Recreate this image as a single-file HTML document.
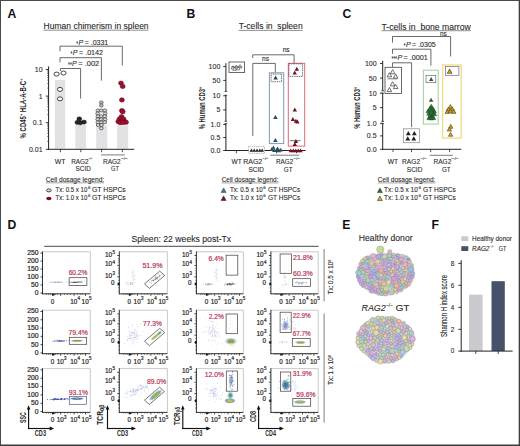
<!DOCTYPE html>
<html><head><meta charset="utf-8"><style>
html,body{margin:0;padding:0;background:#fff;}
body{width:520px;height:446px;overflow:hidden;font-family:"Liberation Sans", sans-serif;}
svg{display:block;}
</style></head><body>
<svg width="520" height="446" viewBox="0 0 520 446" font-family='"Liberation Sans", sans-serif' fill="#2a2a2a">
<rect x="0.5" y="0.5" width="519" height="445" fill="none" stroke="#4a4a4a" stroke-width="1" />
<line x1="0" y1="445.2" x2="520" y2="445.2" stroke="#3a3a3a" stroke-width="1.2" />
<line x1="519.2" y1="0" x2="519.2" y2="446" stroke="#3a3a3a" stroke-width="1" />
<text x="7.4" y="17.6" font-size="12.2" font-weight="bold" fill="#111">A</text>
<text x="186.4" y="17.6" font-size="12.2" font-weight="bold" fill="#111">B</text>
<text x="342.5" y="18" font-size="12.2" font-weight="bold" fill="#111">C</text>
<text x="7.6" y="228.8" font-size="12.2" font-weight="bold" fill="#111">D</text>
<text x="342.3" y="228.8" font-size="12.2" font-weight="bold" fill="#111">E</text>
<text x="431.5" y="228.8" font-size="12.2" font-weight="bold" fill="#111">F</text>
<text x="43.6" y="29.2" font-size="8.6" textLength="105" lengthAdjust="spacingAndGlyphs" stroke="#2a2a2a" stroke-width="0.1">Human chimerism in spleen</text>
<line x1="43.6" y1="30.2" x2="148.6" y2="30.2" stroke="#444" stroke-width="0.6" />
<text x="76.3" y="45.5" font-size="7.4" font-weight="bold" textLength="1.8" lengthAdjust="spacingAndGlyphs">*</text>
<text x="78.5" y="44.6" font-size="7" font-style="italic" stroke="#2a2a2a" stroke-width="0.1">P</text>
<text x="84.7" y="44.6" font-size="7" textLength="23.5" lengthAdjust="spacingAndGlyphs" stroke="#2a2a2a" stroke-width="0.1">= .0331</text>
<text x="70.6" y="56" font-size="7.4" font-weight="bold" textLength="1.8" lengthAdjust="spacingAndGlyphs">*</text>
<text x="72.8" y="55.1" font-size="7" font-style="italic" stroke="#2a2a2a" stroke-width="0.1">P</text>
<text x="79" y="55.1" font-size="7" textLength="24" lengthAdjust="spacingAndGlyphs" stroke="#2a2a2a" stroke-width="0.1">= .0142</text>
<text x="68.1" y="67.1" font-size="7.4" font-weight="bold" textLength="3.6" lengthAdjust="spacingAndGlyphs">**</text>
<text x="72.1" y="66.2" font-size="7" font-style="italic" stroke="#2a2a2a" stroke-width="0.1">P</text>
<text x="78.3" y="66.2" font-size="7" textLength="21" lengthAdjust="spacingAndGlyphs" stroke="#2a2a2a" stroke-width="0.1">= .002</text>
<path d="M60,51.4V46.2H122.3V65.5" stroke="#444" stroke-width="0.8" fill="none" />
<path d="M60,62.4V57.7H101.4V80.6" stroke="#444" stroke-width="0.8" fill="none" />
<path d="M60.4,71V68.5H80.6V98.5" stroke="#444" stroke-width="0.8" fill="none" />
<rect x="54.8" y="80" width="10.4" height="68.6" fill="#e2e2e5" />
<rect x="75.3" y="124.8" width="10.8" height="23.8" fill="#e2e2e5" />
<rect x="96.2" y="125.5" width="11" height="23.1" fill="#e2e2e5" />
<rect x="117.1" y="125.5" width="11" height="23.1" fill="#e2e2e5" />
<line x1="48.6" y1="66.4" x2="48.6" y2="149.6" stroke="#222" stroke-width="1" />
<line x1="48.1" y1="149.3" x2="134.2" y2="149.3" stroke="#222" stroke-width="1" />
<line x1="45.8" y1="69.5" x2="48.6" y2="69.5" stroke="#222" stroke-width="0.9" />
<text x="42.6" y="72" font-size="7" text-anchor="end" stroke="#2a2a2a" stroke-width="0.1">10</text>
<line x1="47" y1="88.09" x2="48.6" y2="88.09" stroke="#222" stroke-width="0.5" />
<line x1="47" y1="83.41" x2="48.6" y2="83.41" stroke="#222" stroke-width="0.5" />
<line x1="47" y1="80.09" x2="48.6" y2="80.09" stroke="#222" stroke-width="0.5" />
<line x1="47" y1="77.51" x2="48.6" y2="77.51" stroke="#222" stroke-width="0.5" />
<line x1="47" y1="75.4" x2="48.6" y2="75.4" stroke="#222" stroke-width="0.5" />
<line x1="47" y1="73.62" x2="48.6" y2="73.62" stroke="#222" stroke-width="0.5" />
<line x1="47" y1="72.08" x2="48.6" y2="72.08" stroke="#222" stroke-width="0.5" />
<line x1="47" y1="70.72" x2="48.6" y2="70.72" stroke="#222" stroke-width="0.5" />
<line x1="45.8" y1="96.1" x2="48.6" y2="96.1" stroke="#222" stroke-width="0.9" />
<text x="42.6" y="98.6" font-size="7" text-anchor="end" stroke="#2a2a2a" stroke-width="0.1">1</text>
<line x1="47" y1="114.69" x2="48.6" y2="114.69" stroke="#222" stroke-width="0.5" />
<line x1="47" y1="110.01" x2="48.6" y2="110.01" stroke="#222" stroke-width="0.5" />
<line x1="47" y1="106.69" x2="48.6" y2="106.69" stroke="#222" stroke-width="0.5" />
<line x1="47" y1="104.11" x2="48.6" y2="104.11" stroke="#222" stroke-width="0.5" />
<line x1="47" y1="102" x2="48.6" y2="102" stroke="#222" stroke-width="0.5" />
<line x1="47" y1="100.22" x2="48.6" y2="100.22" stroke="#222" stroke-width="0.5" />
<line x1="47" y1="98.68" x2="48.6" y2="98.68" stroke="#222" stroke-width="0.5" />
<line x1="47" y1="97.32" x2="48.6" y2="97.32" stroke="#222" stroke-width="0.5" />
<line x1="45.8" y1="122.7" x2="48.6" y2="122.7" stroke="#222" stroke-width="0.9" />
<text x="42.6" y="125.2" font-size="7" text-anchor="end" stroke="#2a2a2a" stroke-width="0.1">0.1</text>
<line x1="47" y1="141.29" x2="48.6" y2="141.29" stroke="#222" stroke-width="0.5" />
<line x1="47" y1="136.61" x2="48.6" y2="136.61" stroke="#222" stroke-width="0.5" />
<line x1="47" y1="133.29" x2="48.6" y2="133.29" stroke="#222" stroke-width="0.5" />
<line x1="47" y1="130.71" x2="48.6" y2="130.71" stroke="#222" stroke-width="0.5" />
<line x1="47" y1="128.6" x2="48.6" y2="128.6" stroke="#222" stroke-width="0.5" />
<line x1="47" y1="126.82" x2="48.6" y2="126.82" stroke="#222" stroke-width="0.5" />
<line x1="47" y1="125.28" x2="48.6" y2="125.28" stroke="#222" stroke-width="0.5" />
<line x1="47" y1="123.92" x2="48.6" y2="123.92" stroke="#222" stroke-width="0.5" />
<line x1="45.8" y1="149.3" x2="48.6" y2="149.3" stroke="#222" stroke-width="0.9" />
<text x="42.6" y="151.8" font-size="7" text-anchor="end" stroke="#2a2a2a" stroke-width="0.1">0.01</text>
<line x1="60.4" y1="149.3" x2="60.4" y2="152.2" stroke="#222" stroke-width="0.8" />
<line x1="80.8" y1="149.3" x2="80.8" y2="152.2" stroke="#222" stroke-width="0.8" />
<line x1="101.6" y1="149.3" x2="101.6" y2="152.2" stroke="#222" stroke-width="0.8" />
<line x1="122.4" y1="149.3" x2="122.4" y2="152.2" stroke="#222" stroke-width="0.8" />
<text font-size="8.3" font-weight="bold" transform="translate(25.8,108.5) rotate(-90) scale(0.7244,1)" x="-41.28" y="0"><tspan font-size="8.3" dy="0">% CD45</tspan><tspan font-size="5.15" dy="-3.15">+</tspan><tspan font-size="8.3" dy="3.15"> HLA-A-B-C</tspan><tspan font-size="5.15" dy="-3.15">+</tspan></text>
<ellipse cx="56.6" cy="74.1" rx="2.6" ry="2" fill="#fff" stroke="#333" stroke-width="0.9"/>
<ellipse cx="63.5" cy="73" rx="2.6" ry="2" fill="#fff" stroke="#333" stroke-width="0.9"/>
<ellipse cx="60" cy="89.4" rx="2.6" ry="2" fill="#fff" stroke="#333" stroke-width="0.9"/>
<ellipse cx="60" cy="98.9" rx="2.6" ry="2" fill="#fff" stroke="#333" stroke-width="0.9"/>
<ellipse cx="79.3" cy="118.9" rx="2.5" ry="2.1" fill="#262626" stroke="#111" stroke-width="0.4"/>
<ellipse cx="77.4" cy="122.4" rx="2.5" ry="2.1" fill="#262626" stroke="#111" stroke-width="0.4"/>
<ellipse cx="84" cy="122.1" rx="2.5" ry="2.1" fill="#262626" stroke="#111" stroke-width="0.4"/>
<ellipse cx="80.4" cy="122.8" rx="2.5" ry="2.1" fill="#262626" stroke="#111" stroke-width="0.4"/>
<ellipse cx="101.3" cy="102.5" rx="1.9" ry="1.5" fill="#dadada" stroke="#3a3a3a" stroke-width="0.7"/>
<ellipse cx="101.3" cy="105.5" rx="1.9" ry="1.5" fill="#dadada" stroke="#3a3a3a" stroke-width="0.7"/>
<ellipse cx="97.9" cy="110.5" rx="1.9" ry="1.5" fill="#dadada" stroke="#3a3a3a" stroke-width="0.7"/>
<ellipse cx="101.3" cy="110.5" rx="1.9" ry="1.5" fill="#dadada" stroke="#3a3a3a" stroke-width="0.7"/>
<ellipse cx="104.9" cy="110.5" rx="1.9" ry="1.5" fill="#dadada" stroke="#3a3a3a" stroke-width="0.7"/>
<ellipse cx="97.7" cy="113.5" rx="1.9" ry="1.5" fill="#dadada" stroke="#3a3a3a" stroke-width="0.7"/>
<ellipse cx="105.1" cy="113.5" rx="1.9" ry="1.5" fill="#dadada" stroke="#3a3a3a" stroke-width="0.7"/>
<ellipse cx="97.9" cy="116.3" rx="1.9" ry="1.5" fill="#dadada" stroke="#3a3a3a" stroke-width="0.7"/>
<ellipse cx="101.2" cy="116.3" rx="1.9" ry="1.5" fill="#dadada" stroke="#3a3a3a" stroke-width="0.7"/>
<ellipse cx="104.9" cy="116.3" rx="1.9" ry="1.5" fill="#dadada" stroke="#3a3a3a" stroke-width="0.7"/>
<ellipse cx="97.7" cy="119.3" rx="1.9" ry="1.5" fill="#dadada" stroke="#3a3a3a" stroke-width="0.7"/>
<ellipse cx="101.2" cy="119.3" rx="1.9" ry="1.5" fill="#dadada" stroke="#3a3a3a" stroke-width="0.7"/>
<ellipse cx="105.1" cy="119.3" rx="1.9" ry="1.5" fill="#dadada" stroke="#3a3a3a" stroke-width="0.7"/>
<ellipse cx="97.9" cy="122.3" rx="1.9" ry="1.5" fill="#dadada" stroke="#3a3a3a" stroke-width="0.7"/>
<ellipse cx="101.3" cy="122.3" rx="1.9" ry="1.5" fill="#dadada" stroke="#3a3a3a" stroke-width="0.7"/>
<ellipse cx="104.8" cy="122.3" rx="1.9" ry="1.5" fill="#dadada" stroke="#3a3a3a" stroke-width="0.7"/>
<ellipse cx="98.2" cy="125" rx="1.9" ry="1.5" fill="#dadada" stroke="#3a3a3a" stroke-width="0.7"/>
<ellipse cx="101.5" cy="125" rx="1.9" ry="1.5" fill="#dadada" stroke="#3a3a3a" stroke-width="0.7"/>
<ellipse cx="101.3" cy="128.3" rx="1.9" ry="1.5" fill="#dadada" stroke="#3a3a3a" stroke-width="0.7"/>
<line x1="99.6" y1="102.5" x2="103" y2="102.5" stroke="#888" stroke-width="0.5" />
<line x1="99.6" y1="105.5" x2="103" y2="105.5" stroke="#888" stroke-width="0.5" />
<ellipse cx="121" cy="83.1" rx="2.5" ry="2.2" fill="#a0102e" stroke="#5a0818" stroke-width="0.5"/>
<ellipse cx="122.7" cy="86.4" rx="2.5" ry="2.2" fill="#a0102e" stroke="#5a0818" stroke-width="0.5"/>
<ellipse cx="121.9" cy="99.9" rx="2.5" ry="2.2" fill="#a0102e" stroke="#5a0818" stroke-width="0.5"/>
<ellipse cx="121.9" cy="110.6" rx="2.5" ry="2.2" fill="#a0102e" stroke="#5a0818" stroke-width="0.5"/>
<ellipse cx="122.7" cy="111.7" rx="2.5" ry="2.2" fill="#a0102e" stroke="#5a0818" stroke-width="0.5"/>
<ellipse cx="121.5" cy="116.8" rx="2.5" ry="2.2" fill="#a0102e" stroke="#5a0818" stroke-width="0.5"/>
<ellipse cx="119.5" cy="119" rx="2.5" ry="2.2" fill="#a0102e" stroke="#5a0818" stroke-width="0.5"/>
<ellipse cx="123.5" cy="119" rx="2.5" ry="2.2" fill="#a0102e" stroke="#5a0818" stroke-width="0.5"/>
<ellipse cx="118.3" cy="121.5" rx="2.5" ry="2.2" fill="#a0102e" stroke="#5a0818" stroke-width="0.5"/>
<ellipse cx="121" cy="121.8" rx="2.5" ry="2.2" fill="#a0102e" stroke="#5a0818" stroke-width="0.5"/>
<ellipse cx="124.3" cy="121.5" rx="2.5" ry="2.2" fill="#a0102e" stroke="#5a0818" stroke-width="0.5"/>
<ellipse cx="126" cy="122.2" rx="2.5" ry="2.2" fill="#a0102e" stroke="#5a0818" stroke-width="0.5"/>
<ellipse cx="120" cy="122.6" rx="2.5" ry="2.2" fill="#a0102e" stroke="#5a0818" stroke-width="0.5"/>
<ellipse cx="122.8" cy="122.6" rx="2.5" ry="2.2" fill="#a0102e" stroke="#5a0818" stroke-width="0.5"/>
<text x="54.8" y="163.9" font-size="7" textLength="10.8" lengthAdjust="spacingAndGlyphs" stroke="#2a2a2a" stroke-width="0.1">WT</text>
<text x="71.2" y="163.9" font-size="7" textLength="17.3" lengthAdjust="spacingAndGlyphs" stroke="#2a2a2a" stroke-width="0.1">RAG2</text>
<text x="88.8" y="160.3" font-size="4.3" textLength="3.8" lengthAdjust="spacingAndGlyphs" stroke="#2a2a2a" stroke-width="0.1">&#8722;/&#8722;</text>
<text x="75.5" y="171.4" font-size="7" textLength="15.3" lengthAdjust="spacingAndGlyphs" stroke="#2a2a2a" stroke-width="0.1">SCID</text>
<text x="103" y="163.9" font-size="7" textLength="17.6" lengthAdjust="spacingAndGlyphs" stroke="#2a2a2a" stroke-width="0.1">RAG2</text>
<text x="120.9" y="160.3" font-size="4.3" textLength="6.9" lengthAdjust="spacingAndGlyphs" stroke="#2a2a2a" stroke-width="0.1">&#8722;/&#8722;</text>
<text x="111" y="171.4" font-size="7" textLength="7.9" lengthAdjust="spacingAndGlyphs" stroke="#2a2a2a" stroke-width="0.1">GT</text>
<line x1="101" y1="154.9" x2="124.8" y2="154.9" stroke="#444" stroke-width="0.7" />
<text x="45.8" y="181.8" font-size="6.6" textLength="58.4" lengthAdjust="spacingAndGlyphs" stroke="#2a2a2a" stroke-width="0.1">Cell dosage legend:</text>
<line x1="45.8" y1="182.8" x2="104.2" y2="182.8" stroke="#444" stroke-width="0.5" />
<ellipse cx="48.9" cy="190.4" rx="2.4" ry="1.5" fill="#dcdcdc" stroke="#333" stroke-width="0.9"/>
<text x="55.5" y="192.3" font-size="6.7" textLength="31.8" lengthAdjust="spacingAndGlyphs" stroke="#2a2a2a" stroke-width="0.1">Tx: 0.5 x 10</text>
<text x="87.9" y="189.3" font-size="4.4" stroke="#2a2a2a" stroke-width="0.1">6</text>
<text x="91.9" y="192.3" font-size="6.7" textLength="33.9" lengthAdjust="spacingAndGlyphs" stroke="#2a2a2a" stroke-width="0.1">GT HSPCs</text>
<ellipse cx="48.9" cy="198.5" rx="2.7" ry="1.8" fill="#7a0c22"/>
<text x="55.5" y="200.3" font-size="6.7" textLength="31.8" lengthAdjust="spacingAndGlyphs" stroke="#2a2a2a" stroke-width="0.1">Tx: 1.0 x 10</text>
<text x="87.9" y="197.3" font-size="4.4" stroke="#2a2a2a" stroke-width="0.1">6</text>
<text x="91.9" y="200.3" font-size="6.7" textLength="33.9" lengthAdjust="spacingAndGlyphs" stroke="#2a2a2a" stroke-width="0.1">GT HSPCs</text>
<text x="238.7" y="29.4" font-size="8.6" textLength="64" lengthAdjust="spacingAndGlyphs" stroke="#2a2a2a" stroke-width="0.1">T-cells in&#160;&#160;spleen</text>
<line x1="238.7" y1="30.4" x2="302.7" y2="30.4" stroke="#444" stroke-width="0.6" />
<text x="282.7" y="51.6" font-size="7" textLength="7" lengthAdjust="spacingAndGlyphs" stroke="#2a2a2a" stroke-width="0.1">ns</text>
<text x="262" y="61.4" font-size="7" textLength="7" lengthAdjust="spacingAndGlyphs" stroke="#2a2a2a" stroke-width="0.1">ns</text>
<path d="M252.7,58V54.8H294.1V63.2" stroke="#444" stroke-width="0.8" fill="none" />
<path d="M252.8,136V63.4H275.3V72.6" stroke="#444" stroke-width="0.8" fill="none" />
<line x1="225.9" y1="63.2" x2="225.9" y2="91.4" stroke="#222" stroke-width="1" />
<line x1="225.9" y1="95.3" x2="225.9" y2="121.3" stroke="#222" stroke-width="1" />
<line x1="225.9" y1="123.6" x2="225.9" y2="150.9" stroke="#222" stroke-width="1" />
<line x1="224.6" y1="91.4" x2="227.2" y2="91.4" stroke="#222" stroke-width="0.8" />
<line x1="224.6" y1="95.3" x2="227.2" y2="95.3" stroke="#222" stroke-width="0.8" />
<line x1="224.6" y1="121.3" x2="227.2" y2="121.3" stroke="#222" stroke-width="0.8" />
<line x1="224.6" y1="123.6" x2="227.2" y2="123.6" stroke="#222" stroke-width="0.8" />
<line x1="223.2" y1="66.6" x2="225.9" y2="66.6" stroke="#222" stroke-width="0.9" />
<text x="220.3" y="69.1" font-size="7" text-anchor="end" stroke="#2a2a2a" stroke-width="0.1">100</text>
<line x1="223.2" y1="80.4" x2="225.9" y2="80.4" stroke="#222" stroke-width="0.9" />
<text x="220.3" y="82.9" font-size="7" text-anchor="end" stroke="#2a2a2a" stroke-width="0.1">50</text>
<line x1="223.2" y1="95.8" x2="225.9" y2="95.8" stroke="#222" stroke-width="0.9" />
<text x="220.3" y="98.3" font-size="7" text-anchor="end" stroke="#2a2a2a" stroke-width="0.1">10</text>
<line x1="223.2" y1="109.9" x2="225.9" y2="109.9" stroke="#222" stroke-width="0.9" />
<text x="220.3" y="112.4" font-size="7" text-anchor="end" stroke="#2a2a2a" stroke-width="0.1">5</text>
<line x1="223.2" y1="124.4" x2="225.9" y2="124.4" stroke="#222" stroke-width="0.9" />
<text x="220.3" y="126.9" font-size="7" text-anchor="end" stroke="#2a2a2a" stroke-width="0.1">1.0</text>
<line x1="223.2" y1="137.5" x2="225.9" y2="137.5" stroke="#222" stroke-width="0.9" />
<text x="220.3" y="140" font-size="7" text-anchor="end" stroke="#2a2a2a" stroke-width="0.1">0.5</text>
<line x1="223.2" y1="150.5" x2="225.9" y2="150.5" stroke="#222" stroke-width="0.9" />
<text x="220.3" y="153" font-size="7" text-anchor="end" stroke="#2a2a2a" stroke-width="0.1">0.0</text>
<line x1="225.4" y1="150.5" x2="305.6" y2="150.5" stroke="#222" stroke-width="1" />
<line x1="236.4" y1="150.5" x2="236.4" y2="153.3" stroke="#222" stroke-width="0.8" />
<line x1="256.5" y1="150.5" x2="256.5" y2="153.3" stroke="#222" stroke-width="0.8" />
<line x1="276.5" y1="150.5" x2="276.5" y2="153.3" stroke="#222" stroke-width="0.8" />
<line x1="296.5" y1="150.5" x2="296.5" y2="153.3" stroke="#222" stroke-width="0.8" />
<text font-size="8.4" font-weight="bold" transform="translate(205.1,108.1) rotate(-90) scale(0.7031,1)" x="-30.23" y="0"><tspan font-size="8.4" dy="0">% Human CD3</tspan><tspan font-size="5.21" dy="-3.19">+</tspan></text>
<rect x="229" y="62" width="15.6" height="10.4" fill="#fff" stroke="#444" stroke-width="0.8" />
<path d="M233,65.78L234.8,69.02L231.2,69.02Z" fill="#fff" stroke="#333" stroke-width="0.55" stroke-linejoin="round"/>
<path d="M236.4,64.98L238.2,68.22L234.6,68.22Z" fill="#fff" stroke="#333" stroke-width="0.55" stroke-linejoin="round"/>
<path d="M240,64.58L241.8,67.82L238.2,67.82Z" fill="#fff" stroke="#333" stroke-width="0.55" stroke-linejoin="round"/>
<path d="M238.2,66.58L240,69.82L236.4,69.82Z" fill="#fff" stroke="#333" stroke-width="0.55" stroke-linejoin="round"/>
<path d="M234.6,67.18L236.4,70.42L232.8,70.42Z" fill="#fff" stroke="#333" stroke-width="0.55" stroke-linejoin="round"/>
<line x1="231.1" y1="66.9" x2="242.3" y2="66.9" stroke="#333" stroke-width="0.6" />
<rect x="269.4" y="72.8" width="14.3" height="70.8" fill="none" stroke="#7f98bd" stroke-width="1" />
<rect x="288.3" y="63.3" width="16.4" height="82.8" fill="none" stroke="#de6a79" stroke-width="1" />
<rect x="271.1" y="74.1" width="10.5" height="7.6" fill="none" stroke="#3a3a40" stroke-width="0.75" stroke-dasharray="1.1,0.7"/>
<rect x="288.9" y="63.8" width="13.7" height="12.6" fill="none" stroke="#3a3038" stroke-width="0.75" stroke-dasharray="1.1,0.7"/>
<rect x="248.6" y="146.4" width="15.9" height="6.9" fill="#fff" stroke="#777" stroke-width="0.6" stroke-dasharray="1,0.8"/>
<path d="M275.6,75.62L277.8,79.58L273.4,79.58Z" fill="#2a3f4a"/>
<path d="M275.4,114.89L277.75,119.11L273.05,119.11Z" fill="#28525e"/>
<path d="M275.4,137.88L277.75,142.12L273.05,142.12Z" fill="#28525e"/>
<path d="M271.8,147.11L273.9,150.89L269.7,150.89Z" fill="#28525e"/>
<path d="M274.2,148.31L276.3,152.09L272.1,152.09Z" fill="#28525e"/>
<path d="M276.6,148.11L278.7,151.89L274.5,151.89Z" fill="#28525e"/>
<path d="M279,148.51L281.1,152.29L276.9,152.29Z" fill="#28525e"/>
<path d="M273.4,145.41L275.5,149.19L271.3,149.19Z" fill="#28525e"/>
<path d="M280.8,147.71L282.9,151.49L278.7,151.49Z" fill="#28525e"/>
<path d="M277.6,146.41L279.7,150.19L275.5,150.19Z" fill="#28525e"/>
<path d="M296.8,66.72L299,70.68L294.6,70.68Z" fill="#72102c"/>
<path d="M294.7,70.42L296.9,74.38L292.5,74.38Z" fill="#72102c"/>
<path d="M294.8,107.62L297,111.58L292.6,111.58Z" fill="#72102c"/>
<path d="M292.9,117.02L295.1,120.98L290.7,120.98Z" fill="#72102c"/>
<path d="M295.9,118.72L298.1,122.68L293.7,122.68Z" fill="#72102c"/>
<path d="M297.4,119.42L299.6,123.38L295.2,123.38Z" fill="#72102c"/>
<path d="M295.9,139.02L298.1,142.98L293.7,142.98Z" fill="#72102c"/>
<path d="M294.8,141.92L297,145.88L292.6,145.88Z" fill="#72102c"/>
<line x1="289.7" y1="140.7" x2="300.4" y2="140.7" stroke="#333" stroke-width="0.7" />
<path d="M290.8,148.41L292.9,152.19L288.7,152.19Z" fill="#72102c"/>
<path d="M293.3,148.41L295.4,152.19L291.2,152.19Z" fill="#72102c"/>
<path d="M295.8,148.41L297.9,152.19L293.7,152.19Z" fill="#72102c"/>
<path d="M298.3,148.41L300.4,152.19L296.2,152.19Z" fill="#72102c"/>
<path d="M300.6,148.41L302.7,152.19L298.5,152.19Z" fill="#72102c"/>
<path d="M251.4,148.58L253.2,151.82L249.6,151.82Z" fill="#222"/>
<path d="M254.2,148.58L256,151.82L252.4,151.82Z" fill="#222"/>
<path d="M257,148.58L258.8,151.82L255.2,151.82Z" fill="#222"/>
<path d="M259.8,148.58L261.6,151.82L258,151.82Z" fill="#222"/>
<path d="M262.2,148.58L264,151.82L260.4,151.82Z" fill="#222"/>
<text x="231.6" y="163.8" font-size="7" textLength="10.2" lengthAdjust="spacingAndGlyphs" stroke="#2a2a2a" stroke-width="0.1">WT</text>
<text x="243.2" y="163.8" font-size="7" textLength="19" lengthAdjust="spacingAndGlyphs" stroke="#2a2a2a" stroke-width="0.1">RAG2</text>
<text x="262.5" y="160.2" font-size="4.3" textLength="5.9" lengthAdjust="spacingAndGlyphs" stroke="#2a2a2a" stroke-width="0.1">&#8722;/&#8722;</text>
<text x="248.4" y="172" font-size="7" textLength="15.5" lengthAdjust="spacingAndGlyphs" stroke="#2a2a2a" stroke-width="0.1">SCID</text>
<text x="276" y="163.8" font-size="7" textLength="17.3" lengthAdjust="spacingAndGlyphs" stroke="#2a2a2a" stroke-width="0.1">RAG2</text>
<text x="293.6" y="160.2" font-size="4.3" textLength="6.7" lengthAdjust="spacingAndGlyphs" stroke="#2a2a2a" stroke-width="0.1">&#8722;/&#8722;</text>
<text x="283.8" y="172" font-size="7" textLength="8.7" lengthAdjust="spacingAndGlyphs" stroke="#2a2a2a" stroke-width="0.1">GT</text>
<line x1="270.3" y1="155.2" x2="299.4" y2="155.2" stroke="#444" stroke-width="0.7" />
<text x="221.7" y="181.9" font-size="6.6" textLength="56.8" lengthAdjust="spacingAndGlyphs" stroke="#2a2a2a" stroke-width="0.1">Cell dosage legend:</text>
<line x1="221.7" y1="182.9" x2="278.5" y2="182.9" stroke="#444" stroke-width="0.5" />
<path d="M223.6,187.95L226.1,192.45L221.1,192.45Z" fill="#3a7890" stroke="#1e3c48" stroke-width="0.5" stroke-linejoin="round"/>
<text x="229.9" y="192.4" font-size="6.7" textLength="32.8" lengthAdjust="spacingAndGlyphs" stroke="#2a2a2a" stroke-width="0.1">Tx: 0.5 x 10</text>
<text x="263.3" y="189.4" font-size="4.4" stroke="#2a2a2a" stroke-width="0.1">6</text>
<text x="268" y="192.4" font-size="6.7" textLength="32.2" lengthAdjust="spacingAndGlyphs" stroke="#2a2a2a" stroke-width="0.1">GT HSPCs</text>
<path d="M223.6,195.95L226.1,200.45L221.1,200.45Z" fill="#6a1a30" stroke="#3a0a18" stroke-width="0.5" stroke-linejoin="round"/>
<text x="229.9" y="200.4" font-size="6.7" textLength="32.8" lengthAdjust="spacingAndGlyphs" stroke="#2a2a2a" stroke-width="0.1">Tx: 1.0 x 10</text>
<text x="263.3" y="197.4" font-size="4.4" stroke="#2a2a2a" stroke-width="0.1">6</text>
<text x="268" y="200.4" font-size="6.7" textLength="32.2" lengthAdjust="spacingAndGlyphs" stroke="#2a2a2a" stroke-width="0.1">GT HSPCs</text>
<text x="381.5" y="29.7" font-size="8.6" textLength="89.3" lengthAdjust="spacingAndGlyphs" stroke="#2a2a2a" stroke-width="0.1">T-cells in&#160;&#160;bone marrow</text>
<line x1="381.5" y1="30.7" x2="470.8" y2="30.7" stroke="#444" stroke-width="0.6" />
<text x="440" y="35.6" font-size="7" textLength="6.8" lengthAdjust="spacingAndGlyphs" stroke="#2a2a2a" stroke-width="0.1">ns</text>
<text x="403.7" y="47.9" font-size="7.4" font-weight="bold" textLength="1.8" lengthAdjust="spacingAndGlyphs">*</text>
<text x="405.9" y="47" font-size="7" font-style="italic" stroke="#2a2a2a" stroke-width="0.1">P</text>
<text x="412.1" y="47" font-size="7" textLength="23.7" lengthAdjust="spacingAndGlyphs" stroke="#2a2a2a" stroke-width="0.1">= .0305</text>
<text x="391.6" y="61.3" font-size="7.4" font-weight="bold" textLength="5.4" lengthAdjust="spacingAndGlyphs">***</text>
<text x="397.4" y="60.4" font-size="7" font-style="italic" stroke="#2a2a2a" stroke-width="0.1">P</text>
<text x="403.6" y="60.4" font-size="7" textLength="24.3" lengthAdjust="spacingAndGlyphs" stroke="#2a2a2a" stroke-width="0.1">= .0001</text>
<path d="M392.5,42.7V36.5H450.6V56.5" stroke="#444" stroke-width="0.8" fill="none" />
<path d="M392.5,53.8V49.2H430.9V65.7" stroke="#444" stroke-width="0.8" fill="none" />
<path d="M392.6,67.3V62.8H411.6V127.2" stroke="#444" stroke-width="0.8" fill="none" />
<line x1="382.7" y1="60.8" x2="382.7" y2="90.8" stroke="#222" stroke-width="1" />
<line x1="382.7" y1="93.2" x2="382.7" y2="121.4" stroke="#222" stroke-width="1" />
<line x1="382.7" y1="123.6" x2="382.7" y2="149.8" stroke="#222" stroke-width="1" />
<line x1="381.4" y1="90.8" x2="384" y2="90.8" stroke="#222" stroke-width="0.8" />
<line x1="381.4" y1="93.2" x2="384" y2="93.2" stroke="#222" stroke-width="0.8" />
<line x1="381.4" y1="121.4" x2="384" y2="121.4" stroke="#222" stroke-width="0.8" />
<line x1="381.4" y1="123.6" x2="384" y2="123.6" stroke="#222" stroke-width="0.8" />
<line x1="380" y1="63.5" x2="382.7" y2="63.5" stroke="#222" stroke-width="0.9" />
<text x="376.6" y="66" font-size="7" text-anchor="end" stroke="#2a2a2a" stroke-width="0.1">100</text>
<line x1="380" y1="78.1" x2="382.7" y2="78.1" stroke="#222" stroke-width="0.9" />
<text x="376.6" y="80.6" font-size="7" text-anchor="end" stroke="#2a2a2a" stroke-width="0.1">50</text>
<line x1="380" y1="93.2" x2="382.7" y2="93.2" stroke="#222" stroke-width="0.9" />
<text x="376.6" y="95.7" font-size="7" text-anchor="end" stroke="#2a2a2a" stroke-width="0.1">10</text>
<line x1="380" y1="107.6" x2="382.7" y2="107.6" stroke="#222" stroke-width="0.9" />
<text x="376.6" y="110.1" font-size="7" text-anchor="end" stroke="#2a2a2a" stroke-width="0.1">5</text>
<line x1="380" y1="123.3" x2="382.7" y2="123.3" stroke="#222" stroke-width="0.9" />
<text x="376.6" y="125.8" font-size="7" text-anchor="end" stroke="#2a2a2a" stroke-width="0.1">1.0</text>
<line x1="380" y1="135.9" x2="382.7" y2="135.9" stroke="#222" stroke-width="0.9" />
<text x="376.6" y="138.4" font-size="7" text-anchor="end" stroke="#2a2a2a" stroke-width="0.1">0.5</text>
<line x1="380" y1="149.3" x2="382.7" y2="149.3" stroke="#222" stroke-width="0.9" />
<text x="376.6" y="151.8" font-size="7" text-anchor="end" stroke="#2a2a2a" stroke-width="0.1">0.0</text>
<line x1="382.2" y1="149.3" x2="461.3" y2="149.3" stroke="#222" stroke-width="1" />
<line x1="393" y1="149.3" x2="393" y2="152.1" stroke="#222" stroke-width="0.8" />
<line x1="411.5" y1="149.3" x2="411.5" y2="152.1" stroke="#222" stroke-width="0.8" />
<line x1="430.7" y1="149.3" x2="430.7" y2="152.1" stroke="#222" stroke-width="0.8" />
<line x1="449.6" y1="149.3" x2="449.6" y2="152.1" stroke="#222" stroke-width="0.8" />
<text font-size="8.4" font-weight="bold" transform="translate(360.3,107.9) rotate(-90) scale(0.6931,1)" x="-30.23" y="0"><tspan font-size="8.4" dy="0">% Human CD3</tspan><tspan font-size="5.21" dy="-3.19">+</tspan></text>
<rect x="385" y="67.3" width="16.4" height="26.2" fill="#fff" stroke="#444" stroke-width="0.8" />
<rect x="403.5" y="128.8" width="16.1" height="13.9" fill="#fff" stroke="#888" stroke-width="0.7" />
<rect x="423.4" y="70.2" width="14.8" height="53.9" fill="none" stroke="#a9d2a9" stroke-width="1.1" />
<rect x="442.6" y="65" width="18.6" height="73.1" fill="none" stroke="#f3da86" stroke-width="1.3" />
<rect x="426" y="75.3" width="9.8" height="7.4" fill="none" stroke="#555" stroke-width="0.6" />
<rect x="445.5" y="66.5" width="13.4" height="8.8" fill="none" stroke="#6d6585" stroke-width="0.7" />
<line x1="387.6" y1="78.8" x2="397.5" y2="78.8" stroke="#555" stroke-width="0.8" />
<path d="M389.4,72.73L391.7,76.87L387.1,76.87Z" fill="#fff" stroke="#333" stroke-width="0.7" stroke-linejoin="round"/>
<path d="M392.6,69.63L394.9,73.77L390.3,73.77Z" fill="#fff" stroke="#333" stroke-width="0.7" stroke-linejoin="round"/>
<path d="M395.7,74.03L398,78.17L393.4,78.17Z" fill="#fff" stroke="#333" stroke-width="0.7" stroke-linejoin="round"/>
<path d="M392.6,81.73L394.9,85.87L390.3,85.87Z" fill="#fff" stroke="#333" stroke-width="0.7" stroke-linejoin="round"/>
<path d="M395.7,84.43L398,88.57L393.4,88.57Z" fill="#fff" stroke="#333" stroke-width="0.7" stroke-linejoin="round"/>
<path d="M389.4,87.53L391.7,91.67L387.1,91.67Z" fill="#fff" stroke="#333" stroke-width="0.7" stroke-linejoin="round"/>
<path d="M408.3,131.04L410.7,135.36L405.9,135.36Z" fill="#1e1e1e"/>
<path d="M414.3,131.04L416.7,135.36L411.9,135.36Z" fill="#1e1e1e"/>
<path d="M407.8,136.24L410.2,140.56L405.4,140.56Z" fill="#1e1e1e"/>
<path d="M413.8,136.24L416.2,140.56L411.4,140.56Z" fill="#1e1e1e"/>
<path d="M431.2,76.92L433.4,80.88L429,80.88Z" fill="#2a5a2e"/>
<path d="M431.1,97.77L433.35,101.83L428.85,101.83Z" fill="#3a5a3c"/>
<path d="M431.2,104.13L433.5,108.27L428.9,108.27Z" fill="#2c7030" stroke="#173d1a" stroke-width="0.4" stroke-linejoin="round"/>
<path d="M429.8,106.43L432.1,110.57L427.5,110.57Z" fill="#2c7030" stroke="#173d1a" stroke-width="0.4" stroke-linejoin="round"/>
<path d="M432.8,106.43L435.1,110.57L430.5,110.57Z" fill="#2c7030" stroke="#173d1a" stroke-width="0.4" stroke-linejoin="round"/>
<path d="M428.2,108.73L430.5,112.87L425.9,112.87Z" fill="#2c7030" stroke="#173d1a" stroke-width="0.4" stroke-linejoin="round"/>
<path d="M431.2,108.53L433.5,112.67L428.9,112.67Z" fill="#2c7030" stroke="#173d1a" stroke-width="0.4" stroke-linejoin="round"/>
<path d="M434.2,108.73L436.5,112.87L431.9,112.87Z" fill="#2c7030" stroke="#173d1a" stroke-width="0.4" stroke-linejoin="round"/>
<path d="M429,111.13L431.3,115.27L426.7,115.27Z" fill="#2c7030" stroke="#173d1a" stroke-width="0.4" stroke-linejoin="round"/>
<path d="M432.6,110.93L434.9,115.07L430.3,115.07Z" fill="#2c7030" stroke="#173d1a" stroke-width="0.4" stroke-linejoin="round"/>
<path d="M434.4,111.53L436.7,115.67L432.1,115.67Z" fill="#2c7030" stroke="#173d1a" stroke-width="0.4" stroke-linejoin="round"/>
<path d="M430,113.53L432.3,117.67L427.7,117.67Z" fill="#2c7030" stroke="#173d1a" stroke-width="0.4" stroke-linejoin="round"/>
<path d="M432.4,113.53L434.7,117.67L430.1,117.67Z" fill="#2c7030" stroke="#173d1a" stroke-width="0.4" stroke-linejoin="round"/>
<path d="M429.2,115.53L431.5,119.67L426.9,119.67Z" fill="#2c7030" stroke="#173d1a" stroke-width="0.4" stroke-linejoin="round"/>
<path d="M431.4,115.73L433.7,119.87L429.1,119.87Z" fill="#2c7030" stroke="#173d1a" stroke-width="0.4" stroke-linejoin="round"/>
<path d="M433.4,115.53L435.7,119.67L431.1,119.67Z" fill="#2c7030" stroke="#173d1a" stroke-width="0.4" stroke-linejoin="round"/>
<path d="M449.6,69.04L452,73.36L447.2,73.36Z" fill="#c9a224" stroke="#3a3020" stroke-width="0.6" stroke-linejoin="round"/>
<path d="M450.4,104.42L452.6,108.38L448.2,108.38Z" fill="#c9a224" stroke="#4a3a10" stroke-width="0.55" stroke-linejoin="round"/>
<path d="M448.4,107.02L450.6,110.98L446.2,110.98Z" fill="#c9a224" stroke="#4a3a10" stroke-width="0.55" stroke-linejoin="round"/>
<path d="M452.4,106.82L454.6,110.78L450.2,110.78Z" fill="#c9a224" stroke="#4a3a10" stroke-width="0.55" stroke-linejoin="round"/>
<path d="M447.2,109.42L449.4,113.38L445,113.38Z" fill="#c9a224" stroke="#4a3a10" stroke-width="0.55" stroke-linejoin="round"/>
<path d="M450.6,109.02L452.8,112.98L448.4,112.98Z" fill="#c9a224" stroke="#4a3a10" stroke-width="0.55" stroke-linejoin="round"/>
<path d="M453.8,109.42L456,113.38L451.6,113.38Z" fill="#c9a224" stroke="#4a3a10" stroke-width="0.55" stroke-linejoin="round"/>
<path d="M450.8,124.32L453,128.28L448.6,128.28Z" fill="#c9a224" stroke="#4a3a10" stroke-width="0.55" stroke-linejoin="round"/>
<path d="M449.4,127.12L451.6,131.08L447.2,131.08Z" fill="#c9a224" stroke="#4a3a10" stroke-width="0.55" stroke-linejoin="round"/>
<path d="M450.6,132.32L452.8,136.28L448.4,136.28Z" fill="#c9a224" stroke="#4a3a10" stroke-width="0.55" stroke-linejoin="round"/>
<text x="387.8" y="163.8" font-size="7" textLength="10.4" lengthAdjust="spacingAndGlyphs" stroke="#2a2a2a" stroke-width="0.1">WT</text>
<text x="402.1" y="163.8" font-size="7" textLength="18" lengthAdjust="spacingAndGlyphs" stroke="#2a2a2a" stroke-width="0.1">RAG2</text>
<text x="420.4" y="160.2" font-size="4.3" textLength="6.3" lengthAdjust="spacingAndGlyphs" stroke="#2a2a2a" stroke-width="0.1">&#8722;/&#8722;</text>
<text x="406.8" y="172" font-size="7" textLength="15.6" lengthAdjust="spacingAndGlyphs" stroke="#2a2a2a" stroke-width="0.1">SCID</text>
<text x="433.6" y="163.8" font-size="7" textLength="17.7" lengthAdjust="spacingAndGlyphs" stroke="#2a2a2a" stroke-width="0.1">RAG2</text>
<text x="451.6" y="160.2" font-size="4.3" textLength="7.1" lengthAdjust="spacingAndGlyphs" stroke="#2a2a2a" stroke-width="0.1">&#8722;/&#8722;</text>
<text x="442" y="172" font-size="7" textLength="8.6" lengthAdjust="spacingAndGlyphs" stroke="#2a2a2a" stroke-width="0.1">GT</text>
<line x1="429.8" y1="155.3" x2="452.7" y2="155.3" stroke="#444" stroke-width="0.7" />
<text x="377.8" y="181.9" font-size="6.6" textLength="57.6" lengthAdjust="spacingAndGlyphs" stroke="#2a2a2a" stroke-width="0.1">Cell dosage legend:</text>
<line x1="377.8" y1="182.9" x2="435.4" y2="182.9" stroke="#444" stroke-width="0.5" />
<path d="M379.9,188.05L382.4,192.55L377.4,192.55Z" fill="#2e6a30" stroke="#1a3a1c" stroke-width="0.5" stroke-linejoin="round"/>
<text x="384" y="192.4" font-size="6.7" textLength="33.8" lengthAdjust="spacingAndGlyphs" stroke="#2a2a2a" stroke-width="0.1">Tx: 0.5 x 10</text>
<text x="418.4" y="189.4" font-size="4.4" stroke="#2a2a2a" stroke-width="0.1">6</text>
<text x="423.1" y="192.4" font-size="6.7" textLength="32.7" lengthAdjust="spacingAndGlyphs" stroke="#2a2a2a" stroke-width="0.1">GT HSPCs</text>
<path d="M379.9,196.05L382.4,200.55L377.4,200.55Z" fill="#c8b040" stroke="#3a3418" stroke-width="0.6" stroke-linejoin="round"/>
<text x="384" y="200.4" font-size="6.7" textLength="33.8" lengthAdjust="spacingAndGlyphs" stroke="#2a2a2a" stroke-width="0.1">Tx: 1.0 x 10</text>
<text x="418.4" y="197.4" font-size="4.4" stroke="#2a2a2a" stroke-width="0.1">6</text>
<text x="423.1" y="200.4" font-size="6.7" textLength="32.7" lengthAdjust="spacingAndGlyphs" stroke="#2a2a2a" stroke-width="0.1">GT HSPCs</text>
<line x1="44.2" y1="246.3" x2="318.6" y2="246.3" stroke="#333" stroke-width="0.9" />
<text x="131.5" y="242" font-size="8.6" textLength="99.7" lengthAdjust="spacingAndGlyphs" stroke="#2a2a2a" stroke-width="0.1">Spleen: 22 weeks post-Tx</text>
<line x1="324.1" y1="249" x2="324.1" y2="301.3" stroke="#8a8a8a" stroke-width="1.1" />
<line x1="324.1" y1="313.4" x2="324.1" y2="422.6" stroke="#8a8a8a" stroke-width="1.1" />
<text font-size="6.7" stroke="#2a2a2a" stroke-width="0.13" transform="translate(333.2,276.9) rotate(-90) scale(0.9327,1)" x="-18.66" y="0"><tspan font-size="6.7" dy="0">Tx: 0.5 x 10</tspan><tspan font-size="4.15" dy="-2.55">6</tspan></text>
<text font-size="6.7" stroke="#2a2a2a" stroke-width="0.13" transform="translate(333.4,369.95) rotate(-90) scale(0.9362,1)" x="-15.86" y="0"><tspan font-size="6.7" dy="0">Tx: 1 x 10</tspan><tspan font-size="4.15" dy="-2.55">6</tspan></text>
<defs><filter id="bl" x="-50%" y="-50%" width="200%" height="200%"><feGaussianBlur stdDeviation="0.45"/></filter></defs>
<line x1="42.5" y1="251.8" x2="90.3" y2="251.8" stroke="#c4c4c4" stroke-width="0.9" />
<line x1="90.3" y1="251.8" x2="90.3" y2="293.8" stroke="#c4c4c4" stroke-width="0.9" />
<line x1="42.5" y1="251.4" x2="42.5" y2="294.2" stroke="#1a1a1a" stroke-width="0.9" />
<line x1="42.1" y1="293.8" x2="90.3" y2="293.8" stroke="#1a1a1a" stroke-width="0.9" />
<line x1="40.5" y1="253.1" x2="42.5" y2="253.1" stroke="#1a1a1a" stroke-width="0.8" />
<text x="38.6" y="255" font-size="6.3" text-anchor="end" textLength="11.4" lengthAdjust="spacingAndGlyphs" stroke="#2a2a2a" stroke-width="0.2">250</text>
<line x1="40.5" y1="261.08" x2="42.5" y2="261.08" stroke="#1a1a1a" stroke-width="0.8" />
<text x="38.6" y="262.98" font-size="6.3" text-anchor="end" textLength="11.4" lengthAdjust="spacingAndGlyphs" stroke="#2a2a2a" stroke-width="0.2">200</text>
<line x1="40.5" y1="269.06" x2="42.5" y2="269.06" stroke="#1a1a1a" stroke-width="0.8" />
<text x="38.6" y="270.96" font-size="6.3" text-anchor="end" textLength="11.4" lengthAdjust="spacingAndGlyphs" stroke="#2a2a2a" stroke-width="0.2">150</text>
<line x1="40.5" y1="277.04" x2="42.5" y2="277.04" stroke="#1a1a1a" stroke-width="0.8" />
<text x="38.6" y="278.94" font-size="6.3" text-anchor="end" textLength="11.4" lengthAdjust="spacingAndGlyphs" stroke="#2a2a2a" stroke-width="0.2">100</text>
<line x1="40.5" y1="285.02" x2="42.5" y2="285.02" stroke="#1a1a1a" stroke-width="0.8" />
<text x="38.6" y="286.92" font-size="6.3" text-anchor="end" textLength="7.6" lengthAdjust="spacingAndGlyphs" stroke="#2a2a2a" stroke-width="0.2">50</text>
<line x1="40.5" y1="293" x2="42.5" y2="293" stroke="#1a1a1a" stroke-width="0.8" />
<text x="38.6" y="294.9" font-size="6.3" text-anchor="end" textLength="3.8" lengthAdjust="spacingAndGlyphs" stroke="#2a2a2a" stroke-width="0.2">0</text>
<line x1="52.5" y1="293.8" x2="52.5" y2="295.8" stroke="#1a1a1a" stroke-width="0.8" />
<line x1="60.7" y1="293.8" x2="60.7" y2="295.8" stroke="#1a1a1a" stroke-width="0.8" />
<line x1="74.1" y1="293.8" x2="74.1" y2="295.8" stroke="#1a1a1a" stroke-width="0.8" />
<line x1="85.5" y1="293.8" x2="85.5" y2="295.8" stroke="#1a1a1a" stroke-width="0.8" />
<line x1="46.5" y1="293.8" x2="46.5" y2="295" stroke="#1a1a1a" stroke-width="0.5" />
<line x1="48.5" y1="293.8" x2="48.5" y2="295" stroke="#1a1a1a" stroke-width="0.5" />
<line x1="50.5" y1="293.8" x2="50.5" y2="295" stroke="#1a1a1a" stroke-width="0.5" />
<line x1="55.5" y1="293.8" x2="55.5" y2="295" stroke="#1a1a1a" stroke-width="0.5" />
<line x1="57.5" y1="293.8" x2="57.5" y2="295" stroke="#1a1a1a" stroke-width="0.5" />
<line x1="64.5" y1="293.8" x2="64.5" y2="295" stroke="#1a1a1a" stroke-width="0.5" />
<line x1="67.5" y1="293.8" x2="67.5" y2="295" stroke="#1a1a1a" stroke-width="0.5" />
<line x1="70.5" y1="293.8" x2="70.5" y2="295" stroke="#1a1a1a" stroke-width="0.5" />
<line x1="77.5" y1="293.8" x2="77.5" y2="295" stroke="#1a1a1a" stroke-width="0.5" />
<line x1="80.5" y1="293.8" x2="80.5" y2="295" stroke="#1a1a1a" stroke-width="0.5" />
<line x1="82.5" y1="293.8" x2="82.5" y2="295" stroke="#1a1a1a" stroke-width="0.5" />
<ellipse cx="53.3" cy="294.7" rx="1.5" ry="0.9" fill="#1a1a1a"/>
<text x="52.5" y="303.6" font-size="6.3" text-anchor="middle" stroke="#2a2a2a" stroke-width="0.2">0</text>
<text x="70.2" y="303.6" font-size="6.3" textLength="7.1" lengthAdjust="spacingAndGlyphs" stroke="#2a2a2a" stroke-width="0.2">10</text>
<text x="77.5" y="300.4" font-size="4.5" stroke="#2a2a2a" stroke-width="0.2">4</text>
<text x="81.6" y="303.6" font-size="6.3" textLength="7.1" lengthAdjust="spacingAndGlyphs" stroke="#2a2a2a" stroke-width="0.2">10</text>
<text x="88.9" y="300.4" font-size="4.5" stroke="#2a2a2a" stroke-width="0.2">5</text>
<circle cx="56.08" cy="282.33" r="0.4" fill="#a8a0d0"/>
<circle cx="56.19" cy="282.12" r="0.4" fill="#a8a0d0"/>
<circle cx="53.65" cy="282.15" r="0.4" fill="#a8a0d0"/>
<circle cx="61" cy="282.31" r="0.4" fill="#a8a0d0"/>
<circle cx="60.73" cy="282.26" r="0.4" fill="#a8a0d0"/>
<circle cx="58.42" cy="282.25" r="0.4" fill="#a8a0d0"/>
<circle cx="51" cy="282.41" r="0.4" fill="#a8a0d0"/>
<circle cx="58.82" cy="282.32" r="0.4" fill="#a8a0d0"/>
<circle cx="50.91" cy="281.76" r="0.4" fill="#a8a0d0"/>
<circle cx="53.8" cy="282.08" r="0.4" fill="#a8a0d0"/>
<circle cx="58.1" cy="282.19" r="0.4" fill="#a8a0d0"/>
<circle cx="58.88" cy="282.04" r="0.4" fill="#a8a0d0"/>
<circle cx="58.11" cy="282.3" r="0.4" fill="#a8a0d0"/>
<circle cx="54.62" cy="282.63" r="0.4" fill="#a8a0d0"/>
<circle cx="59" cy="282.5" r="0.4" fill="#a8a0d0"/>
<circle cx="54.77" cy="282.02" r="0.4" fill="#a8a0d0"/>
<circle cx="55.76" cy="282.17" r="0.4" fill="#a8a0d0"/>
<circle cx="59.28" cy="282.26" r="0.4" fill="#a8a0d0"/>
<circle cx="55.39" cy="281.96" r="0.4" fill="#a8a0d0"/>
<circle cx="55.13" cy="282.51" r="0.4" fill="#a8a0d0"/>
<circle cx="54.09" cy="282.26" r="0.4" fill="#a8a0d0"/>
<circle cx="58.54" cy="281.83" r="0.4" fill="#a8a0d0"/>
<circle cx="57.17" cy="282.53" r="0.4" fill="#a8a0d0"/>
<circle cx="49.75" cy="282.12" r="0.4" fill="#a8a0d0"/>
<circle cx="56.62" cy="282" r="0.4" fill="#a8a0d0"/>
<circle cx="58.79" cy="282.18" r="0.4" fill="#a8a0d0"/>
<circle cx="51.73" cy="282.41" r="0.4" fill="#a8a0d0"/>
<circle cx="59.41" cy="282.44" r="0.4" fill="#a8a0d0"/>
<circle cx="62.19" cy="282.29" r="0.4" fill="#a8a0d0"/>
<circle cx="57.43" cy="281.88" r="0.4" fill="#a8a0d0"/>
<circle cx="59.22" cy="282.05" r="0.4" fill="#a8a0d0"/>
<circle cx="55.37" cy="281.88" r="0.4" fill="#a8a0d0"/>
<circle cx="53.52" cy="282.07" r="0.4" fill="#a8a0d0"/>
<circle cx="61.64" cy="281.69" r="0.4" fill="#a8a0d0"/>
<circle cx="51.75" cy="282.26" r="0.4" fill="#a8a0d0"/>
<circle cx="62.2" cy="282.34" r="0.4" fill="#a8a0d0"/>
<circle cx="50.16" cy="281.57" r="0.4" fill="#a8a0d0"/>
<circle cx="58.29" cy="282.02" r="0.4" fill="#a8a0d0"/>
<circle cx="52.97" cy="282.44" r="0.4" fill="#a8a0d0"/>
<circle cx="60.97" cy="282.24" r="0.4" fill="#a8a0d0"/>
<circle cx="57.88" cy="282.31" r="0.4" fill="#a8a0d0"/>
<circle cx="62.74" cy="282.35" r="0.4" fill="#a8a0d0"/>
<circle cx="58.87" cy="282.34" r="0.4" fill="#a8a0d0"/>
<circle cx="51.35" cy="282.52" r="0.4" fill="#a8a0d0"/>
<circle cx="60.44" cy="282.33" r="0.4" fill="#a8a0d0"/>
<circle cx="69.08" cy="281.97" r="0.35" fill="#2d2d3a"/>
<circle cx="77.53" cy="281.74" r="0.35" fill="#2d2d3a"/>
<circle cx="74.45" cy="282.3" r="0.35" fill="#2d2d3a"/>
<circle cx="71.07" cy="282.42" r="0.35" fill="#2d2d3a"/>
<circle cx="76.66" cy="282.07" r="0.35" fill="#2d2d3a"/>
<circle cx="75.97" cy="282.23" r="0.35" fill="#2d2d3a"/>
<circle cx="75.36" cy="282.33" r="0.35" fill="#2d2d3a"/>
<circle cx="73.02" cy="282.02" r="0.35" fill="#2d2d3a"/>
<circle cx="78.13" cy="282.11" r="0.35" fill="#2d2d3a"/>
<circle cx="72.36" cy="282.29" r="0.35" fill="#2d2d3a"/>
<circle cx="79.4" cy="282.01" r="0.35" fill="#2d2d3a"/>
<circle cx="70.86" cy="282.07" r="0.35" fill="#2d2d3a"/>
<circle cx="74.55" cy="282.04" r="0.35" fill="#2d2d3a"/>
<circle cx="79.21" cy="281.89" r="0.35" fill="#2d2d3a"/>
<circle cx="78.78" cy="281.85" r="0.35" fill="#2d2d3a"/>
<circle cx="72.64" cy="282.23" r="0.35" fill="#2d2d3a"/>
<circle cx="78.39" cy="282.27" r="0.35" fill="#2d2d3a"/>
<circle cx="76.04" cy="282.13" r="0.35" fill="#2d2d3a"/>
<circle cx="75.46" cy="282.22" r="0.35" fill="#2d2d3a"/>
<circle cx="74.47" cy="282.16" r="0.35" fill="#2d2d3a"/>
<circle cx="76.72" cy="282.1" r="0.35" fill="#2d2d3a"/>
<circle cx="77.29" cy="282.21" r="0.35" fill="#2d2d3a"/>
<circle cx="81.03" cy="282.16" r="0.35" fill="#2d2d3a"/>
<circle cx="73.72" cy="282.03" r="0.35" fill="#2d2d3a"/>
<circle cx="74.96" cy="282.28" r="0.35" fill="#2d2d3a"/>
<circle cx="73.99" cy="282.18" r="0.35" fill="#2d2d3a"/>
<circle cx="80.51" cy="281.59" r="0.35" fill="#2d2d3a"/>
<circle cx="71.63" cy="282.15" r="0.35" fill="#2d2d3a"/>
<circle cx="76.2" cy="282.15" r="0.35" fill="#2d2d3a"/>
<circle cx="73.71" cy="282.23" r="0.35" fill="#2d2d3a"/>
<circle cx="75.85" cy="282" r="0.35" fill="#2d2d3a"/>
<circle cx="82.29" cy="282.17" r="0.35" fill="#2d2d3a"/>
<circle cx="73.34" cy="282.08" r="0.35" fill="#2d2d3a"/>
<circle cx="74.32" cy="282.09" r="0.35" fill="#2d2d3a"/>
<circle cx="66.82" cy="282" r="0.35" fill="#2d2d3a"/>
<circle cx="78.03" cy="281.87" r="0.35" fill="#2d2d3a"/>
<circle cx="74.8" cy="282.29" r="0.35" fill="#2d2d3a"/>
<circle cx="77.57" cy="282.4" r="0.35" fill="#2d2d3a"/>
<circle cx="69.9" cy="282.03" r="0.35" fill="#2d2d3a"/>
<circle cx="73.98" cy="282.22" r="0.35" fill="#2d2d3a"/>
<circle cx="81.64" cy="281.56" r="0.35" fill="#8a8a9a"/>
<circle cx="81.63" cy="281.81" r="0.35" fill="#8a8a9a"/>
<circle cx="81.02" cy="281.8" r="0.35" fill="#8a8a9a"/>
<circle cx="80.26" cy="282.34" r="0.35" fill="#8a8a9a"/>
<circle cx="79.78" cy="282.14" r="0.35" fill="#8a8a9a"/>
<circle cx="81.2" cy="282.13" r="0.35" fill="#8a8a9a"/>
<circle cx="79.87" cy="282.41" r="0.35" fill="#8a8a9a"/>
<circle cx="81.57" cy="282.04" r="0.35" fill="#8a8a9a"/>
<circle cx="84.12" cy="281.87" r="0.35" fill="#8a8a9a"/>
<circle cx="81.37" cy="282.05" r="0.35" fill="#8a8a9a"/>
<rect x="69.1" y="277.7" width="17.8" height="7.7" fill="none" stroke="#3c3c3c" stroke-width="0.7" />
<text x="68.7" y="274.9" font-size="6.9" fill="#b8385a" textLength="18.7" lengthAdjust="spacingAndGlyphs" stroke="#b8385a" stroke-width="0.2">60.2%</text>
<line x1="119.3" y1="251.8" x2="167.4" y2="251.8" stroke="#c4c4c4" stroke-width="0.9" />
<line x1="167.4" y1="251.8" x2="167.4" y2="293.8" stroke="#c4c4c4" stroke-width="0.9" />
<line x1="119.3" y1="251.4" x2="119.3" y2="294.2" stroke="#1a1a1a" stroke-width="0.9" />
<line x1="118.9" y1="293.8" x2="167.4" y2="293.8" stroke="#1a1a1a" stroke-width="0.9" />
<line x1="117.3" y1="255.5" x2="119.3" y2="255.5" stroke="#1a1a1a" stroke-width="0.8" />
<text x="104.9" y="256.5" font-size="6.3" textLength="7.2" lengthAdjust="spacingAndGlyphs" stroke="#2a2a2a" stroke-width="0.2">10</text>
<text x="112.4" y="253.6" font-size="4.5" stroke="#2a2a2a" stroke-width="0.2">5</text>
<line x1="117.3" y1="265.4" x2="119.3" y2="265.4" stroke="#1a1a1a" stroke-width="0.8" />
<text x="104.9" y="266.4" font-size="6.3" textLength="7.2" lengthAdjust="spacingAndGlyphs" stroke="#2a2a2a" stroke-width="0.2">10</text>
<text x="112.4" y="263.5" font-size="4.5" stroke="#2a2a2a" stroke-width="0.2">4</text>
<line x1="117.3" y1="276.8" x2="119.3" y2="276.8" stroke="#1a1a1a" stroke-width="0.8" />
<text x="104.9" y="277.8" font-size="6.3" textLength="7.2" lengthAdjust="spacingAndGlyphs" stroke="#2a2a2a" stroke-width="0.2">10</text>
<text x="112.4" y="274.9" font-size="4.5" stroke="#2a2a2a" stroke-width="0.2">3</text>
<line x1="117.3" y1="284" x2="119.3" y2="284" stroke="#1a1a1a" stroke-width="0.8" />
<text x="114.5" y="284.6" font-size="6.3" text-anchor="end" stroke="#2a2a2a" stroke-width="0.2">0</text>
<line x1="118.1" y1="258.3" x2="119.3" y2="258.3" stroke="#1a1a1a" stroke-width="0.5" />
<line x1="118.1" y1="260.3" x2="119.3" y2="260.3" stroke="#1a1a1a" stroke-width="0.5" />
<line x1="118.1" y1="262.3" x2="119.3" y2="262.3" stroke="#1a1a1a" stroke-width="0.5" />
<line x1="118.1" y1="268.3" x2="119.3" y2="268.3" stroke="#1a1a1a" stroke-width="0.5" />
<line x1="118.1" y1="270.8" x2="119.3" y2="270.8" stroke="#1a1a1a" stroke-width="0.5" />
<line x1="118.1" y1="273.3" x2="119.3" y2="273.3" stroke="#1a1a1a" stroke-width="0.5" />
<line x1="118.1" y1="280.3" x2="119.3" y2="280.3" stroke="#1a1a1a" stroke-width="0.5" />
<line x1="118.1" y1="287.8" x2="119.3" y2="287.8" stroke="#1a1a1a" stroke-width="0.5" />
<line x1="118.1" y1="291.3" x2="119.3" y2="291.3" stroke="#1a1a1a" stroke-width="0.5" />
<line x1="118.7" y1="282.6" x2="118.7" y2="285.4" stroke="#1a1a1a" stroke-width="1.8" />
<line x1="129.3" y1="293.8" x2="129.3" y2="295.8" stroke="#1a1a1a" stroke-width="0.8" />
<line x1="137.5" y1="293.8" x2="137.5" y2="295.8" stroke="#1a1a1a" stroke-width="0.8" />
<line x1="150.9" y1="293.8" x2="150.9" y2="295.8" stroke="#1a1a1a" stroke-width="0.8" />
<line x1="162.3" y1="293.8" x2="162.3" y2="295.8" stroke="#1a1a1a" stroke-width="0.8" />
<line x1="123.3" y1="293.8" x2="123.3" y2="295" stroke="#1a1a1a" stroke-width="0.5" />
<line x1="125.3" y1="293.8" x2="125.3" y2="295" stroke="#1a1a1a" stroke-width="0.5" />
<line x1="127.3" y1="293.8" x2="127.3" y2="295" stroke="#1a1a1a" stroke-width="0.5" />
<line x1="132.3" y1="293.8" x2="132.3" y2="295" stroke="#1a1a1a" stroke-width="0.5" />
<line x1="134.3" y1="293.8" x2="134.3" y2="295" stroke="#1a1a1a" stroke-width="0.5" />
<line x1="141.3" y1="293.8" x2="141.3" y2="295" stroke="#1a1a1a" stroke-width="0.5" />
<line x1="144.3" y1="293.8" x2="144.3" y2="295" stroke="#1a1a1a" stroke-width="0.5" />
<line x1="147.3" y1="293.8" x2="147.3" y2="295" stroke="#1a1a1a" stroke-width="0.5" />
<line x1="154.3" y1="293.8" x2="154.3" y2="295" stroke="#1a1a1a" stroke-width="0.5" />
<line x1="157.3" y1="293.8" x2="157.3" y2="295" stroke="#1a1a1a" stroke-width="0.5" />
<line x1="159.3" y1="293.8" x2="159.3" y2="295" stroke="#1a1a1a" stroke-width="0.5" />
<ellipse cx="130.1" cy="294.7" rx="1.5" ry="0.9" fill="#1a1a1a"/>
<text x="129.3" y="303.6" font-size="6.3" text-anchor="middle" stroke="#2a2a2a" stroke-width="0.2">0</text>
<text x="133.6" y="303.6" font-size="6.3" textLength="7.1" lengthAdjust="spacingAndGlyphs" stroke="#2a2a2a" stroke-width="0.2">10</text>
<text x="140.9" y="300.4" font-size="4.5" stroke="#2a2a2a" stroke-width="0.2">3</text>
<text x="147" y="303.6" font-size="6.3" textLength="7.1" lengthAdjust="spacingAndGlyphs" stroke="#2a2a2a" stroke-width="0.2">10</text>
<text x="154.3" y="300.4" font-size="4.5" stroke="#2a2a2a" stroke-width="0.2">4</text>
<text x="158.4" y="303.6" font-size="6.3" textLength="7.1" lengthAdjust="spacingAndGlyphs" stroke="#2a2a2a" stroke-width="0.2">10</text>
<text x="165.7" y="300.4" font-size="4.5" stroke="#2a2a2a" stroke-width="0.2">5</text>
<circle cx="130.54" cy="283.86" r="0.4" fill="#b0b0bc"/>
<circle cx="130.7" cy="283.81" r="0.4" fill="#b0b0bc"/>
<circle cx="127.55" cy="282.09" r="0.4" fill="#b0b0bc"/>
<circle cx="131.41" cy="282.53" r="0.4" fill="#b0b0bc"/>
<circle cx="128.45" cy="282.12" r="0.4" fill="#b0b0bc"/>
<circle cx="132.58" cy="283.9" r="0.4" fill="#b0b0bc"/>
<circle cx="132.95" cy="282.55" r="0.4" fill="#b0b0bc"/>
<circle cx="130.3" cy="282.39" r="0.4" fill="#b0b0bc"/>
<circle cx="131.68" cy="284.57" r="0.4" fill="#b0b0bc"/>
<circle cx="128.7" cy="284.55" r="0.4" fill="#b0b0bc"/>
<circle cx="132.08" cy="283.16" r="0.4" fill="#b0b0bc"/>
<circle cx="126.75" cy="284.43" r="0.4" fill="#b0b0bc"/>
<circle cx="130.13" cy="282.82" r="0.4" fill="#b0b0bc"/>
<circle cx="131.02" cy="283.63" r="0.4" fill="#b0b0bc"/>
<circle cx="133" cy="282.48" r="0.4" fill="#b0b0bc"/>
<circle cx="132.35" cy="284.49" r="0.4" fill="#b0b0bc"/>
<circle cx="132.91" cy="283.16" r="0.4" fill="#b0b0bc"/>
<circle cx="128.96" cy="284.11" r="0.4" fill="#b0b0bc"/>
<circle cx="130.51" cy="283.4" r="0.4" fill="#b0b0bc"/>
<circle cx="132.86" cy="283.09" r="0.4" fill="#b0b0bc"/>
<circle cx="126.17" cy="282.99" r="0.4" fill="#b0b0bc"/>
<circle cx="126.96" cy="283.96" r="0.4" fill="#b0b0bc"/>
<circle cx="130.87" cy="282.81" r="0.4" fill="#b0b0bc"/>
<circle cx="130.28" cy="283.97" r="0.4" fill="#b0b0bc"/>
<circle cx="130.44" cy="284.36" r="0.4" fill="#b0b0bc"/>
<circle cx="133.75" cy="279.96" r="0.4" fill="#c0c0c8"/>
<circle cx="134.99" cy="282.24" r="0.4" fill="#c0c0c8"/>
<circle cx="133.26" cy="279.32" r="0.4" fill="#c0c0c8"/>
<circle cx="132.3" cy="271.47" r="0.4" fill="#c0c0c8"/>
<circle cx="132.23" cy="280.08" r="0.4" fill="#c0c0c8"/>
<circle cx="132.81" cy="275.75" r="0.4" fill="#c0c0c8"/>
<circle cx="133.65" cy="275.69" r="0.4" fill="#c0c0c8"/>
<circle cx="133.33" cy="276.73" r="0.4" fill="#c0c0c8"/>
<circle cx="135.23" cy="275.98" r="0.4" fill="#c0c0c8"/>
<circle cx="134.22" cy="279.8" r="0.4" fill="#c0c0c8"/>
<circle cx="133.64" cy="270.76" r="0.4" fill="#c0c0c8"/>
<circle cx="133.36" cy="280.09" r="0.4" fill="#c0c0c8"/>
<circle cx="132.48" cy="273.41" r="0.4" fill="#c0c0c8"/>
<circle cx="134.61" cy="278.97" r="0.4" fill="#c0c0c8"/>
<circle cx="133.81" cy="279.02" r="0.4" fill="#c0c0c8"/>
<circle cx="133.93" cy="271.08" r="0.4" fill="#c0c0c8"/>
<circle cx="132.55" cy="273.24" r="0.4" fill="#c0c0c8"/>
<circle cx="134.54" cy="273.54" r="0.4" fill="#c0c0c8"/>
<circle cx="133.08" cy="272.72" r="0.4" fill="#c0c0c8"/>
<circle cx="132.57" cy="275.33" r="0.4" fill="#c0c0c8"/>
<circle cx="132.86" cy="277.26" r="0.4" fill="#c0c0c8"/>
<circle cx="131.91" cy="277.11" r="0.4" fill="#c0c0c8"/>
<circle cx="133.29" cy="268.03" r="0.4" fill="#c0c0c8"/>
<circle cx="134.38" cy="274.7" r="0.4" fill="#c0c0c8"/>
<circle cx="132.02" cy="272.3" r="0.4" fill="#c0c0c8"/>
<circle cx="155.73" cy="277.96" r="0.4" fill="#606070"/>
<circle cx="157.47" cy="277.75" r="0.4" fill="#606070"/>
<circle cx="157" cy="277.71" r="0.4" fill="#606070"/>
<circle cx="158.7" cy="276.63" r="0.4" fill="#606070"/>
<circle cx="155.26" cy="276.65" r="0.4" fill="#606070"/>
<circle cx="158.03" cy="277.87" r="0.4" fill="#606070"/>
<circle cx="154.38" cy="279.09" r="0.4" fill="#606070"/>
<circle cx="158.85" cy="273.97" r="0.4" fill="#606070"/>
<circle cx="157.62" cy="279.38" r="0.4" fill="#606070"/>
<circle cx="153.53" cy="281.01" r="0.4" fill="#606070"/>
<circle cx="159.57" cy="275.08" r="0.4" fill="#606070"/>
<circle cx="157.05" cy="278.27" r="0.4" fill="#606070"/>
<circle cx="153.18" cy="280.5" r="0.4" fill="#606070"/>
<circle cx="156.4" cy="278.74" r="0.4" fill="#606070"/>
<circle cx="155.12" cy="278.75" r="0.4" fill="#606070"/>
<circle cx="152.78" cy="280.54" r="0.4" fill="#606070"/>
<circle cx="157.4" cy="277.14" r="0.4" fill="#606070"/>
<circle cx="152.91" cy="279.93" r="0.4" fill="#606070"/>
<circle cx="162.01" cy="274.34" r="0.4" fill="#606070"/>
<circle cx="155.43" cy="275.98" r="0.4" fill="#606070"/>
<circle cx="156.97" cy="277.89" r="0.4" fill="#606070"/>
<circle cx="159.38" cy="275.81" r="0.4" fill="#606070"/>
<circle cx="155.41" cy="279.25" r="0.4" fill="#606070"/>
<circle cx="151.37" cy="283.19" r="0.4" fill="#606070"/>
<circle cx="155.68" cy="277.74" r="0.4" fill="#606070"/>
<circle cx="159.27" cy="277.35" r="0.4" fill="#606070"/>
<circle cx="151.74" cy="281.1" r="0.4" fill="#606070"/>
<circle cx="156.06" cy="278.35" r="0.4" fill="#606070"/>
<circle cx="153.88" cy="278.97" r="0.4" fill="#606070"/>
<circle cx="160.7" cy="275.34" r="0.4" fill="#606070"/>
<circle cx="151.87" cy="280.29" r="0.4" fill="#606070"/>
<circle cx="159.72" cy="276.11" r="0.4" fill="#606070"/>
<circle cx="159.9" cy="275.78" r="0.4" fill="#606070"/>
<circle cx="153.43" cy="280.64" r="0.4" fill="#606070"/>
<circle cx="149.96" cy="282.52" r="0.4" fill="#606070"/>
<circle cx="155.43" cy="279.23" r="0.4" fill="#606070"/>
<circle cx="153.57" cy="280.13" r="0.4" fill="#606070"/>
<circle cx="156.55" cy="278.14" r="0.4" fill="#606070"/>
<circle cx="156.87" cy="277.69" r="0.4" fill="#606070"/>
<circle cx="154.96" cy="279.91" r="0.4" fill="#606070"/>
<path d="M144.5,283.9 L159.7,271.1 L164.7,275.5 L149.4,288.4 Z" stroke="#3c3c3c" stroke-width="0.7" fill="none" />
<text x="142.4" y="267.8" font-size="6.9" fill="#b8385a" textLength="20.2" lengthAdjust="spacingAndGlyphs" stroke="#b8385a" stroke-width="0.2">51.9%</text>
<line x1="196.4" y1="251.8" x2="243.4" y2="251.8" stroke="#c4c4c4" stroke-width="0.9" />
<line x1="243.4" y1="251.8" x2="243.4" y2="293.8" stroke="#c4c4c4" stroke-width="0.9" />
<line x1="196.4" y1="251.4" x2="196.4" y2="294.2" stroke="#1a1a1a" stroke-width="0.9" />
<line x1="196" y1="293.8" x2="243.4" y2="293.8" stroke="#1a1a1a" stroke-width="0.9" />
<line x1="194.4" y1="255.5" x2="196.4" y2="255.5" stroke="#1a1a1a" stroke-width="0.8" />
<text x="182" y="256.5" font-size="6.3" textLength="7.2" lengthAdjust="spacingAndGlyphs" stroke="#2a2a2a" stroke-width="0.2">10</text>
<text x="189.5" y="253.6" font-size="4.5" stroke="#2a2a2a" stroke-width="0.2">5</text>
<line x1="194.4" y1="265.4" x2="196.4" y2="265.4" stroke="#1a1a1a" stroke-width="0.8" />
<text x="182" y="266.4" font-size="6.3" textLength="7.2" lengthAdjust="spacingAndGlyphs" stroke="#2a2a2a" stroke-width="0.2">10</text>
<text x="189.5" y="263.5" font-size="4.5" stroke="#2a2a2a" stroke-width="0.2">4</text>
<line x1="194.4" y1="276.8" x2="196.4" y2="276.8" stroke="#1a1a1a" stroke-width="0.8" />
<text x="182" y="277.8" font-size="6.3" textLength="7.2" lengthAdjust="spacingAndGlyphs" stroke="#2a2a2a" stroke-width="0.2">10</text>
<text x="189.5" y="274.9" font-size="4.5" stroke="#2a2a2a" stroke-width="0.2">3</text>
<line x1="194.4" y1="284" x2="196.4" y2="284" stroke="#1a1a1a" stroke-width="0.8" />
<text x="191.6" y="284.6" font-size="6.3" text-anchor="end" stroke="#2a2a2a" stroke-width="0.2">0</text>
<line x1="195.2" y1="258.3" x2="196.4" y2="258.3" stroke="#1a1a1a" stroke-width="0.5" />
<line x1="195.2" y1="260.3" x2="196.4" y2="260.3" stroke="#1a1a1a" stroke-width="0.5" />
<line x1="195.2" y1="262.3" x2="196.4" y2="262.3" stroke="#1a1a1a" stroke-width="0.5" />
<line x1="195.2" y1="268.3" x2="196.4" y2="268.3" stroke="#1a1a1a" stroke-width="0.5" />
<line x1="195.2" y1="270.8" x2="196.4" y2="270.8" stroke="#1a1a1a" stroke-width="0.5" />
<line x1="195.2" y1="273.3" x2="196.4" y2="273.3" stroke="#1a1a1a" stroke-width="0.5" />
<line x1="195.2" y1="280.3" x2="196.4" y2="280.3" stroke="#1a1a1a" stroke-width="0.5" />
<line x1="195.2" y1="287.8" x2="196.4" y2="287.8" stroke="#1a1a1a" stroke-width="0.5" />
<line x1="195.2" y1="291.3" x2="196.4" y2="291.3" stroke="#1a1a1a" stroke-width="0.5" />
<line x1="195.8" y1="282.6" x2="195.8" y2="285.4" stroke="#1a1a1a" stroke-width="1.8" />
<line x1="206.4" y1="293.8" x2="206.4" y2="295.8" stroke="#1a1a1a" stroke-width="0.8" />
<line x1="214.6" y1="293.8" x2="214.6" y2="295.8" stroke="#1a1a1a" stroke-width="0.8" />
<line x1="228" y1="293.8" x2="228" y2="295.8" stroke="#1a1a1a" stroke-width="0.8" />
<line x1="239.4" y1="293.8" x2="239.4" y2="295.8" stroke="#1a1a1a" stroke-width="0.8" />
<line x1="200.4" y1="293.8" x2="200.4" y2="295" stroke="#1a1a1a" stroke-width="0.5" />
<line x1="202.4" y1="293.8" x2="202.4" y2="295" stroke="#1a1a1a" stroke-width="0.5" />
<line x1="204.4" y1="293.8" x2="204.4" y2="295" stroke="#1a1a1a" stroke-width="0.5" />
<line x1="209.4" y1="293.8" x2="209.4" y2="295" stroke="#1a1a1a" stroke-width="0.5" />
<line x1="211.4" y1="293.8" x2="211.4" y2="295" stroke="#1a1a1a" stroke-width="0.5" />
<line x1="218.4" y1="293.8" x2="218.4" y2="295" stroke="#1a1a1a" stroke-width="0.5" />
<line x1="221.4" y1="293.8" x2="221.4" y2="295" stroke="#1a1a1a" stroke-width="0.5" />
<line x1="224.4" y1="293.8" x2="224.4" y2="295" stroke="#1a1a1a" stroke-width="0.5" />
<line x1="231.4" y1="293.8" x2="231.4" y2="295" stroke="#1a1a1a" stroke-width="0.5" />
<line x1="234.4" y1="293.8" x2="234.4" y2="295" stroke="#1a1a1a" stroke-width="0.5" />
<line x1="236.4" y1="293.8" x2="236.4" y2="295" stroke="#1a1a1a" stroke-width="0.5" />
<ellipse cx="207.2" cy="294.7" rx="1.5" ry="0.9" fill="#1a1a1a"/>
<text x="206.4" y="303.6" font-size="6.3" text-anchor="middle" stroke="#2a2a2a" stroke-width="0.2">0</text>
<text x="210.7" y="303.6" font-size="6.3" textLength="7.1" lengthAdjust="spacingAndGlyphs" stroke="#2a2a2a" stroke-width="0.2">10</text>
<text x="218" y="300.4" font-size="4.5" stroke="#2a2a2a" stroke-width="0.2">3</text>
<text x="224.1" y="303.6" font-size="6.3" textLength="7.1" lengthAdjust="spacingAndGlyphs" stroke="#2a2a2a" stroke-width="0.2">10</text>
<text x="231.4" y="300.4" font-size="4.5" stroke="#2a2a2a" stroke-width="0.2">4</text>
<text x="235.5" y="303.6" font-size="6.3" textLength="7.1" lengthAdjust="spacingAndGlyphs" stroke="#2a2a2a" stroke-width="0.2">10</text>
<text x="242.8" y="300.4" font-size="4.5" stroke="#2a2a2a" stroke-width="0.2">5</text>
<circle cx="208.52" cy="283.69" r="0.4" fill="#a0a0b4"/>
<circle cx="206.84" cy="284.1" r="0.4" fill="#a0a0b4"/>
<circle cx="208.13" cy="284.18" r="0.4" fill="#a0a0b4"/>
<circle cx="208.4" cy="284.19" r="0.4" fill="#a0a0b4"/>
<circle cx="208.06" cy="283.47" r="0.4" fill="#a0a0b4"/>
<circle cx="209.45" cy="284.63" r="0.4" fill="#a0a0b4"/>
<circle cx="209.49" cy="284.01" r="0.4" fill="#a0a0b4"/>
<circle cx="209.52" cy="283.62" r="0.4" fill="#a0a0b4"/>
<circle cx="203.66" cy="284.13" r="0.4" fill="#a0a0b4"/>
<circle cx="206.07" cy="284.47" r="0.4" fill="#a0a0b4"/>
<circle cx="205.69" cy="282.79" r="0.4" fill="#a0a0b4"/>
<circle cx="205.8" cy="284.89" r="0.4" fill="#a0a0b4"/>
<circle cx="207.45" cy="283.42" r="0.4" fill="#a0a0b4"/>
<circle cx="206.49" cy="284.36" r="0.4" fill="#a0a0b4"/>
<circle cx="209.64" cy="284.19" r="0.4" fill="#a0a0b4"/>
<circle cx="212.11" cy="284.45" r="0.4" fill="#a0a0b4"/>
<circle cx="208.35" cy="284.4" r="0.4" fill="#a0a0b4"/>
<circle cx="212.54" cy="284.59" r="0.4" fill="#a0a0b4"/>
<circle cx="210.96" cy="283.56" r="0.4" fill="#a0a0b4"/>
<circle cx="208.03" cy="284.46" r="0.4" fill="#a0a0b4"/>
<circle cx="207.66" cy="284.63" r="0.4" fill="#a0a0b4"/>
<circle cx="209.89" cy="284.55" r="0.4" fill="#a0a0b4"/>
<circle cx="207.87" cy="285.37" r="0.4" fill="#a0a0b4"/>
<circle cx="211.5" cy="283.99" r="0.4" fill="#a0a0b4"/>
<circle cx="208.63" cy="285.4" r="0.4" fill="#a0a0b4"/>
<circle cx="207.54" cy="284.54" r="0.4" fill="#a0a0b4"/>
<circle cx="210.85" cy="284.1" r="0.4" fill="#a0a0b4"/>
<circle cx="205.48" cy="284.19" r="0.4" fill="#a0a0b4"/>
<circle cx="209.3" cy="284.66" r="0.4" fill="#a0a0b4"/>
<circle cx="210.36" cy="284.11" r="0.4" fill="#a0a0b4"/>
<circle cx="210.53" cy="284.37" r="0.4" fill="#a0a0b4"/>
<circle cx="208.92" cy="284.13" r="0.4" fill="#a0a0b4"/>
<circle cx="207.79" cy="284.44" r="0.4" fill="#a0a0b4"/>
<circle cx="205.76" cy="283.79" r="0.4" fill="#a0a0b4"/>
<circle cx="208.41" cy="283.37" r="0.4" fill="#a0a0b4"/>
<circle cx="216.01" cy="268.76" r="0.4" fill="#c0c0cc"/>
<circle cx="215.79" cy="279.07" r="0.4" fill="#c0c0cc"/>
<circle cx="216.91" cy="276.58" r="0.4" fill="#c0c0cc"/>
<circle cx="216.19" cy="271.13" r="0.4" fill="#c0c0cc"/>
<circle cx="218.05" cy="278.86" r="0.4" fill="#c0c0cc"/>
<circle cx="217.38" cy="273.27" r="0.4" fill="#c0c0cc"/>
<circle cx="216.23" cy="269.52" r="0.4" fill="#c0c0cc"/>
<circle cx="217.1" cy="280.54" r="0.4" fill="#c0c0cc"/>
<circle cx="214.69" cy="276.59" r="0.4" fill="#c0c0cc"/>
<circle cx="216.97" cy="269.75" r="0.4" fill="#c0c0cc"/>
<circle cx="214.76" cy="272.54" r="0.4" fill="#c0c0cc"/>
<circle cx="215.83" cy="271.19" r="0.4" fill="#c0c0cc"/>
<circle cx="216.43" cy="277.8" r="0.4" fill="#c0c0cc"/>
<circle cx="216.97" cy="279.61" r="0.4" fill="#c0c0cc"/>
<circle cx="217.75" cy="281.46" r="0.4" fill="#c0c0cc"/>
<circle cx="215.22" cy="274.78" r="0.4" fill="#c0c0cc"/>
<circle cx="215.45" cy="272.49" r="0.4" fill="#c0c0cc"/>
<circle cx="216.33" cy="276.82" r="0.4" fill="#c0c0cc"/>
<circle cx="216.84" cy="270.45" r="0.4" fill="#c0c0cc"/>
<circle cx="215.29" cy="276.71" r="0.4" fill="#c0c0cc"/>
<circle cx="216.22" cy="275.55" r="0.4" fill="#c0c0cc"/>
<circle cx="216.34" cy="273.76" r="0.4" fill="#c0c0cc"/>
<circle cx="217.03" cy="278.22" r="0.4" fill="#c0c0cc"/>
<circle cx="216.32" cy="274.11" r="0.4" fill="#c0c0cc"/>
<circle cx="216.24" cy="265.91" r="0.4" fill="#c0c0cc"/>
<circle cx="226.65" cy="284.12" r="0.4" fill="#5a5a70"/>
<circle cx="225.19" cy="284.2" r="0.4" fill="#5a5a70"/>
<circle cx="229.81" cy="283.41" r="0.4" fill="#5a5a70"/>
<circle cx="228.7" cy="283.94" r="0.4" fill="#5a5a70"/>
<circle cx="230.69" cy="284.41" r="0.4" fill="#5a5a70"/>
<circle cx="229.3" cy="283.67" r="0.4" fill="#5a5a70"/>
<circle cx="229" cy="284.07" r="0.4" fill="#5a5a70"/>
<circle cx="231.46" cy="284.25" r="0.4" fill="#5a5a70"/>
<circle cx="227.38" cy="283.42" r="0.4" fill="#5a5a70"/>
<circle cx="228.36" cy="283.73" r="0.4" fill="#5a5a70"/>
<circle cx="226.29" cy="284.04" r="0.4" fill="#5a5a70"/>
<circle cx="228.03" cy="284.15" r="0.4" fill="#5a5a70"/>
<circle cx="230.87" cy="283.89" r="0.4" fill="#5a5a70"/>
<circle cx="235.91" cy="283.94" r="0.4" fill="#5a5a70"/>
<circle cx="232.48" cy="284.16" r="0.4" fill="#5a5a70"/>
<circle cx="232.53" cy="282.91" r="0.4" fill="#5a5a70"/>
<circle cx="227.3" cy="284.22" r="0.4" fill="#5a5a70"/>
<circle cx="231.09" cy="285.27" r="0.4" fill="#5a5a70"/>
<circle cx="230.3" cy="284.74" r="0.4" fill="#5a5a70"/>
<circle cx="231.55" cy="284.57" r="0.4" fill="#5a5a70"/>
<circle cx="230.83" cy="284.02" r="0.4" fill="#5a5a70"/>
<circle cx="230.83" cy="283.56" r="0.4" fill="#5a5a70"/>
<circle cx="232.71" cy="283.59" r="0.4" fill="#5a5a70"/>
<circle cx="230.1" cy="285.16" r="0.4" fill="#5a5a70"/>
<circle cx="228.77" cy="284.11" r="0.4" fill="#5a5a70"/>
<circle cx="232.66" cy="284.11" r="0.4" fill="#5a5a70"/>
<circle cx="227.14" cy="284.23" r="0.4" fill="#5a5a70"/>
<circle cx="231.03" cy="284.46" r="0.4" fill="#5a5a70"/>
<circle cx="227.24" cy="284.98" r="0.4" fill="#5a5a70"/>
<circle cx="234.07" cy="284.11" r="0.4" fill="#5a5a70"/>
<circle cx="230.15" cy="283.89" r="0.4" fill="#5a5a70"/>
<circle cx="233.36" cy="283.75" r="0.4" fill="#5a5a70"/>
<circle cx="231.29" cy="283.86" r="0.4" fill="#5a5a70"/>
<circle cx="227.46" cy="284.46" r="0.4" fill="#5a5a70"/>
<circle cx="233.13" cy="284.09" r="0.4" fill="#5a5a70"/>
<circle cx="227.5" cy="284.51" r="0.4" fill="#5a5a70"/>
<circle cx="229.26" cy="284.26" r="0.4" fill="#5a5a70"/>
<circle cx="233.66" cy="284.67" r="0.4" fill="#5a5a70"/>
<circle cx="227.94" cy="285.24" r="0.4" fill="#5a5a70"/>
<circle cx="229.41" cy="284.49" r="0.4" fill="#5a5a70"/>
<circle cx="227.59" cy="284.08" r="0.4" fill="#5a5a70"/>
<circle cx="224.5" cy="284.99" r="0.4" fill="#5a5a70"/>
<circle cx="233.22" cy="283.49" r="0.4" fill="#5a5a70"/>
<circle cx="225.19" cy="283.29" r="0.4" fill="#5a5a70"/>
<circle cx="232.69" cy="283.87" r="0.4" fill="#5a5a70"/>
<circle cx="229.23" cy="283.94" r="0.4" fill="#5a5a70"/>
<circle cx="229.06" cy="283.56" r="0.4" fill="#5a5a70"/>
<circle cx="229.47" cy="283.38" r="0.4" fill="#5a5a70"/>
<circle cx="229.2" cy="284.25" r="0.4" fill="#5a5a70"/>
<circle cx="230.71" cy="283.98" r="0.4" fill="#5a5a70"/>
<rect x="226.1" y="255.2" width="11.7" height="19.9" fill="none" stroke="#3c3c3c" stroke-width="0.7" />
<text x="208.6" y="260.6" font-size="6.9" fill="#b8385a" textLength="15.2" lengthAdjust="spacingAndGlyphs" stroke="#b8385a" stroke-width="0.2">6.4%</text>
<line x1="270.9" y1="251.8" x2="318.2" y2="251.8" stroke="#c4c4c4" stroke-width="0.9" />
<line x1="318.2" y1="251.8" x2="318.2" y2="293.8" stroke="#c4c4c4" stroke-width="0.9" />
<line x1="270.9" y1="251.4" x2="270.9" y2="294.2" stroke="#1a1a1a" stroke-width="0.9" />
<line x1="270.5" y1="293.8" x2="318.2" y2="293.8" stroke="#1a1a1a" stroke-width="0.9" />
<line x1="268.9" y1="255.5" x2="270.9" y2="255.5" stroke="#1a1a1a" stroke-width="0.8" />
<text x="256.5" y="256.5" font-size="6.3" textLength="7.2" lengthAdjust="spacingAndGlyphs" stroke="#2a2a2a" stroke-width="0.2">10</text>
<text x="264" y="253.6" font-size="4.5" stroke="#2a2a2a" stroke-width="0.2">5</text>
<line x1="268.9" y1="265.4" x2="270.9" y2="265.4" stroke="#1a1a1a" stroke-width="0.8" />
<text x="256.5" y="266.4" font-size="6.3" textLength="7.2" lengthAdjust="spacingAndGlyphs" stroke="#2a2a2a" stroke-width="0.2">10</text>
<text x="264" y="263.5" font-size="4.5" stroke="#2a2a2a" stroke-width="0.2">4</text>
<line x1="268.9" y1="276.8" x2="270.9" y2="276.8" stroke="#1a1a1a" stroke-width="0.8" />
<text x="256.5" y="277.8" font-size="6.3" textLength="7.2" lengthAdjust="spacingAndGlyphs" stroke="#2a2a2a" stroke-width="0.2">10</text>
<text x="264" y="274.9" font-size="4.5" stroke="#2a2a2a" stroke-width="0.2">3</text>
<line x1="268.9" y1="284" x2="270.9" y2="284" stroke="#1a1a1a" stroke-width="0.8" />
<text x="266.1" y="284.6" font-size="6.3" text-anchor="end" stroke="#2a2a2a" stroke-width="0.2">0</text>
<line x1="269.7" y1="258.3" x2="270.9" y2="258.3" stroke="#1a1a1a" stroke-width="0.5" />
<line x1="269.7" y1="260.3" x2="270.9" y2="260.3" stroke="#1a1a1a" stroke-width="0.5" />
<line x1="269.7" y1="262.3" x2="270.9" y2="262.3" stroke="#1a1a1a" stroke-width="0.5" />
<line x1="269.7" y1="268.3" x2="270.9" y2="268.3" stroke="#1a1a1a" stroke-width="0.5" />
<line x1="269.7" y1="270.8" x2="270.9" y2="270.8" stroke="#1a1a1a" stroke-width="0.5" />
<line x1="269.7" y1="273.3" x2="270.9" y2="273.3" stroke="#1a1a1a" stroke-width="0.5" />
<line x1="269.7" y1="280.3" x2="270.9" y2="280.3" stroke="#1a1a1a" stroke-width="0.5" />
<line x1="269.7" y1="287.8" x2="270.9" y2="287.8" stroke="#1a1a1a" stroke-width="0.5" />
<line x1="269.7" y1="291.3" x2="270.9" y2="291.3" stroke="#1a1a1a" stroke-width="0.5" />
<line x1="270.3" y1="282.6" x2="270.3" y2="285.4" stroke="#1a1a1a" stroke-width="1.8" />
<line x1="280.9" y1="293.8" x2="280.9" y2="295.8" stroke="#1a1a1a" stroke-width="0.8" />
<line x1="289.1" y1="293.8" x2="289.1" y2="295.8" stroke="#1a1a1a" stroke-width="0.8" />
<line x1="302.5" y1="293.8" x2="302.5" y2="295.8" stroke="#1a1a1a" stroke-width="0.8" />
<line x1="313.9" y1="293.8" x2="313.9" y2="295.8" stroke="#1a1a1a" stroke-width="0.8" />
<line x1="274.9" y1="293.8" x2="274.9" y2="295" stroke="#1a1a1a" stroke-width="0.5" />
<line x1="276.9" y1="293.8" x2="276.9" y2="295" stroke="#1a1a1a" stroke-width="0.5" />
<line x1="278.9" y1="293.8" x2="278.9" y2="295" stroke="#1a1a1a" stroke-width="0.5" />
<line x1="283.9" y1="293.8" x2="283.9" y2="295" stroke="#1a1a1a" stroke-width="0.5" />
<line x1="285.9" y1="293.8" x2="285.9" y2="295" stroke="#1a1a1a" stroke-width="0.5" />
<line x1="292.9" y1="293.8" x2="292.9" y2="295" stroke="#1a1a1a" stroke-width="0.5" />
<line x1="295.9" y1="293.8" x2="295.9" y2="295" stroke="#1a1a1a" stroke-width="0.5" />
<line x1="298.9" y1="293.8" x2="298.9" y2="295" stroke="#1a1a1a" stroke-width="0.5" />
<line x1="305.9" y1="293.8" x2="305.9" y2="295" stroke="#1a1a1a" stroke-width="0.5" />
<line x1="308.9" y1="293.8" x2="308.9" y2="295" stroke="#1a1a1a" stroke-width="0.5" />
<line x1="310.9" y1="293.8" x2="310.9" y2="295" stroke="#1a1a1a" stroke-width="0.5" />
<ellipse cx="281.7" cy="294.7" rx="1.5" ry="0.9" fill="#1a1a1a"/>
<text x="280.9" y="303.6" font-size="6.3" text-anchor="middle" stroke="#2a2a2a" stroke-width="0.2">0</text>
<text x="285.2" y="303.6" font-size="6.3" textLength="7.1" lengthAdjust="spacingAndGlyphs" stroke="#2a2a2a" stroke-width="0.2">10</text>
<text x="292.5" y="300.4" font-size="4.5" stroke="#2a2a2a" stroke-width="0.2">3</text>
<text x="298.6" y="303.6" font-size="6.3" textLength="7.1" lengthAdjust="spacingAndGlyphs" stroke="#2a2a2a" stroke-width="0.2">10</text>
<text x="305.9" y="300.4" font-size="4.5" stroke="#2a2a2a" stroke-width="0.2">4</text>
<text x="310" y="303.6" font-size="6.3" textLength="7.1" lengthAdjust="spacingAndGlyphs" stroke="#2a2a2a" stroke-width="0.2">10</text>
<text x="317.3" y="300.4" font-size="4.5" stroke="#2a2a2a" stroke-width="0.2">5</text>
<circle cx="283.82" cy="276.28" r="0.4" fill="#c4c4d0"/>
<circle cx="284.32" cy="280.5" r="0.4" fill="#c4c4d0"/>
<circle cx="285.82" cy="275.45" r="0.4" fill="#c4c4d0"/>
<circle cx="284.33" cy="273.69" r="0.4" fill="#c4c4d0"/>
<circle cx="283.78" cy="274.74" r="0.4" fill="#c4c4d0"/>
<circle cx="285.25" cy="277.35" r="0.4" fill="#c4c4d0"/>
<circle cx="285.58" cy="282.1" r="0.4" fill="#c4c4d0"/>
<circle cx="284.05" cy="275.84" r="0.4" fill="#c4c4d0"/>
<circle cx="288.25" cy="270.2" r="0.4" fill="#c4c4d0"/>
<circle cx="284.27" cy="276.31" r="0.4" fill="#c4c4d0"/>
<circle cx="285.09" cy="277.02" r="0.4" fill="#c4c4d0"/>
<circle cx="284.61" cy="276.9" r="0.4" fill="#c4c4d0"/>
<circle cx="284.96" cy="278.11" r="0.4" fill="#c4c4d0"/>
<circle cx="282.63" cy="273.14" r="0.4" fill="#c4c4d0"/>
<circle cx="284.9" cy="272.7" r="0.4" fill="#c4c4d0"/>
<circle cx="283.65" cy="277.68" r="0.4" fill="#c4c4d0"/>
<circle cx="284.12" cy="277.7" r="0.4" fill="#c4c4d0"/>
<circle cx="285.79" cy="276.72" r="0.4" fill="#c4c4d0"/>
<circle cx="285.92" cy="284.72" r="0.4" fill="#c0c0d0"/>
<circle cx="282.08" cy="284.78" r="0.4" fill="#c0c0d0"/>
<circle cx="285.81" cy="284.38" r="0.4" fill="#c0c0d0"/>
<circle cx="284.7" cy="285.4" r="0.4" fill="#c0c0d0"/>
<circle cx="283.14" cy="285.31" r="0.4" fill="#c0c0d0"/>
<circle cx="288.63" cy="284.36" r="0.4" fill="#c0c0d0"/>
<circle cx="285.19" cy="284.68" r="0.4" fill="#c0c0d0"/>
<circle cx="287.98" cy="285.05" r="0.4" fill="#c0c0d0"/>
<circle cx="286.7" cy="284.25" r="0.4" fill="#c0c0d0"/>
<circle cx="284.87" cy="284.79" r="0.4" fill="#c0c0d0"/>
<circle cx="281.35" cy="285.95" r="0.4" fill="#c0c0d0"/>
<circle cx="286.7" cy="283.4" r="0.4" fill="#c0c0d0"/>
<circle cx="303.51" cy="282.72" r="0.4" fill="#8888b8"/>
<circle cx="302.47" cy="283.02" r="0.4" fill="#8888b8"/>
<circle cx="295.65" cy="282.67" r="0.4" fill="#8888b8"/>
<circle cx="306.12" cy="282.46" r="0.4" fill="#8888b8"/>
<circle cx="297.32" cy="281.98" r="0.4" fill="#8888b8"/>
<circle cx="296.63" cy="283" r="0.4" fill="#8888b8"/>
<circle cx="306.82" cy="283.06" r="0.4" fill="#8888b8"/>
<circle cx="301.76" cy="284.14" r="0.4" fill="#8888b8"/>
<circle cx="299.08" cy="282.4" r="0.4" fill="#8888b8"/>
<circle cx="302.75" cy="283.13" r="0.4" fill="#8888b8"/>
<circle cx="297.35" cy="282.1" r="0.4" fill="#8888b8"/>
<circle cx="301.92" cy="282.95" r="0.4" fill="#8888b8"/>
<circle cx="296.33" cy="282.68" r="0.4" fill="#8888b8"/>
<circle cx="299" cy="283.08" r="0.4" fill="#8888b8"/>
<circle cx="300.49" cy="282.75" r="0.4" fill="#8888b8"/>
<circle cx="299.66" cy="283.43" r="0.4" fill="#8888b8"/>
<circle cx="305.77" cy="282.58" r="0.4" fill="#8888b8"/>
<circle cx="303.86" cy="282.35" r="0.4" fill="#8888b8"/>
<circle cx="301.15" cy="283.25" r="0.4" fill="#8888b8"/>
<circle cx="306.2" cy="282.57" r="0.4" fill="#8888b8"/>
<circle cx="300.64" cy="282.92" r="0.4" fill="#8888b8"/>
<circle cx="295.66" cy="282.81" r="0.4" fill="#8888b8"/>
<circle cx="298.53" cy="283.02" r="0.4" fill="#8888b8"/>
<circle cx="296.95" cy="281.61" r="0.4" fill="#8888b8"/>
<circle cx="301.03" cy="282.96" r="0.4" fill="#8888b8"/>
<circle cx="298.98" cy="283.33" r="0.4" fill="#8888b8"/>
<circle cx="299.94" cy="282.44" r="0.4" fill="#8888b8"/>
<circle cx="302.57" cy="281.86" r="0.4" fill="#8888b8"/>
<circle cx="298.53" cy="282.79" r="0.4" fill="#8888b8"/>
<circle cx="303.87" cy="282.7" r="0.4" fill="#8888b8"/>
<circle cx="301.98" cy="282.41" r="0.4" fill="#8888b8"/>
<circle cx="301.96" cy="283.8" r="0.4" fill="#8888b8"/>
<circle cx="298.5" cy="284.22" r="0.4" fill="#8888b8"/>
<circle cx="298.65" cy="282.81" r="0.4" fill="#8888b8"/>
<circle cx="301.51" cy="283.41" r="0.4" fill="#8888b8"/>
<rect x="280.1" y="254" width="11.5" height="19.3" fill="none" stroke="#3c3c3c" stroke-width="0.7" />
<rect x="292.7" y="278.7" width="17.9" height="7.6" fill="none" stroke="#3c3c3c" stroke-width="0.7" />
<text x="293" y="259.7" font-size="6.9" fill="#b8385a" textLength="19.8" lengthAdjust="spacingAndGlyphs" stroke="#b8385a" stroke-width="0.2">21.8%</text>
<text x="293" y="275.9" font-size="6.9" fill="#b8385a" textLength="19.8" lengthAdjust="spacingAndGlyphs" stroke="#b8385a" stroke-width="0.2">60.3%</text>
<line x1="42.5" y1="310.2" x2="90.3" y2="310.2" stroke="#c4c4c4" stroke-width="0.9" />
<line x1="90.3" y1="310.2" x2="90.3" y2="353.7" stroke="#c4c4c4" stroke-width="0.9" />
<line x1="42.5" y1="309.8" x2="42.5" y2="354.1" stroke="#1a1a1a" stroke-width="0.9" />
<line x1="42.1" y1="353.7" x2="90.3" y2="353.7" stroke="#1a1a1a" stroke-width="0.9" />
<line x1="40.5" y1="311.5" x2="42.5" y2="311.5" stroke="#1a1a1a" stroke-width="0.8" />
<text x="38.6" y="313.4" font-size="6.3" text-anchor="end" textLength="11.4" lengthAdjust="spacingAndGlyphs" stroke="#2a2a2a" stroke-width="0.2">250</text>
<line x1="40.5" y1="319.78" x2="42.5" y2="319.78" stroke="#1a1a1a" stroke-width="0.8" />
<text x="38.6" y="321.68" font-size="6.3" text-anchor="end" textLength="11.4" lengthAdjust="spacingAndGlyphs" stroke="#2a2a2a" stroke-width="0.2">200</text>
<line x1="40.5" y1="328.06" x2="42.5" y2="328.06" stroke="#1a1a1a" stroke-width="0.8" />
<text x="38.6" y="329.96" font-size="6.3" text-anchor="end" textLength="11.4" lengthAdjust="spacingAndGlyphs" stroke="#2a2a2a" stroke-width="0.2">150</text>
<line x1="40.5" y1="336.34" x2="42.5" y2="336.34" stroke="#1a1a1a" stroke-width="0.8" />
<text x="38.6" y="338.24" font-size="6.3" text-anchor="end" textLength="11.4" lengthAdjust="spacingAndGlyphs" stroke="#2a2a2a" stroke-width="0.2">100</text>
<line x1="40.5" y1="344.62" x2="42.5" y2="344.62" stroke="#1a1a1a" stroke-width="0.8" />
<text x="38.6" y="346.52" font-size="6.3" text-anchor="end" textLength="7.6" lengthAdjust="spacingAndGlyphs" stroke="#2a2a2a" stroke-width="0.2">50</text>
<line x1="40.5" y1="352.9" x2="42.5" y2="352.9" stroke="#1a1a1a" stroke-width="0.8" />
<text x="38.6" y="354.8" font-size="6.3" text-anchor="end" textLength="3.8" lengthAdjust="spacingAndGlyphs" stroke="#2a2a2a" stroke-width="0.2">0</text>
<line x1="52.5" y1="353.7" x2="52.5" y2="355.7" stroke="#1a1a1a" stroke-width="0.8" />
<line x1="60.7" y1="353.7" x2="60.7" y2="355.7" stroke="#1a1a1a" stroke-width="0.8" />
<line x1="74.1" y1="353.7" x2="74.1" y2="355.7" stroke="#1a1a1a" stroke-width="0.8" />
<line x1="85.5" y1="353.7" x2="85.5" y2="355.7" stroke="#1a1a1a" stroke-width="0.8" />
<line x1="46.5" y1="353.7" x2="46.5" y2="354.9" stroke="#1a1a1a" stroke-width="0.5" />
<line x1="48.5" y1="353.7" x2="48.5" y2="354.9" stroke="#1a1a1a" stroke-width="0.5" />
<line x1="50.5" y1="353.7" x2="50.5" y2="354.9" stroke="#1a1a1a" stroke-width="0.5" />
<line x1="55.5" y1="353.7" x2="55.5" y2="354.9" stroke="#1a1a1a" stroke-width="0.5" />
<line x1="57.5" y1="353.7" x2="57.5" y2="354.9" stroke="#1a1a1a" stroke-width="0.5" />
<line x1="64.5" y1="353.7" x2="64.5" y2="354.9" stroke="#1a1a1a" stroke-width="0.5" />
<line x1="67.5" y1="353.7" x2="67.5" y2="354.9" stroke="#1a1a1a" stroke-width="0.5" />
<line x1="70.5" y1="353.7" x2="70.5" y2="354.9" stroke="#1a1a1a" stroke-width="0.5" />
<line x1="77.5" y1="353.7" x2="77.5" y2="354.9" stroke="#1a1a1a" stroke-width="0.5" />
<line x1="80.5" y1="353.7" x2="80.5" y2="354.9" stroke="#1a1a1a" stroke-width="0.5" />
<line x1="82.5" y1="353.7" x2="82.5" y2="354.9" stroke="#1a1a1a" stroke-width="0.5" />
<ellipse cx="53.3" cy="354.6" rx="1.5" ry="0.9" fill="#1a1a1a"/>
<text x="52.5" y="363.5" font-size="6.3" text-anchor="middle" stroke="#2a2a2a" stroke-width="0.2">0</text>
<text x="56.8" y="363.5" font-size="6.3" textLength="7.1" lengthAdjust="spacingAndGlyphs" stroke="#2a2a2a" stroke-width="0.2">10</text>
<text x="64.1" y="360.3" font-size="4.5" stroke="#2a2a2a" stroke-width="0.2">3</text>
<text x="70.2" y="363.5" font-size="6.3" textLength="7.1" lengthAdjust="spacingAndGlyphs" stroke="#2a2a2a" stroke-width="0.2">10</text>
<text x="77.5" y="360.3" font-size="4.5" stroke="#2a2a2a" stroke-width="0.2">4</text>
<text x="81.6" y="363.5" font-size="6.3" textLength="7.1" lengthAdjust="spacingAndGlyphs" stroke="#2a2a2a" stroke-width="0.2">10</text>
<text x="88.9" y="360.3" font-size="4.5" stroke="#2a2a2a" stroke-width="0.2">5</text>
<circle cx="54.3" cy="340.27" r="0.4" fill="#5060a8"/>
<circle cx="62.05" cy="341.14" r="0.4" fill="#5060a8"/>
<circle cx="62.12" cy="341.69" r="0.4" fill="#5060a8"/>
<circle cx="60.36" cy="340.98" r="0.4" fill="#5060a8"/>
<circle cx="63.4" cy="341.01" r="0.4" fill="#5060a8"/>
<circle cx="66.49" cy="340.53" r="0.4" fill="#5060a8"/>
<circle cx="57.92" cy="339.87" r="0.4" fill="#5060a8"/>
<circle cx="62.91" cy="340.79" r="0.4" fill="#5060a8"/>
<circle cx="63.38" cy="341.55" r="0.4" fill="#5060a8"/>
<circle cx="59.48" cy="340.82" r="0.4" fill="#5060a8"/>
<circle cx="57.4" cy="340.65" r="0.4" fill="#5060a8"/>
<circle cx="56.85" cy="341.09" r="0.4" fill="#5060a8"/>
<circle cx="59.65" cy="340.92" r="0.4" fill="#5060a8"/>
<circle cx="58.77" cy="341.17" r="0.4" fill="#5060a8"/>
<circle cx="61.57" cy="340.86" r="0.4" fill="#5060a8"/>
<circle cx="62.29" cy="340.85" r="0.4" fill="#5060a8"/>
<circle cx="54.66" cy="341.34" r="0.4" fill="#5060a8"/>
<circle cx="61.45" cy="340.61" r="0.4" fill="#5060a8"/>
<circle cx="64.03" cy="341" r="0.4" fill="#5060a8"/>
<circle cx="52.93" cy="341.38" r="0.4" fill="#5060a8"/>
<circle cx="60.9" cy="341.17" r="0.4" fill="#5060a8"/>
<circle cx="60.33" cy="340.86" r="0.4" fill="#5060a8"/>
<circle cx="53" cy="341.19" r="0.4" fill="#5060a8"/>
<circle cx="59.63" cy="340.81" r="0.4" fill="#5060a8"/>
<circle cx="60.97" cy="340.92" r="0.4" fill="#5060a8"/>
<circle cx="62.34" cy="340.79" r="0.4" fill="#5060a8"/>
<circle cx="59.35" cy="340.26" r="0.4" fill="#5060a8"/>
<circle cx="57.72" cy="341.1" r="0.4" fill="#5060a8"/>
<circle cx="65.11" cy="340.79" r="0.4" fill="#5060a8"/>
<circle cx="58.99" cy="341.38" r="0.4" fill="#5060a8"/>
<circle cx="58.13" cy="341.12" r="0.4" fill="#5060a8"/>
<circle cx="66.55" cy="340.91" r="0.4" fill="#5060a8"/>
<circle cx="64.65" cy="340.69" r="0.4" fill="#5060a8"/>
<circle cx="60.37" cy="340.88" r="0.4" fill="#5060a8"/>
<circle cx="59.98" cy="341.24" r="0.4" fill="#5060a8"/>
<circle cx="69.54" cy="340.7" r="0.4" fill="#5060a8"/>
<circle cx="57.08" cy="341.05" r="0.4" fill="#5060a8"/>
<circle cx="55.07" cy="341.05" r="0.4" fill="#5060a8"/>
<circle cx="61.9" cy="340.82" r="0.4" fill="#5060a8"/>
<circle cx="61.73" cy="340.44" r="0.4" fill="#5060a8"/>
<circle cx="62.69" cy="340.44" r="0.4" fill="#5060a8"/>
<circle cx="56.57" cy="340.73" r="0.4" fill="#5060a8"/>
<circle cx="57.82" cy="341.16" r="0.4" fill="#5060a8"/>
<circle cx="59.84" cy="340.78" r="0.4" fill="#5060a8"/>
<circle cx="61.78" cy="341.37" r="0.4" fill="#5060a8"/>
<circle cx="59.53" cy="341.01" r="0.4" fill="#5060a8"/>
<circle cx="64.71" cy="340.98" r="0.4" fill="#5060a8"/>
<circle cx="54.11" cy="341.65" r="0.4" fill="#5060a8"/>
<circle cx="68.78" cy="340.3" r="0.4" fill="#5060a8"/>
<circle cx="59.34" cy="341.03" r="0.4" fill="#5060a8"/>
<circle cx="63.56" cy="341.1" r="0.4" fill="#5060a8"/>
<circle cx="58.36" cy="340.58" r="0.4" fill="#5060a8"/>
<circle cx="59.93" cy="341.21" r="0.4" fill="#5060a8"/>
<circle cx="54.92" cy="340.59" r="0.4" fill="#5060a8"/>
<circle cx="59.4" cy="340.32" r="0.4" fill="#5060a8"/>
<circle cx="58.41" cy="340.77" r="0.4" fill="#5060a8"/>
<circle cx="61.39" cy="340.69" r="0.4" fill="#5060a8"/>
<circle cx="55.8" cy="340.78" r="0.4" fill="#5060a8"/>
<circle cx="59.29" cy="340.7" r="0.4" fill="#5060a8"/>
<circle cx="59.55" cy="341.13" r="0.4" fill="#5060a8"/>
<g transform="translate(77,340.7) rotate(0)" filter="url(#bl)"><ellipse cx="0" cy="0" rx="6.2" ry="1" fill="#8090c0" fill-opacity="0.5"/><ellipse cx="0" cy="0" rx="4.96" ry="0.8" fill="#7a9a38" fill-opacity="0.95"/><ellipse cx="0" cy="0" rx="2.48" ry="0.4" fill="#98a830" fill-opacity="1"/></g>
<rect x="69.3" y="337.3" width="17.4" height="7" fill="none" stroke="#3c3c3c" stroke-width="0.7" />
<text x="68.4" y="334.8" font-size="6.9" fill="#b8385a" textLength="19.4" lengthAdjust="spacingAndGlyphs" stroke="#b8385a" stroke-width="0.2">79.4%</text>
<line x1="119.3" y1="310.2" x2="167.4" y2="310.2" stroke="#c4c4c4" stroke-width="0.9" />
<line x1="167.4" y1="310.2" x2="167.4" y2="353.7" stroke="#c4c4c4" stroke-width="0.9" />
<line x1="119.3" y1="309.8" x2="119.3" y2="354.1" stroke="#1a1a1a" stroke-width="0.9" />
<line x1="118.9" y1="353.7" x2="167.4" y2="353.7" stroke="#1a1a1a" stroke-width="0.9" />
<line x1="117.3" y1="313.9" x2="119.3" y2="313.9" stroke="#1a1a1a" stroke-width="0.8" />
<text x="104.9" y="314.9" font-size="6.3" textLength="7.2" lengthAdjust="spacingAndGlyphs" stroke="#2a2a2a" stroke-width="0.2">10</text>
<text x="112.4" y="312" font-size="4.5" stroke="#2a2a2a" stroke-width="0.2">5</text>
<line x1="117.3" y1="323.8" x2="119.3" y2="323.8" stroke="#1a1a1a" stroke-width="0.8" />
<text x="104.9" y="324.8" font-size="6.3" textLength="7.2" lengthAdjust="spacingAndGlyphs" stroke="#2a2a2a" stroke-width="0.2">10</text>
<text x="112.4" y="321.9" font-size="4.5" stroke="#2a2a2a" stroke-width="0.2">4</text>
<line x1="117.3" y1="335.2" x2="119.3" y2="335.2" stroke="#1a1a1a" stroke-width="0.8" />
<text x="104.9" y="336.2" font-size="6.3" textLength="7.2" lengthAdjust="spacingAndGlyphs" stroke="#2a2a2a" stroke-width="0.2">10</text>
<text x="112.4" y="333.3" font-size="4.5" stroke="#2a2a2a" stroke-width="0.2">3</text>
<line x1="117.3" y1="342.4" x2="119.3" y2="342.4" stroke="#1a1a1a" stroke-width="0.8" />
<text x="114.5" y="343" font-size="6.3" text-anchor="end" stroke="#2a2a2a" stroke-width="0.2">0</text>
<line x1="118.1" y1="316.7" x2="119.3" y2="316.7" stroke="#1a1a1a" stroke-width="0.5" />
<line x1="118.1" y1="318.7" x2="119.3" y2="318.7" stroke="#1a1a1a" stroke-width="0.5" />
<line x1="118.1" y1="320.7" x2="119.3" y2="320.7" stroke="#1a1a1a" stroke-width="0.5" />
<line x1="118.1" y1="326.7" x2="119.3" y2="326.7" stroke="#1a1a1a" stroke-width="0.5" />
<line x1="118.1" y1="329.2" x2="119.3" y2="329.2" stroke="#1a1a1a" stroke-width="0.5" />
<line x1="118.1" y1="331.7" x2="119.3" y2="331.7" stroke="#1a1a1a" stroke-width="0.5" />
<line x1="118.1" y1="338.7" x2="119.3" y2="338.7" stroke="#1a1a1a" stroke-width="0.5" />
<line x1="118.1" y1="346.2" x2="119.3" y2="346.2" stroke="#1a1a1a" stroke-width="0.5" />
<line x1="118.1" y1="349.7" x2="119.3" y2="349.7" stroke="#1a1a1a" stroke-width="0.5" />
<line x1="118.7" y1="341" x2="118.7" y2="343.8" stroke="#1a1a1a" stroke-width="1.8" />
<line x1="129.3" y1="353.7" x2="129.3" y2="355.7" stroke="#1a1a1a" stroke-width="0.8" />
<line x1="137.5" y1="353.7" x2="137.5" y2="355.7" stroke="#1a1a1a" stroke-width="0.8" />
<line x1="150.9" y1="353.7" x2="150.9" y2="355.7" stroke="#1a1a1a" stroke-width="0.8" />
<line x1="162.3" y1="353.7" x2="162.3" y2="355.7" stroke="#1a1a1a" stroke-width="0.8" />
<line x1="123.3" y1="353.7" x2="123.3" y2="354.9" stroke="#1a1a1a" stroke-width="0.5" />
<line x1="125.3" y1="353.7" x2="125.3" y2="354.9" stroke="#1a1a1a" stroke-width="0.5" />
<line x1="127.3" y1="353.7" x2="127.3" y2="354.9" stroke="#1a1a1a" stroke-width="0.5" />
<line x1="132.3" y1="353.7" x2="132.3" y2="354.9" stroke="#1a1a1a" stroke-width="0.5" />
<line x1="134.3" y1="353.7" x2="134.3" y2="354.9" stroke="#1a1a1a" stroke-width="0.5" />
<line x1="141.3" y1="353.7" x2="141.3" y2="354.9" stroke="#1a1a1a" stroke-width="0.5" />
<line x1="144.3" y1="353.7" x2="144.3" y2="354.9" stroke="#1a1a1a" stroke-width="0.5" />
<line x1="147.3" y1="353.7" x2="147.3" y2="354.9" stroke="#1a1a1a" stroke-width="0.5" />
<line x1="154.3" y1="353.7" x2="154.3" y2="354.9" stroke="#1a1a1a" stroke-width="0.5" />
<line x1="157.3" y1="353.7" x2="157.3" y2="354.9" stroke="#1a1a1a" stroke-width="0.5" />
<line x1="159.3" y1="353.7" x2="159.3" y2="354.9" stroke="#1a1a1a" stroke-width="0.5" />
<ellipse cx="130.1" cy="354.6" rx="1.5" ry="0.9" fill="#1a1a1a"/>
<text x="129.3" y="363.5" font-size="6.3" text-anchor="middle" stroke="#2a2a2a" stroke-width="0.2">0</text>
<text x="133.6" y="363.5" font-size="6.3" textLength="7.1" lengthAdjust="spacingAndGlyphs" stroke="#2a2a2a" stroke-width="0.2">10</text>
<text x="140.9" y="360.3" font-size="4.5" stroke="#2a2a2a" stroke-width="0.2">3</text>
<text x="147" y="363.5" font-size="6.3" textLength="7.1" lengthAdjust="spacingAndGlyphs" stroke="#2a2a2a" stroke-width="0.2">10</text>
<text x="154.3" y="360.3" font-size="4.5" stroke="#2a2a2a" stroke-width="0.2">4</text>
<text x="158.4" y="363.5" font-size="6.3" textLength="7.1" lengthAdjust="spacingAndGlyphs" stroke="#2a2a2a" stroke-width="0.2">10</text>
<text x="165.7" y="360.3" font-size="4.5" stroke="#2a2a2a" stroke-width="0.2">5</text>
<circle cx="137.45" cy="342.87" r="0.45" fill="#a0a8dc" fill-opacity="0.85"/>
<circle cx="130.56" cy="333.31" r="0.45" fill="#a0a8dc" fill-opacity="0.85"/>
<circle cx="124.61" cy="343.75" r="0.45" fill="#a0a8dc" fill-opacity="0.85"/>
<circle cx="130.76" cy="335.05" r="0.45" fill="#a0a8dc" fill-opacity="0.85"/>
<circle cx="135.13" cy="329.09" r="0.45" fill="#a0a8dc" fill-opacity="0.85"/>
<circle cx="134.92" cy="335.08" r="0.45" fill="#a0a8dc" fill-opacity="0.85"/>
<circle cx="126.91" cy="336.51" r="0.45" fill="#a0a8dc" fill-opacity="0.85"/>
<circle cx="137.48" cy="326.79" r="0.45" fill="#a0a8dc" fill-opacity="0.85"/>
<circle cx="136.13" cy="336.14" r="0.45" fill="#a0a8dc" fill-opacity="0.85"/>
<circle cx="134.96" cy="337.19" r="0.45" fill="#a0a8dc" fill-opacity="0.85"/>
<circle cx="137.86" cy="334.19" r="0.45" fill="#a0a8dc" fill-opacity="0.85"/>
<circle cx="136.36" cy="333.36" r="0.45" fill="#a0a8dc" fill-opacity="0.85"/>
<circle cx="135.85" cy="331.54" r="0.45" fill="#a0a8dc" fill-opacity="0.85"/>
<circle cx="132.92" cy="342.99" r="0.45" fill="#a0a8dc" fill-opacity="0.85"/>
<circle cx="134.86" cy="334.49" r="0.45" fill="#a0a8dc" fill-opacity="0.85"/>
<circle cx="129.29" cy="331.64" r="0.45" fill="#a0a8dc" fill-opacity="0.85"/>
<circle cx="133.98" cy="339.43" r="0.45" fill="#a0a8dc" fill-opacity="0.85"/>
<circle cx="134.79" cy="337.56" r="0.45" fill="#a0a8dc" fill-opacity="0.85"/>
<circle cx="133.15" cy="341.28" r="0.45" fill="#a0a8dc" fill-opacity="0.85"/>
<circle cx="131.93" cy="332.73" r="0.45" fill="#a0a8dc" fill-opacity="0.85"/>
<circle cx="136.41" cy="335.49" r="0.45" fill="#a0a8dc" fill-opacity="0.85"/>
<circle cx="132.33" cy="332.61" r="0.45" fill="#a0a8dc" fill-opacity="0.85"/>
<circle cx="132.4" cy="338.01" r="0.45" fill="#a0a8dc" fill-opacity="0.85"/>
<circle cx="134.54" cy="329.76" r="0.45" fill="#a0a8dc" fill-opacity="0.85"/>
<circle cx="134.79" cy="336.01" r="0.45" fill="#a0a8dc" fill-opacity="0.85"/>
<circle cx="129.8" cy="338.68" r="0.45" fill="#a0a8dc" fill-opacity="0.85"/>
<circle cx="132.32" cy="333.69" r="0.45" fill="#a0a8dc" fill-opacity="0.85"/>
<circle cx="136.09" cy="341.14" r="0.45" fill="#a0a8dc" fill-opacity="0.85"/>
<circle cx="130.89" cy="337.17" r="0.45" fill="#a0a8dc" fill-opacity="0.85"/>
<circle cx="130.23" cy="345.61" r="0.45" fill="#a0a8dc" fill-opacity="0.85"/>
<circle cx="131.57" cy="340.58" r="0.45" fill="#a0a8dc" fill-opacity="0.85"/>
<circle cx="131.03" cy="338.85" r="0.45" fill="#a0a8dc" fill-opacity="0.85"/>
<circle cx="141.07" cy="323.77" r="0.45" fill="#a0a8dc" fill-opacity="0.85"/>
<circle cx="131.78" cy="337.45" r="0.45" fill="#a0a8dc" fill-opacity="0.85"/>
<circle cx="132.97" cy="332.19" r="0.45" fill="#a0a8dc" fill-opacity="0.85"/>
<circle cx="140.83" cy="335.56" r="0.45" fill="#a0a8dc" fill-opacity="0.85"/>
<circle cx="127.54" cy="339.04" r="0.45" fill="#a0a8dc" fill-opacity="0.85"/>
<circle cx="127.27" cy="340.38" r="0.45" fill="#a0a8dc" fill-opacity="0.85"/>
<circle cx="131.28" cy="335.85" r="0.45" fill="#a0a8dc" fill-opacity="0.85"/>
<circle cx="137.71" cy="335.73" r="0.45" fill="#a0a8dc" fill-opacity="0.85"/>
<circle cx="128.43" cy="327.57" r="0.45" fill="#a0a8dc" fill-opacity="0.85"/>
<circle cx="137.44" cy="338.53" r="0.45" fill="#a0a8dc" fill-opacity="0.85"/>
<circle cx="130.44" cy="339.07" r="0.45" fill="#a0a8dc" fill-opacity="0.85"/>
<circle cx="135.04" cy="338.11" r="0.45" fill="#a0a8dc" fill-opacity="0.85"/>
<circle cx="125.39" cy="333.84" r="0.45" fill="#a0a8dc" fill-opacity="0.85"/>
<circle cx="136.45" cy="338.5" r="0.45" fill="#a0a8dc" fill-opacity="0.85"/>
<circle cx="136.38" cy="324.14" r="0.45" fill="#a0a8dc" fill-opacity="0.85"/>
<circle cx="133.89" cy="337.41" r="0.45" fill="#a0a8dc" fill-opacity="0.85"/>
<circle cx="142.23" cy="330.91" r="0.45" fill="#a0a8dc" fill-opacity="0.85"/>
<circle cx="132.15" cy="335.36" r="0.45" fill="#a0a8dc" fill-opacity="0.85"/>
<circle cx="136.4" cy="333.21" r="0.45" fill="#a0a8dc" fill-opacity="0.85"/>
<circle cx="137.32" cy="331.65" r="0.45" fill="#a0a8dc" fill-opacity="0.85"/>
<circle cx="134.23" cy="332.83" r="0.45" fill="#a0a8dc" fill-opacity="0.85"/>
<circle cx="133.85" cy="332.09" r="0.45" fill="#a0a8dc" fill-opacity="0.85"/>
<circle cx="127.71" cy="340.12" r="0.45" fill="#a0a8dc" fill-opacity="0.85"/>
<circle cx="134.36" cy="332.69" r="0.45" fill="#a0a8dc" fill-opacity="0.85"/>
<circle cx="134" cy="339.66" r="0.45" fill="#a0a8dc" fill-opacity="0.85"/>
<circle cx="129.88" cy="334.7" r="0.45" fill="#a0a8dc" fill-opacity="0.85"/>
<circle cx="135.19" cy="337.57" r="0.45" fill="#a0a8dc" fill-opacity="0.85"/>
<circle cx="132.13" cy="325.72" r="0.45" fill="#a0a8dc" fill-opacity="0.85"/>
<circle cx="137.65" cy="336.68" r="0.45" fill="#a0a8dc" fill-opacity="0.85"/>
<circle cx="133.35" cy="333.95" r="0.45" fill="#a0a8dc" fill-opacity="0.85"/>
<circle cx="134.22" cy="333.28" r="0.45" fill="#a0a8dc" fill-opacity="0.85"/>
<circle cx="129.71" cy="331.87" r="0.45" fill="#a0a8dc" fill-opacity="0.85"/>
<circle cx="131.21" cy="332.44" r="0.45" fill="#a0a8dc" fill-opacity="0.85"/>
<circle cx="129.24" cy="338.06" r="0.45" fill="#a0a8dc" fill-opacity="0.85"/>
<circle cx="128.72" cy="338.17" r="0.45" fill="#a0a8dc" fill-opacity="0.85"/>
<circle cx="129.75" cy="336.79" r="0.45" fill="#a0a8dc" fill-opacity="0.85"/>
<circle cx="138.11" cy="336.11" r="0.45" fill="#a0a8dc" fill-opacity="0.85"/>
<circle cx="130.74" cy="335.42" r="0.45" fill="#a0a8dc" fill-opacity="0.85"/>
<g transform="translate(155.8,336.2) rotate(-40)" filter="url(#bl)"><ellipse cx="0" cy="0" rx="6.5" ry="1.5" fill="#90a8c8" fill-opacity="0.55"/><ellipse cx="0" cy="0" rx="4.88" ry="1.12" fill="#9cb838" fill-opacity="1"/><ellipse cx="0" cy="0" rx="2.6" ry="0.6" fill="#c0c434" fill-opacity="1"/></g>
<g transform="translate(159.8,332.7) rotate(-40)" filter="url(#bl)"><ellipse cx="0" cy="0" rx="1.8" ry="0.9" fill="#3a7a8a" fill-opacity="0.8"/></g>
<path d="M144.5,341.2 L159.7,328.4 L164.7,332.5 L149.4,345.7 Z" stroke="#3c3c3c" stroke-width="0.7" fill="none" />
<text x="143.1" y="325.8" font-size="6.9" fill="#b8385a" textLength="18.8" lengthAdjust="spacingAndGlyphs" stroke="#b8385a" stroke-width="0.2">77.3%</text>
<line x1="196.4" y1="310.2" x2="243.4" y2="310.2" stroke="#c4c4c4" stroke-width="0.9" />
<line x1="243.4" y1="310.2" x2="243.4" y2="353.7" stroke="#c4c4c4" stroke-width="0.9" />
<line x1="196.4" y1="309.8" x2="196.4" y2="354.1" stroke="#1a1a1a" stroke-width="0.9" />
<line x1="196" y1="353.7" x2="243.4" y2="353.7" stroke="#1a1a1a" stroke-width="0.9" />
<line x1="194.4" y1="313.9" x2="196.4" y2="313.9" stroke="#1a1a1a" stroke-width="0.8" />
<text x="182" y="314.9" font-size="6.3" textLength="7.2" lengthAdjust="spacingAndGlyphs" stroke="#2a2a2a" stroke-width="0.2">10</text>
<text x="189.5" y="312" font-size="4.5" stroke="#2a2a2a" stroke-width="0.2">5</text>
<line x1="194.4" y1="323.8" x2="196.4" y2="323.8" stroke="#1a1a1a" stroke-width="0.8" />
<text x="182" y="324.8" font-size="6.3" textLength="7.2" lengthAdjust="spacingAndGlyphs" stroke="#2a2a2a" stroke-width="0.2">10</text>
<text x="189.5" y="321.9" font-size="4.5" stroke="#2a2a2a" stroke-width="0.2">4</text>
<line x1="194.4" y1="335.2" x2="196.4" y2="335.2" stroke="#1a1a1a" stroke-width="0.8" />
<text x="182" y="336.2" font-size="6.3" textLength="7.2" lengthAdjust="spacingAndGlyphs" stroke="#2a2a2a" stroke-width="0.2">10</text>
<text x="189.5" y="333.3" font-size="4.5" stroke="#2a2a2a" stroke-width="0.2">3</text>
<line x1="194.4" y1="342.4" x2="196.4" y2="342.4" stroke="#1a1a1a" stroke-width="0.8" />
<text x="191.6" y="343" font-size="6.3" text-anchor="end" stroke="#2a2a2a" stroke-width="0.2">0</text>
<line x1="195.2" y1="316.7" x2="196.4" y2="316.7" stroke="#1a1a1a" stroke-width="0.5" />
<line x1="195.2" y1="318.7" x2="196.4" y2="318.7" stroke="#1a1a1a" stroke-width="0.5" />
<line x1="195.2" y1="320.7" x2="196.4" y2="320.7" stroke="#1a1a1a" stroke-width="0.5" />
<line x1="195.2" y1="326.7" x2="196.4" y2="326.7" stroke="#1a1a1a" stroke-width="0.5" />
<line x1="195.2" y1="329.2" x2="196.4" y2="329.2" stroke="#1a1a1a" stroke-width="0.5" />
<line x1="195.2" y1="331.7" x2="196.4" y2="331.7" stroke="#1a1a1a" stroke-width="0.5" />
<line x1="195.2" y1="338.7" x2="196.4" y2="338.7" stroke="#1a1a1a" stroke-width="0.5" />
<line x1="195.2" y1="346.2" x2="196.4" y2="346.2" stroke="#1a1a1a" stroke-width="0.5" />
<line x1="195.2" y1="349.7" x2="196.4" y2="349.7" stroke="#1a1a1a" stroke-width="0.5" />
<line x1="195.8" y1="341" x2="195.8" y2="343.8" stroke="#1a1a1a" stroke-width="1.8" />
<line x1="206.4" y1="353.7" x2="206.4" y2="355.7" stroke="#1a1a1a" stroke-width="0.8" />
<line x1="214.6" y1="353.7" x2="214.6" y2="355.7" stroke="#1a1a1a" stroke-width="0.8" />
<line x1="228" y1="353.7" x2="228" y2="355.7" stroke="#1a1a1a" stroke-width="0.8" />
<line x1="239.4" y1="353.7" x2="239.4" y2="355.7" stroke="#1a1a1a" stroke-width="0.8" />
<line x1="200.4" y1="353.7" x2="200.4" y2="354.9" stroke="#1a1a1a" stroke-width="0.5" />
<line x1="202.4" y1="353.7" x2="202.4" y2="354.9" stroke="#1a1a1a" stroke-width="0.5" />
<line x1="204.4" y1="353.7" x2="204.4" y2="354.9" stroke="#1a1a1a" stroke-width="0.5" />
<line x1="209.4" y1="353.7" x2="209.4" y2="354.9" stroke="#1a1a1a" stroke-width="0.5" />
<line x1="211.4" y1="353.7" x2="211.4" y2="354.9" stroke="#1a1a1a" stroke-width="0.5" />
<line x1="218.4" y1="353.7" x2="218.4" y2="354.9" stroke="#1a1a1a" stroke-width="0.5" />
<line x1="221.4" y1="353.7" x2="221.4" y2="354.9" stroke="#1a1a1a" stroke-width="0.5" />
<line x1="224.4" y1="353.7" x2="224.4" y2="354.9" stroke="#1a1a1a" stroke-width="0.5" />
<line x1="231.4" y1="353.7" x2="231.4" y2="354.9" stroke="#1a1a1a" stroke-width="0.5" />
<line x1="234.4" y1="353.7" x2="234.4" y2="354.9" stroke="#1a1a1a" stroke-width="0.5" />
<line x1="236.4" y1="353.7" x2="236.4" y2="354.9" stroke="#1a1a1a" stroke-width="0.5" />
<ellipse cx="207.2" cy="354.6" rx="1.5" ry="0.9" fill="#1a1a1a"/>
<text x="206.4" y="363.5" font-size="6.3" text-anchor="middle" stroke="#2a2a2a" stroke-width="0.2">0</text>
<text x="210.7" y="363.5" font-size="6.3" textLength="7.1" lengthAdjust="spacingAndGlyphs" stroke="#2a2a2a" stroke-width="0.2">10</text>
<text x="218" y="360.3" font-size="4.5" stroke="#2a2a2a" stroke-width="0.2">3</text>
<text x="224.1" y="363.5" font-size="6.3" textLength="7.1" lengthAdjust="spacingAndGlyphs" stroke="#2a2a2a" stroke-width="0.2">10</text>
<text x="231.4" y="360.3" font-size="4.5" stroke="#2a2a2a" stroke-width="0.2">4</text>
<text x="235.5" y="363.5" font-size="6.3" textLength="7.1" lengthAdjust="spacingAndGlyphs" stroke="#2a2a2a" stroke-width="0.2">10</text>
<text x="242.8" y="360.3" font-size="4.5" stroke="#2a2a2a" stroke-width="0.2">5</text>
<circle cx="212.96" cy="321.8" r="0.45" fill="#b0b6e0" fill-opacity="0.85"/>
<circle cx="210.09" cy="333.18" r="0.45" fill="#b0b6e0" fill-opacity="0.85"/>
<circle cx="210.62" cy="332.68" r="0.45" fill="#b0b6e0" fill-opacity="0.85"/>
<circle cx="215.19" cy="336.8" r="0.45" fill="#b0b6e0" fill-opacity="0.85"/>
<circle cx="215.84" cy="335.73" r="0.45" fill="#b0b6e0" fill-opacity="0.85"/>
<circle cx="211.31" cy="332.09" r="0.45" fill="#b0b6e0" fill-opacity="0.85"/>
<circle cx="211.37" cy="330.32" r="0.45" fill="#b0b6e0" fill-opacity="0.85"/>
<circle cx="211.72" cy="321.85" r="0.45" fill="#b0b6e0" fill-opacity="0.85"/>
<circle cx="211.13" cy="332.06" r="0.45" fill="#b0b6e0" fill-opacity="0.85"/>
<circle cx="208.7" cy="332.06" r="0.45" fill="#b0b6e0" fill-opacity="0.85"/>
<circle cx="214.36" cy="331.21" r="0.45" fill="#b0b6e0" fill-opacity="0.85"/>
<circle cx="220.29" cy="316.56" r="0.45" fill="#b0b6e0" fill-opacity="0.85"/>
<circle cx="211.62" cy="321.25" r="0.45" fill="#b0b6e0" fill-opacity="0.85"/>
<circle cx="216.12" cy="348.12" r="0.45" fill="#b0b6e0" fill-opacity="0.85"/>
<circle cx="202.89" cy="332.97" r="0.45" fill="#b0b6e0" fill-opacity="0.85"/>
<circle cx="214.37" cy="330.39" r="0.45" fill="#b0b6e0" fill-opacity="0.85"/>
<circle cx="214.5" cy="318.74" r="0.45" fill="#b0b6e0" fill-opacity="0.85"/>
<circle cx="215.64" cy="334.43" r="0.45" fill="#b0b6e0" fill-opacity="0.85"/>
<circle cx="212.49" cy="328.67" r="0.45" fill="#b0b6e0" fill-opacity="0.85"/>
<circle cx="214.83" cy="329.29" r="0.45" fill="#b0b6e0" fill-opacity="0.85"/>
<circle cx="213.25" cy="329.14" r="0.45" fill="#b0b6e0" fill-opacity="0.85"/>
<circle cx="203.86" cy="332.01" r="0.45" fill="#b0b6e0" fill-opacity="0.85"/>
<circle cx="213.17" cy="336.73" r="0.45" fill="#b0b6e0" fill-opacity="0.85"/>
<circle cx="209.07" cy="332" r="0.45" fill="#b0b6e0" fill-opacity="0.85"/>
<circle cx="214.75" cy="333.07" r="0.45" fill="#b0b6e0" fill-opacity="0.85"/>
<circle cx="217.12" cy="344.15" r="0.45" fill="#b0b6e0" fill-opacity="0.85"/>
<circle cx="208.95" cy="320.67" r="0.45" fill="#b0b6e0" fill-opacity="0.85"/>
<circle cx="215.66" cy="341.38" r="0.45" fill="#b0b6e0" fill-opacity="0.85"/>
<circle cx="215.9" cy="337.08" r="0.45" fill="#b0b6e0" fill-opacity="0.85"/>
<circle cx="210.05" cy="327.92" r="0.45" fill="#b0b6e0" fill-opacity="0.85"/>
<circle cx="215.78" cy="326.73" r="0.45" fill="#b0b6e0" fill-opacity="0.85"/>
<circle cx="205.51" cy="326.21" r="0.45" fill="#b0b6e0" fill-opacity="0.85"/>
<circle cx="221.87" cy="343.74" r="0.45" fill="#b0b6e0" fill-opacity="0.85"/>
<circle cx="209.79" cy="327.83" r="0.45" fill="#b0b6e0" fill-opacity="0.85"/>
<circle cx="213.28" cy="327.7" r="0.45" fill="#b0b6e0" fill-opacity="0.85"/>
<circle cx="217.38" cy="331.73" r="0.45" fill="#b0b6e0" fill-opacity="0.85"/>
<circle cx="208.27" cy="340.05" r="0.45" fill="#b0b6e0" fill-opacity="0.85"/>
<circle cx="210.18" cy="333.53" r="0.45" fill="#b0b6e0" fill-opacity="0.85"/>
<circle cx="212.35" cy="330.31" r="0.45" fill="#b0b6e0" fill-opacity="0.85"/>
<circle cx="213.63" cy="328.05" r="0.45" fill="#b0b6e0" fill-opacity="0.85"/>
<circle cx="205.39" cy="318.95" r="0.45" fill="#b0b6e0" fill-opacity="0.85"/>
<circle cx="207.59" cy="327.65" r="0.45" fill="#b0b6e0" fill-opacity="0.85"/>
<circle cx="212.31" cy="332.53" r="0.45" fill="#b0b6e0" fill-opacity="0.85"/>
<circle cx="214.51" cy="332.92" r="0.45" fill="#b0b6e0" fill-opacity="0.85"/>
<circle cx="209.38" cy="327.95" r="0.45" fill="#b0b6e0" fill-opacity="0.85"/>
<circle cx="204.35" cy="331.19" r="0.45" fill="#b0b6e0" fill-opacity="0.85"/>
<circle cx="214.24" cy="335.38" r="0.45" fill="#b0b6e0" fill-opacity="0.85"/>
<circle cx="211.94" cy="331.15" r="0.45" fill="#b0b6e0" fill-opacity="0.85"/>
<circle cx="215.96" cy="332.29" r="0.45" fill="#b0b6e0" fill-opacity="0.85"/>
<circle cx="215.2" cy="335.7" r="0.45" fill="#b0b6e0" fill-opacity="0.85"/>
<circle cx="213.21" cy="340.04" r="0.45" fill="#b0b6e0" fill-opacity="0.85"/>
<circle cx="210.22" cy="330.05" r="0.45" fill="#b0b6e0" fill-opacity="0.85"/>
<circle cx="209.33" cy="327.42" r="0.45" fill="#b0b6e0" fill-opacity="0.85"/>
<circle cx="218.31" cy="342.76" r="0.45" fill="#b0b6e0" fill-opacity="0.85"/>
<circle cx="212.49" cy="335.61" r="0.45" fill="#b0b6e0" fill-opacity="0.85"/>
<circle cx="216.87" cy="337.04" r="0.45" fill="#b0b6e0" fill-opacity="0.85"/>
<circle cx="216.98" cy="324.62" r="0.45" fill="#b0b6e0" fill-opacity="0.85"/>
<circle cx="209.97" cy="334.92" r="0.45" fill="#b0b6e0" fill-opacity="0.85"/>
<circle cx="217.85" cy="332.82" r="0.45" fill="#b0b6e0" fill-opacity="0.85"/>
<circle cx="209.14" cy="330.07" r="0.45" fill="#b0b6e0" fill-opacity="0.85"/>
<circle cx="209.89" cy="327.05" r="0.45" fill="#b0b6e0" fill-opacity="0.85"/>
<circle cx="218.1" cy="328.45" r="0.45" fill="#b0b6e0" fill-opacity="0.85"/>
<circle cx="212.48" cy="345.17" r="0.45" fill="#b0b6e0" fill-opacity="0.85"/>
<circle cx="216.9" cy="334.22" r="0.45" fill="#b0b6e0" fill-opacity="0.85"/>
<circle cx="210.07" cy="334.66" r="0.45" fill="#b0b6e0" fill-opacity="0.85"/>
<circle cx="218.56" cy="335.94" r="0.45" fill="#b0b6e0" fill-opacity="0.85"/>
<circle cx="217.19" cy="332.79" r="0.45" fill="#b0b6e0" fill-opacity="0.85"/>
<circle cx="214.36" cy="330.99" r="0.45" fill="#b0b6e0" fill-opacity="0.85"/>
<circle cx="214.02" cy="340" r="0.45" fill="#b0b6e0" fill-opacity="0.85"/>
<circle cx="206.96" cy="331.82" r="0.45" fill="#b0b6e0" fill-opacity="0.85"/>
<circle cx="213.31" cy="328.77" r="0.45" fill="#b0b6e0" fill-opacity="0.85"/>
<circle cx="211.23" cy="336.92" r="0.45" fill="#b0b6e0" fill-opacity="0.85"/>
<circle cx="220.01" cy="335.98" r="0.45" fill="#b0b6e0" fill-opacity="0.85"/>
<circle cx="213.64" cy="322.89" r="0.45" fill="#b0b6e0" fill-opacity="0.85"/>
<circle cx="219.72" cy="332.66" r="0.45" fill="#b0b6e0" fill-opacity="0.85"/>
<circle cx="212.27" cy="325.49" r="0.45" fill="#b0b6e0" fill-opacity="0.85"/>
<circle cx="212.18" cy="325.62" r="0.45" fill="#b0b6e0" fill-opacity="0.85"/>
<circle cx="212.67" cy="335" r="0.45" fill="#b0b6e0" fill-opacity="0.85"/>
<circle cx="212.52" cy="333.88" r="0.45" fill="#b0b6e0" fill-opacity="0.85"/>
<circle cx="209.16" cy="340.78" r="0.45" fill="#b0b6e0" fill-opacity="0.85"/>
<circle cx="209.92" cy="321.29" r="0.45" fill="#b0b6e0" fill-opacity="0.85"/>
<circle cx="211.69" cy="327.62" r="0.45" fill="#b0b6e0" fill-opacity="0.85"/>
<circle cx="208.56" cy="330.07" r="0.45" fill="#b0b6e0" fill-opacity="0.85"/>
<circle cx="213.51" cy="325.11" r="0.45" fill="#b0b6e0" fill-opacity="0.85"/>
<circle cx="211.88" cy="340.76" r="0.45" fill="#b0b6e0" fill-opacity="0.85"/>
<circle cx="214.99" cy="331.29" r="0.45" fill="#b0b6e0" fill-opacity="0.85"/>
<circle cx="212.89" cy="331.48" r="0.45" fill="#b0b6e0" fill-opacity="0.85"/>
<circle cx="212.22" cy="336.59" r="0.45" fill="#b0b6e0" fill-opacity="0.85"/>
<circle cx="212.05" cy="317.77" r="0.45" fill="#b0b6e0" fill-opacity="0.85"/>
<circle cx="212.32" cy="326.86" r="0.45" fill="#b0b6e0" fill-opacity="0.85"/>
<circle cx="232.18" cy="323.15" r="0.4" fill="#b8c0dc"/>
<circle cx="231.58" cy="337.09" r="0.4" fill="#b8c0dc"/>
<circle cx="230.14" cy="320.58" r="0.4" fill="#b8c0dc"/>
<circle cx="229.71" cy="314.23" r="0.4" fill="#b8c0dc"/>
<circle cx="229.15" cy="328.02" r="0.4" fill="#b8c0dc"/>
<circle cx="230.63" cy="316.86" r="0.4" fill="#b8c0dc"/>
<circle cx="229.62" cy="329.29" r="0.4" fill="#b8c0dc"/>
<circle cx="230.47" cy="324.37" r="0.4" fill="#b8c0dc"/>
<circle cx="231.8" cy="332.98" r="0.4" fill="#b8c0dc"/>
<circle cx="233.73" cy="331.36" r="0.4" fill="#b8c0dc"/>
<g transform="translate(230.9,341.2) rotate(0)" filter="url(#bl)"><ellipse cx="0" cy="0" rx="5.6" ry="3.2" fill="#aab0e8" fill-opacity="0.7"/><ellipse cx="0" cy="0" rx="3.36" ry="1.92" fill="#88a436" fill-opacity="1"/><ellipse cx="0" cy="0" rx="1.96" ry="1.12" fill="#98ac30" fill-opacity="1"/></g>
<g transform="translate(231.9,345.2) rotate(0)" filter="url(#bl)"><ellipse cx="0" cy="0" rx="4" ry="0.8" fill="#eeeeb0" fill-opacity="0.6"/></g>
<rect x="226.1" y="314" width="11.3" height="19.7" fill="none" stroke="#3c3c3c" stroke-width="0.7" />
<text x="208.7" y="319.2" font-size="6.9" fill="#b8385a" textLength="15.1" lengthAdjust="spacingAndGlyphs" stroke="#b8385a" stroke-width="0.2">2.2%</text>
<line x1="270.9" y1="310.2" x2="318.2" y2="310.2" stroke="#c4c4c4" stroke-width="0.9" />
<line x1="318.2" y1="310.2" x2="318.2" y2="353.7" stroke="#c4c4c4" stroke-width="0.9" />
<line x1="270.9" y1="309.8" x2="270.9" y2="354.1" stroke="#1a1a1a" stroke-width="0.9" />
<line x1="270.5" y1="353.7" x2="318.2" y2="353.7" stroke="#1a1a1a" stroke-width="0.9" />
<line x1="268.9" y1="313.9" x2="270.9" y2="313.9" stroke="#1a1a1a" stroke-width="0.8" />
<text x="256.5" y="314.9" font-size="6.3" textLength="7.2" lengthAdjust="spacingAndGlyphs" stroke="#2a2a2a" stroke-width="0.2">10</text>
<text x="264" y="312" font-size="4.5" stroke="#2a2a2a" stroke-width="0.2">5</text>
<line x1="268.9" y1="323.8" x2="270.9" y2="323.8" stroke="#1a1a1a" stroke-width="0.8" />
<text x="256.5" y="324.8" font-size="6.3" textLength="7.2" lengthAdjust="spacingAndGlyphs" stroke="#2a2a2a" stroke-width="0.2">10</text>
<text x="264" y="321.9" font-size="4.5" stroke="#2a2a2a" stroke-width="0.2">4</text>
<line x1="268.9" y1="335.2" x2="270.9" y2="335.2" stroke="#1a1a1a" stroke-width="0.8" />
<text x="256.5" y="336.2" font-size="6.3" textLength="7.2" lengthAdjust="spacingAndGlyphs" stroke="#2a2a2a" stroke-width="0.2">10</text>
<text x="264" y="333.3" font-size="4.5" stroke="#2a2a2a" stroke-width="0.2">3</text>
<line x1="268.9" y1="342.4" x2="270.9" y2="342.4" stroke="#1a1a1a" stroke-width="0.8" />
<text x="266.1" y="343" font-size="6.3" text-anchor="end" stroke="#2a2a2a" stroke-width="0.2">0</text>
<line x1="269.7" y1="316.7" x2="270.9" y2="316.7" stroke="#1a1a1a" stroke-width="0.5" />
<line x1="269.7" y1="318.7" x2="270.9" y2="318.7" stroke="#1a1a1a" stroke-width="0.5" />
<line x1="269.7" y1="320.7" x2="270.9" y2="320.7" stroke="#1a1a1a" stroke-width="0.5" />
<line x1="269.7" y1="326.7" x2="270.9" y2="326.7" stroke="#1a1a1a" stroke-width="0.5" />
<line x1="269.7" y1="329.2" x2="270.9" y2="329.2" stroke="#1a1a1a" stroke-width="0.5" />
<line x1="269.7" y1="331.7" x2="270.9" y2="331.7" stroke="#1a1a1a" stroke-width="0.5" />
<line x1="269.7" y1="338.7" x2="270.9" y2="338.7" stroke="#1a1a1a" stroke-width="0.5" />
<line x1="269.7" y1="346.2" x2="270.9" y2="346.2" stroke="#1a1a1a" stroke-width="0.5" />
<line x1="269.7" y1="349.7" x2="270.9" y2="349.7" stroke="#1a1a1a" stroke-width="0.5" />
<line x1="270.3" y1="341" x2="270.3" y2="343.8" stroke="#1a1a1a" stroke-width="1.8" />
<line x1="280.9" y1="353.7" x2="280.9" y2="355.7" stroke="#1a1a1a" stroke-width="0.8" />
<line x1="289.1" y1="353.7" x2="289.1" y2="355.7" stroke="#1a1a1a" stroke-width="0.8" />
<line x1="302.5" y1="353.7" x2="302.5" y2="355.7" stroke="#1a1a1a" stroke-width="0.8" />
<line x1="313.9" y1="353.7" x2="313.9" y2="355.7" stroke="#1a1a1a" stroke-width="0.8" />
<line x1="274.9" y1="353.7" x2="274.9" y2="354.9" stroke="#1a1a1a" stroke-width="0.5" />
<line x1="276.9" y1="353.7" x2="276.9" y2="354.9" stroke="#1a1a1a" stroke-width="0.5" />
<line x1="278.9" y1="353.7" x2="278.9" y2="354.9" stroke="#1a1a1a" stroke-width="0.5" />
<line x1="283.9" y1="353.7" x2="283.9" y2="354.9" stroke="#1a1a1a" stroke-width="0.5" />
<line x1="285.9" y1="353.7" x2="285.9" y2="354.9" stroke="#1a1a1a" stroke-width="0.5" />
<line x1="292.9" y1="353.7" x2="292.9" y2="354.9" stroke="#1a1a1a" stroke-width="0.5" />
<line x1="295.9" y1="353.7" x2="295.9" y2="354.9" stroke="#1a1a1a" stroke-width="0.5" />
<line x1="298.9" y1="353.7" x2="298.9" y2="354.9" stroke="#1a1a1a" stroke-width="0.5" />
<line x1="305.9" y1="353.7" x2="305.9" y2="354.9" stroke="#1a1a1a" stroke-width="0.5" />
<line x1="308.9" y1="353.7" x2="308.9" y2="354.9" stroke="#1a1a1a" stroke-width="0.5" />
<line x1="310.9" y1="353.7" x2="310.9" y2="354.9" stroke="#1a1a1a" stroke-width="0.5" />
<ellipse cx="281.7" cy="354.6" rx="1.5" ry="0.9" fill="#1a1a1a"/>
<text x="280.9" y="363.5" font-size="6.3" text-anchor="middle" stroke="#2a2a2a" stroke-width="0.2">0</text>
<text x="285.2" y="363.5" font-size="6.3" textLength="7.1" lengthAdjust="spacingAndGlyphs" stroke="#2a2a2a" stroke-width="0.2">10</text>
<text x="292.5" y="360.3" font-size="4.5" stroke="#2a2a2a" stroke-width="0.2">3</text>
<text x="298.6" y="363.5" font-size="6.3" textLength="7.1" lengthAdjust="spacingAndGlyphs" stroke="#2a2a2a" stroke-width="0.2">10</text>
<text x="305.9" y="360.3" font-size="4.5" stroke="#2a2a2a" stroke-width="0.2">4</text>
<text x="310" y="363.5" font-size="6.3" textLength="7.1" lengthAdjust="spacingAndGlyphs" stroke="#2a2a2a" stroke-width="0.2">10</text>
<text x="317.3" y="360.3" font-size="4.5" stroke="#2a2a2a" stroke-width="0.2">5</text>
<g transform="translate(285.4,325.7) rotate(0)" filter="url(#bl)"><ellipse cx="0" cy="0" rx="3.2" ry="4.5" fill="#a8b4e4" fill-opacity="0.6"/><ellipse cx="0" cy="0" rx="1.92" ry="2.7" fill="#8894cc" fill-opacity="0.8"/></g>
<circle cx="285.72" cy="324.84" r="0.45" fill="#7888c8" fill-opacity="0.9"/>
<circle cx="289.36" cy="329.2" r="0.45" fill="#7888c8" fill-opacity="0.9"/>
<circle cx="284.72" cy="325.8" r="0.45" fill="#7888c8" fill-opacity="0.9"/>
<circle cx="286.03" cy="324.38" r="0.45" fill="#7888c8" fill-opacity="0.9"/>
<circle cx="284.3" cy="319.56" r="0.45" fill="#7888c8" fill-opacity="0.9"/>
<circle cx="284.23" cy="318.8" r="0.45" fill="#7888c8" fill-opacity="0.9"/>
<circle cx="288.09" cy="326.08" r="0.45" fill="#7888c8" fill-opacity="0.9"/>
<circle cx="282.75" cy="329.09" r="0.45" fill="#7888c8" fill-opacity="0.9"/>
<circle cx="287.36" cy="317.52" r="0.45" fill="#7888c8" fill-opacity="0.9"/>
<circle cx="289.45" cy="327.03" r="0.45" fill="#7888c8" fill-opacity="0.9"/>
<circle cx="289.94" cy="319.89" r="0.45" fill="#7888c8" fill-opacity="0.9"/>
<circle cx="286.57" cy="325.68" r="0.45" fill="#7888c8" fill-opacity="0.9"/>
<circle cx="285.84" cy="324.8" r="0.45" fill="#7888c8" fill-opacity="0.9"/>
<circle cx="287.72" cy="318.97" r="0.45" fill="#7888c8" fill-opacity="0.9"/>
<circle cx="282.67" cy="319.32" r="0.45" fill="#7888c8" fill-opacity="0.9"/>
<circle cx="284.17" cy="322.08" r="0.45" fill="#7888c8" fill-opacity="0.9"/>
<circle cx="286.21" cy="325.13" r="0.45" fill="#7888c8" fill-opacity="0.9"/>
<circle cx="285.47" cy="321.83" r="0.45" fill="#7888c8" fill-opacity="0.9"/>
<circle cx="284.43" cy="327.53" r="0.45" fill="#7888c8" fill-opacity="0.9"/>
<circle cx="287.08" cy="324.55" r="0.45" fill="#7888c8" fill-opacity="0.9"/>
<circle cx="284.69" cy="329.64" r="0.45" fill="#7888c8" fill-opacity="0.9"/>
<circle cx="284.09" cy="326.47" r="0.45" fill="#7888c8" fill-opacity="0.9"/>
<circle cx="287.94" cy="323.27" r="0.45" fill="#7888c8" fill-opacity="0.9"/>
<circle cx="287.22" cy="320.3" r="0.45" fill="#7888c8" fill-opacity="0.9"/>
<circle cx="287.63" cy="324.9" r="0.45" fill="#7888c8" fill-opacity="0.9"/>
<circle cx="281.91" cy="326.54" r="0.45" fill="#7888c8" fill-opacity="0.9"/>
<circle cx="283.44" cy="328.69" r="0.45" fill="#7888c8" fill-opacity="0.9"/>
<circle cx="283.91" cy="323.62" r="0.45" fill="#7888c8" fill-opacity="0.9"/>
<circle cx="286.02" cy="323.04" r="0.45" fill="#7888c8" fill-opacity="0.9"/>
<circle cx="285.97" cy="322.26" r="0.45" fill="#7888c8" fill-opacity="0.9"/>
<circle cx="286.88" cy="324.22" r="0.45" fill="#7888c8" fill-opacity="0.9"/>
<circle cx="285.86" cy="314.57" r="0.45" fill="#7888c8" fill-opacity="0.9"/>
<circle cx="287.96" cy="324.31" r="0.45" fill="#7888c8" fill-opacity="0.9"/>
<circle cx="281.48" cy="324.53" r="0.45" fill="#7888c8" fill-opacity="0.9"/>
<circle cx="286.43" cy="327.95" r="0.45" fill="#7888c8" fill-opacity="0.9"/>
<circle cx="283.02" cy="329.61" r="0.45" fill="#7888c8" fill-opacity="0.9"/>
<circle cx="285.05" cy="332.58" r="0.45" fill="#7888c8" fill-opacity="0.9"/>
<circle cx="285.08" cy="326.58" r="0.45" fill="#7888c8" fill-opacity="0.9"/>
<circle cx="284.59" cy="320.29" r="0.45" fill="#7888c8" fill-opacity="0.9"/>
<circle cx="287.81" cy="327.37" r="0.45" fill="#7888c8" fill-opacity="0.9"/>
<circle cx="288.78" cy="327.2" r="0.45" fill="#7888c8" fill-opacity="0.9"/>
<circle cx="284.14" cy="318.38" r="0.45" fill="#7888c8" fill-opacity="0.9"/>
<circle cx="283.97" cy="321.84" r="0.45" fill="#7888c8" fill-opacity="0.9"/>
<circle cx="283.61" cy="326.24" r="0.45" fill="#7888c8" fill-opacity="0.9"/>
<circle cx="286.12" cy="323.26" r="0.45" fill="#7888c8" fill-opacity="0.9"/>
<circle cx="285.78" cy="323.69" r="0.45" fill="#7888c8" fill-opacity="0.9"/>
<circle cx="285.87" cy="326.83" r="0.45" fill="#7888c8" fill-opacity="0.9"/>
<circle cx="287.51" cy="321.8" r="0.45" fill="#7888c8" fill-opacity="0.9"/>
<circle cx="282.09" cy="329.2" r="0.45" fill="#7888c8" fill-opacity="0.9"/>
<circle cx="285.65" cy="328.07" r="0.45" fill="#7888c8" fill-opacity="0.9"/>
<circle cx="287.15" cy="325.05" r="0.4" fill="#b8c2e4"/>
<circle cx="292.99" cy="321.15" r="0.4" fill="#b8c2e4"/>
<circle cx="291.09" cy="328.74" r="0.4" fill="#b8c2e4"/>
<circle cx="296.67" cy="331.78" r="0.4" fill="#b8c2e4"/>
<circle cx="289.88" cy="321.3" r="0.4" fill="#b8c2e4"/>
<circle cx="294.72" cy="329.49" r="0.4" fill="#b8c2e4"/>
<circle cx="293.58" cy="321.64" r="0.4" fill="#b8c2e4"/>
<circle cx="295.64" cy="328.97" r="0.4" fill="#b8c2e4"/>
<circle cx="294.84" cy="324.5" r="0.4" fill="#b8c2e4"/>
<circle cx="293.96" cy="328.97" r="0.4" fill="#b8c2e4"/>
<circle cx="290.94" cy="319.75" r="0.4" fill="#b8c2e4"/>
<circle cx="294.05" cy="327.88" r="0.4" fill="#b8c2e4"/>
<circle cx="292.95" cy="329.31" r="0.4" fill="#b8c2e4"/>
<circle cx="290.85" cy="325.91" r="0.4" fill="#b8c2e4"/>
<circle cx="291.83" cy="328.2" r="0.4" fill="#b8c2e4"/>
<circle cx="298.48" cy="325.32" r="0.4" fill="#b8c2e4"/>
<circle cx="300.09" cy="331.55" r="0.4" fill="#b8c2e4"/>
<circle cx="295.67" cy="328.25" r="0.4" fill="#b8c2e4"/>
<circle cx="299.1" cy="325.57" r="0.4" fill="#b8c2e4"/>
<circle cx="292.51" cy="322.48" r="0.4" fill="#b8c2e4"/>
<circle cx="294.55" cy="330.91" r="0.4" fill="#b8c2e4"/>
<circle cx="294.76" cy="327.68" r="0.4" fill="#b8c2e4"/>
<circle cx="292.2" cy="326.79" r="0.4" fill="#b8c2e4"/>
<circle cx="287.91" cy="329.87" r="0.4" fill="#b8c2e4"/>
<circle cx="291.47" cy="322.33" r="0.4" fill="#b8c2e4"/>
<circle cx="281.65" cy="341.87" r="0.4" fill="#a8b0dc"/>
<circle cx="286.47" cy="342.62" r="0.4" fill="#a8b0dc"/>
<circle cx="279.83" cy="342.57" r="0.4" fill="#a8b0dc"/>
<circle cx="286.56" cy="341.97" r="0.4" fill="#a8b0dc"/>
<circle cx="279.44" cy="341.9" r="0.4" fill="#a8b0dc"/>
<circle cx="282" cy="342.34" r="0.4" fill="#a8b0dc"/>
<circle cx="282.83" cy="341.39" r="0.4" fill="#a8b0dc"/>
<circle cx="284.6" cy="341.59" r="0.4" fill="#a8b0dc"/>
<circle cx="286.62" cy="341.72" r="0.4" fill="#a8b0dc"/>
<circle cx="281.82" cy="341.86" r="0.4" fill="#a8b0dc"/>
<circle cx="282.27" cy="342.72" r="0.4" fill="#a8b0dc"/>
<circle cx="286.46" cy="342.44" r="0.4" fill="#a8b0dc"/>
<circle cx="284.86" cy="341.58" r="0.4" fill="#a8b0dc"/>
<circle cx="282.34" cy="341.98" r="0.4" fill="#a8b0dc"/>
<circle cx="280.97" cy="342.4" r="0.4" fill="#a8b0dc"/>
<g transform="translate(300.4,342.4) rotate(0)" filter="url(#bl)"><ellipse cx="0" cy="0" rx="5.2" ry="1.4" fill="#98a8d8" fill-opacity="0.6"/><ellipse cx="0" cy="0" rx="3.64" ry="0.98" fill="#8cac34" fill-opacity="1"/><ellipse cx="0" cy="0" rx="2.08" ry="0.56" fill="#a8b830" fill-opacity="1"/></g>
<rect x="280.1" y="312.2" width="11.1" height="20.4" fill="none" stroke="#3c3c3c" stroke-width="0.7" />
<rect x="292.3" y="338.6" width="17.9" height="7.7" fill="none" stroke="#3c3c3c" stroke-width="0.7" />
<text x="292.7" y="318.3" font-size="6.9" fill="#b8385a" textLength="17.9" lengthAdjust="spacingAndGlyphs" stroke="#b8385a" stroke-width="0.2">22.9%</text>
<text x="292.7" y="336.3" font-size="6.9" fill="#b8385a" textLength="17.9" lengthAdjust="spacingAndGlyphs" stroke="#b8385a" stroke-width="0.2">67.7%</text>
<line x1="42.5" y1="368.6" x2="90.3" y2="368.6" stroke="#c4c4c4" stroke-width="0.9" />
<line x1="90.3" y1="368.6" x2="90.3" y2="412.4" stroke="#c4c4c4" stroke-width="0.9" />
<line x1="42.5" y1="368.2" x2="42.5" y2="412.8" stroke="#1a1a1a" stroke-width="0.9" />
<line x1="42.1" y1="412.4" x2="90.3" y2="412.4" stroke="#1a1a1a" stroke-width="0.9" />
<line x1="40.5" y1="369.9" x2="42.5" y2="369.9" stroke="#1a1a1a" stroke-width="0.8" />
<text x="38.6" y="371.8" font-size="6.3" text-anchor="end" textLength="11.4" lengthAdjust="spacingAndGlyphs" stroke="#2a2a2a" stroke-width="0.2">250</text>
<line x1="40.5" y1="378.24" x2="42.5" y2="378.24" stroke="#1a1a1a" stroke-width="0.8" />
<text x="38.6" y="380.14" font-size="6.3" text-anchor="end" textLength="11.4" lengthAdjust="spacingAndGlyphs" stroke="#2a2a2a" stroke-width="0.2">200</text>
<line x1="40.5" y1="386.58" x2="42.5" y2="386.58" stroke="#1a1a1a" stroke-width="0.8" />
<text x="38.6" y="388.48" font-size="6.3" text-anchor="end" textLength="11.4" lengthAdjust="spacingAndGlyphs" stroke="#2a2a2a" stroke-width="0.2">150</text>
<line x1="40.5" y1="394.92" x2="42.5" y2="394.92" stroke="#1a1a1a" stroke-width="0.8" />
<text x="38.6" y="396.82" font-size="6.3" text-anchor="end" textLength="11.4" lengthAdjust="spacingAndGlyphs" stroke="#2a2a2a" stroke-width="0.2">100</text>
<line x1="40.5" y1="403.26" x2="42.5" y2="403.26" stroke="#1a1a1a" stroke-width="0.8" />
<text x="38.6" y="405.16" font-size="6.3" text-anchor="end" textLength="7.6" lengthAdjust="spacingAndGlyphs" stroke="#2a2a2a" stroke-width="0.2">50</text>
<line x1="40.5" y1="411.6" x2="42.5" y2="411.6" stroke="#1a1a1a" stroke-width="0.8" />
<text x="38.6" y="413.5" font-size="6.3" text-anchor="end" textLength="3.8" lengthAdjust="spacingAndGlyphs" stroke="#2a2a2a" stroke-width="0.2">0</text>
<line x1="52.5" y1="412.4" x2="52.5" y2="414.4" stroke="#1a1a1a" stroke-width="0.8" />
<line x1="60.7" y1="412.4" x2="60.7" y2="414.4" stroke="#1a1a1a" stroke-width="0.8" />
<line x1="74.1" y1="412.4" x2="74.1" y2="414.4" stroke="#1a1a1a" stroke-width="0.8" />
<line x1="85.5" y1="412.4" x2="85.5" y2="414.4" stroke="#1a1a1a" stroke-width="0.8" />
<line x1="46.5" y1="412.4" x2="46.5" y2="413.6" stroke="#1a1a1a" stroke-width="0.5" />
<line x1="48.5" y1="412.4" x2="48.5" y2="413.6" stroke="#1a1a1a" stroke-width="0.5" />
<line x1="50.5" y1="412.4" x2="50.5" y2="413.6" stroke="#1a1a1a" stroke-width="0.5" />
<line x1="55.5" y1="412.4" x2="55.5" y2="413.6" stroke="#1a1a1a" stroke-width="0.5" />
<line x1="57.5" y1="412.4" x2="57.5" y2="413.6" stroke="#1a1a1a" stroke-width="0.5" />
<line x1="64.5" y1="412.4" x2="64.5" y2="413.6" stroke="#1a1a1a" stroke-width="0.5" />
<line x1="67.5" y1="412.4" x2="67.5" y2="413.6" stroke="#1a1a1a" stroke-width="0.5" />
<line x1="70.5" y1="412.4" x2="70.5" y2="413.6" stroke="#1a1a1a" stroke-width="0.5" />
<line x1="77.5" y1="412.4" x2="77.5" y2="413.6" stroke="#1a1a1a" stroke-width="0.5" />
<line x1="80.5" y1="412.4" x2="80.5" y2="413.6" stroke="#1a1a1a" stroke-width="0.5" />
<line x1="82.5" y1="412.4" x2="82.5" y2="413.6" stroke="#1a1a1a" stroke-width="0.5" />
<ellipse cx="53.3" cy="413.3" rx="1.5" ry="0.9" fill="#1a1a1a"/>
<text x="52.5" y="422.2" font-size="6.3" text-anchor="middle" stroke="#2a2a2a" stroke-width="0.2">0</text>
<text x="56.8" y="422.2" font-size="6.3" textLength="7.1" lengthAdjust="spacingAndGlyphs" stroke="#2a2a2a" stroke-width="0.2">10</text>
<text x="64.1" y="419" font-size="4.5" stroke="#2a2a2a" stroke-width="0.2">3</text>
<text x="70.2" y="422.2" font-size="6.3" textLength="7.1" lengthAdjust="spacingAndGlyphs" stroke="#2a2a2a" stroke-width="0.2">10</text>
<text x="77.5" y="419" font-size="4.5" stroke="#2a2a2a" stroke-width="0.2">4</text>
<text x="81.6" y="422.2" font-size="6.3" textLength="7.1" lengthAdjust="spacingAndGlyphs" stroke="#2a2a2a" stroke-width="0.2">10</text>
<text x="88.9" y="419" font-size="4.5" stroke="#2a2a2a" stroke-width="0.2">5</text>
<circle cx="56.16" cy="398.95" r="0.42" fill="#3a4aa8"/>
<circle cx="54.78" cy="398.52" r="0.42" fill="#3a4aa8"/>
<circle cx="62.19" cy="399.49" r="0.42" fill="#3a4aa8"/>
<circle cx="60.28" cy="398.73" r="0.42" fill="#3a4aa8"/>
<circle cx="47.33" cy="399.53" r="0.42" fill="#3a4aa8"/>
<circle cx="64.97" cy="399.04" r="0.42" fill="#3a4aa8"/>
<circle cx="63.69" cy="399.49" r="0.42" fill="#3a4aa8"/>
<circle cx="64.56" cy="398.79" r="0.42" fill="#3a4aa8"/>
<circle cx="64.24" cy="399.23" r="0.42" fill="#3a4aa8"/>
<circle cx="52.58" cy="399.17" r="0.42" fill="#3a4aa8"/>
<circle cx="53.09" cy="399.25" r="0.42" fill="#3a4aa8"/>
<circle cx="62.09" cy="398.65" r="0.42" fill="#3a4aa8"/>
<circle cx="50.27" cy="399.83" r="0.42" fill="#3a4aa8"/>
<circle cx="61.21" cy="399.56" r="0.42" fill="#3a4aa8"/>
<circle cx="53.56" cy="399.65" r="0.42" fill="#3a4aa8"/>
<circle cx="68.85" cy="399.52" r="0.42" fill="#3a4aa8"/>
<circle cx="58.56" cy="399.22" r="0.42" fill="#3a4aa8"/>
<circle cx="58.82" cy="399.47" r="0.42" fill="#3a4aa8"/>
<circle cx="64.17" cy="398.99" r="0.42" fill="#3a4aa8"/>
<circle cx="53.39" cy="399.54" r="0.42" fill="#3a4aa8"/>
<circle cx="57.39" cy="399.38" r="0.42" fill="#3a4aa8"/>
<circle cx="60.7" cy="399.63" r="0.42" fill="#3a4aa8"/>
<circle cx="64.61" cy="398.79" r="0.42" fill="#3a4aa8"/>
<circle cx="61.09" cy="399.67" r="0.42" fill="#3a4aa8"/>
<circle cx="57.09" cy="399.32" r="0.42" fill="#3a4aa8"/>
<circle cx="64.87" cy="399.38" r="0.42" fill="#3a4aa8"/>
<circle cx="61.82" cy="398.57" r="0.42" fill="#3a4aa8"/>
<circle cx="53.83" cy="399.36" r="0.42" fill="#3a4aa8"/>
<circle cx="61.27" cy="399.94" r="0.42" fill="#3a4aa8"/>
<circle cx="55.64" cy="399.61" r="0.42" fill="#3a4aa8"/>
<circle cx="62.95" cy="398.41" r="0.42" fill="#3a4aa8"/>
<circle cx="55.82" cy="399.27" r="0.42" fill="#3a4aa8"/>
<circle cx="57.28" cy="399.11" r="0.42" fill="#3a4aa8"/>
<circle cx="61.61" cy="398.75" r="0.42" fill="#3a4aa8"/>
<circle cx="61.59" cy="398.81" r="0.42" fill="#3a4aa8"/>
<circle cx="57.06" cy="399.36" r="0.42" fill="#3a4aa8"/>
<circle cx="56.92" cy="399.28" r="0.42" fill="#3a4aa8"/>
<circle cx="66.69" cy="398.89" r="0.42" fill="#3a4aa8"/>
<circle cx="58.85" cy="399.38" r="0.42" fill="#3a4aa8"/>
<circle cx="57.87" cy="399.53" r="0.42" fill="#3a4aa8"/>
<circle cx="53.74" cy="399.49" r="0.42" fill="#3a4aa8"/>
<circle cx="57.19" cy="398.89" r="0.42" fill="#3a4aa8"/>
<circle cx="67.45" cy="398.56" r="0.42" fill="#3a4aa8"/>
<circle cx="67.41" cy="399.09" r="0.42" fill="#3a4aa8"/>
<circle cx="66.03" cy="398.56" r="0.42" fill="#3a4aa8"/>
<circle cx="64.91" cy="399.45" r="0.42" fill="#3a4aa8"/>
<circle cx="58.97" cy="399.07" r="0.42" fill="#3a4aa8"/>
<circle cx="70.55" cy="398.83" r="0.42" fill="#3a4aa8"/>
<circle cx="57.59" cy="398.94" r="0.42" fill="#3a4aa8"/>
<circle cx="61.51" cy="399.16" r="0.42" fill="#3a4aa8"/>
<circle cx="60.32" cy="399.68" r="0.42" fill="#3a4aa8"/>
<circle cx="58.03" cy="399.31" r="0.42" fill="#3a4aa8"/>
<circle cx="66.05" cy="398.55" r="0.42" fill="#3a4aa8"/>
<circle cx="64.19" cy="399.6" r="0.42" fill="#3a4aa8"/>
<circle cx="53.39" cy="398.9" r="0.42" fill="#3a4aa8"/>
<circle cx="54.81" cy="398.59" r="0.42" fill="#3a4aa8"/>
<circle cx="61.52" cy="398.39" r="0.42" fill="#3a4aa8"/>
<circle cx="61.76" cy="399.54" r="0.42" fill="#3a4aa8"/>
<circle cx="52.23" cy="399.21" r="0.42" fill="#3a4aa8"/>
<circle cx="50.88" cy="399.63" r="0.42" fill="#3a4aa8"/>
<circle cx="56.18" cy="399.11" r="0.42" fill="#3a4aa8"/>
<circle cx="59.75" cy="399.28" r="0.42" fill="#3a4aa8"/>
<circle cx="57.94" cy="399.15" r="0.42" fill="#3a4aa8"/>
<circle cx="57.04" cy="399.21" r="0.42" fill="#3a4aa8"/>
<circle cx="54.23" cy="399.28" r="0.42" fill="#3a4aa8"/>
<circle cx="50.8" cy="399.19" r="0.42" fill="#3a4aa8"/>
<circle cx="68.12" cy="398.87" r="0.42" fill="#3a4aa8"/>
<circle cx="53.84" cy="399.36" r="0.42" fill="#3a4aa8"/>
<circle cx="55.11" cy="398.65" r="0.42" fill="#3a4aa8"/>
<circle cx="56.2" cy="399.46" r="0.42" fill="#3a4aa8"/>
<circle cx="61.23" cy="399.01" r="0.42" fill="#3a4aa8"/>
<circle cx="55.32" cy="398.85" r="0.42" fill="#3a4aa8"/>
<circle cx="65.57" cy="399" r="0.42" fill="#3a4aa8"/>
<circle cx="55.2" cy="398.49" r="0.42" fill="#3a4aa8"/>
<circle cx="53.36" cy="400.15" r="0.42" fill="#3a4aa8"/>
<circle cx="54.33" cy="399.23" r="0.42" fill="#3a4aa8"/>
<circle cx="60.44" cy="399.02" r="0.42" fill="#3a4aa8"/>
<circle cx="58.23" cy="398.66" r="0.42" fill="#3a4aa8"/>
<circle cx="54.79" cy="399.83" r="0.42" fill="#3a4aa8"/>
<circle cx="56.11" cy="399.5" r="0.42" fill="#3a4aa8"/>
<circle cx="51.88" cy="399.23" r="0.42" fill="#3a4aa8"/>
<circle cx="60.69" cy="399.43" r="0.42" fill="#3a4aa8"/>
<circle cx="54.46" cy="399.46" r="0.42" fill="#3a4aa8"/>
<circle cx="61.23" cy="398.79" r="0.42" fill="#3a4aa8"/>
<circle cx="61.64" cy="398.72" r="0.42" fill="#3a4aa8"/>
<circle cx="55.92" cy="399.2" r="0.42" fill="#3a4aa8"/>
<circle cx="47.29" cy="399.43" r="0.42" fill="#3a4aa8"/>
<circle cx="54.99" cy="398.72" r="0.42" fill="#3a4aa8"/>
<circle cx="57.6" cy="399.42" r="0.42" fill="#3a4aa8"/>
<circle cx="57.69" cy="399.6" r="0.42" fill="#3a4aa8"/>
<g transform="translate(77,398.6) rotate(0)" filter="url(#bl)"><ellipse cx="0" cy="0" rx="6.5" ry="1.2" fill="#4058b0" fill-opacity="0.75"/><ellipse cx="0" cy="0" rx="4.55" ry="0.84" fill="#3a7a9a" fill-opacity="0.9"/><ellipse cx="0" cy="0" rx="2.6" ry="0.48" fill="#98ac38" fill-opacity="1"/></g>
<rect x="69.3" y="396.6" width="17.2" height="7.7" fill="none" stroke="#4a5e8a" stroke-width="0.7" />
<text x="68.8" y="395.1" font-size="6.9" fill="#b8385a" textLength="19.2" lengthAdjust="spacingAndGlyphs" stroke="#b8385a" stroke-width="0.2">93.1%</text>
<line x1="119.3" y1="368.6" x2="167.4" y2="368.6" stroke="#c4c4c4" stroke-width="0.9" />
<line x1="167.4" y1="368.6" x2="167.4" y2="412.4" stroke="#c4c4c4" stroke-width="0.9" />
<line x1="119.3" y1="368.2" x2="119.3" y2="412.8" stroke="#1a1a1a" stroke-width="0.9" />
<line x1="118.9" y1="412.4" x2="167.4" y2="412.4" stroke="#1a1a1a" stroke-width="0.9" />
<line x1="117.3" y1="372.3" x2="119.3" y2="372.3" stroke="#1a1a1a" stroke-width="0.8" />
<text x="104.9" y="373.3" font-size="6.3" textLength="7.2" lengthAdjust="spacingAndGlyphs" stroke="#2a2a2a" stroke-width="0.2">10</text>
<text x="112.4" y="370.4" font-size="4.5" stroke="#2a2a2a" stroke-width="0.2">5</text>
<line x1="117.3" y1="382.2" x2="119.3" y2="382.2" stroke="#1a1a1a" stroke-width="0.8" />
<text x="104.9" y="383.2" font-size="6.3" textLength="7.2" lengthAdjust="spacingAndGlyphs" stroke="#2a2a2a" stroke-width="0.2">10</text>
<text x="112.4" y="380.3" font-size="4.5" stroke="#2a2a2a" stroke-width="0.2">4</text>
<line x1="117.3" y1="393.6" x2="119.3" y2="393.6" stroke="#1a1a1a" stroke-width="0.8" />
<text x="104.9" y="394.6" font-size="6.3" textLength="7.2" lengthAdjust="spacingAndGlyphs" stroke="#2a2a2a" stroke-width="0.2">10</text>
<text x="112.4" y="391.7" font-size="4.5" stroke="#2a2a2a" stroke-width="0.2">3</text>
<line x1="117.3" y1="400.8" x2="119.3" y2="400.8" stroke="#1a1a1a" stroke-width="0.8" />
<text x="114.5" y="401.4" font-size="6.3" text-anchor="end" stroke="#2a2a2a" stroke-width="0.2">0</text>
<line x1="118.1" y1="375.1" x2="119.3" y2="375.1" stroke="#1a1a1a" stroke-width="0.5" />
<line x1="118.1" y1="377.1" x2="119.3" y2="377.1" stroke="#1a1a1a" stroke-width="0.5" />
<line x1="118.1" y1="379.1" x2="119.3" y2="379.1" stroke="#1a1a1a" stroke-width="0.5" />
<line x1="118.1" y1="385.1" x2="119.3" y2="385.1" stroke="#1a1a1a" stroke-width="0.5" />
<line x1="118.1" y1="387.6" x2="119.3" y2="387.6" stroke="#1a1a1a" stroke-width="0.5" />
<line x1="118.1" y1="390.1" x2="119.3" y2="390.1" stroke="#1a1a1a" stroke-width="0.5" />
<line x1="118.1" y1="397.1" x2="119.3" y2="397.1" stroke="#1a1a1a" stroke-width="0.5" />
<line x1="118.1" y1="404.6" x2="119.3" y2="404.6" stroke="#1a1a1a" stroke-width="0.5" />
<line x1="118.1" y1="408.1" x2="119.3" y2="408.1" stroke="#1a1a1a" stroke-width="0.5" />
<line x1="118.7" y1="399.4" x2="118.7" y2="402.2" stroke="#1a1a1a" stroke-width="1.8" />
<line x1="129.3" y1="412.4" x2="129.3" y2="414.4" stroke="#1a1a1a" stroke-width="0.8" />
<line x1="137.5" y1="412.4" x2="137.5" y2="414.4" stroke="#1a1a1a" stroke-width="0.8" />
<line x1="150.9" y1="412.4" x2="150.9" y2="414.4" stroke="#1a1a1a" stroke-width="0.8" />
<line x1="162.3" y1="412.4" x2="162.3" y2="414.4" stroke="#1a1a1a" stroke-width="0.8" />
<line x1="123.3" y1="412.4" x2="123.3" y2="413.6" stroke="#1a1a1a" stroke-width="0.5" />
<line x1="125.3" y1="412.4" x2="125.3" y2="413.6" stroke="#1a1a1a" stroke-width="0.5" />
<line x1="127.3" y1="412.4" x2="127.3" y2="413.6" stroke="#1a1a1a" stroke-width="0.5" />
<line x1="132.3" y1="412.4" x2="132.3" y2="413.6" stroke="#1a1a1a" stroke-width="0.5" />
<line x1="134.3" y1="412.4" x2="134.3" y2="413.6" stroke="#1a1a1a" stroke-width="0.5" />
<line x1="141.3" y1="412.4" x2="141.3" y2="413.6" stroke="#1a1a1a" stroke-width="0.5" />
<line x1="144.3" y1="412.4" x2="144.3" y2="413.6" stroke="#1a1a1a" stroke-width="0.5" />
<line x1="147.3" y1="412.4" x2="147.3" y2="413.6" stroke="#1a1a1a" stroke-width="0.5" />
<line x1="154.3" y1="412.4" x2="154.3" y2="413.6" stroke="#1a1a1a" stroke-width="0.5" />
<line x1="157.3" y1="412.4" x2="157.3" y2="413.6" stroke="#1a1a1a" stroke-width="0.5" />
<line x1="159.3" y1="412.4" x2="159.3" y2="413.6" stroke="#1a1a1a" stroke-width="0.5" />
<ellipse cx="130.1" cy="413.3" rx="1.5" ry="0.9" fill="#1a1a1a"/>
<text x="129.3" y="422.2" font-size="6.3" text-anchor="middle" stroke="#2a2a2a" stroke-width="0.2">0</text>
<text x="133.6" y="422.2" font-size="6.3" textLength="7.1" lengthAdjust="spacingAndGlyphs" stroke="#2a2a2a" stroke-width="0.2">10</text>
<text x="140.9" y="419" font-size="4.5" stroke="#2a2a2a" stroke-width="0.2">3</text>
<text x="147" y="422.2" font-size="6.3" textLength="7.1" lengthAdjust="spacingAndGlyphs" stroke="#2a2a2a" stroke-width="0.2">10</text>
<text x="154.3" y="419" font-size="4.5" stroke="#2a2a2a" stroke-width="0.2">4</text>
<text x="158.4" y="422.2" font-size="6.3" textLength="7.1" lengthAdjust="spacingAndGlyphs" stroke="#2a2a2a" stroke-width="0.2">10</text>
<text x="165.7" y="419" font-size="4.5" stroke="#2a2a2a" stroke-width="0.2">5</text>
<circle cx="129.89" cy="391.26" r="0.45" fill="#98a4d8" fill-opacity="0.9"/>
<circle cx="146.03" cy="387.27" r="0.45" fill="#98a4d8" fill-opacity="0.9"/>
<circle cx="141.69" cy="386.64" r="0.45" fill="#98a4d8" fill-opacity="0.9"/>
<circle cx="141.87" cy="388.97" r="0.45" fill="#98a4d8" fill-opacity="0.9"/>
<circle cx="140.83" cy="388.95" r="0.45" fill="#98a4d8" fill-opacity="0.9"/>
<circle cx="143.25" cy="386.28" r="0.45" fill="#98a4d8" fill-opacity="0.9"/>
<circle cx="130.81" cy="390.45" r="0.45" fill="#98a4d8" fill-opacity="0.9"/>
<circle cx="142.93" cy="386.24" r="0.45" fill="#98a4d8" fill-opacity="0.9"/>
<circle cx="130.85" cy="391.63" r="0.45" fill="#98a4d8" fill-opacity="0.9"/>
<circle cx="133.79" cy="389.47" r="0.45" fill="#98a4d8" fill-opacity="0.9"/>
<circle cx="135.19" cy="390.23" r="0.45" fill="#98a4d8" fill-opacity="0.9"/>
<circle cx="133.49" cy="390.31" r="0.45" fill="#98a4d8" fill-opacity="0.9"/>
<circle cx="137.1" cy="389.67" r="0.45" fill="#98a4d8" fill-opacity="0.9"/>
<circle cx="138.14" cy="390.75" r="0.45" fill="#98a4d8" fill-opacity="0.9"/>
<circle cx="137.23" cy="385.77" r="0.45" fill="#98a4d8" fill-opacity="0.9"/>
<circle cx="133.71" cy="390.56" r="0.45" fill="#98a4d8" fill-opacity="0.9"/>
<circle cx="140.11" cy="385.74" r="0.45" fill="#98a4d8" fill-opacity="0.9"/>
<circle cx="133.18" cy="391.94" r="0.45" fill="#98a4d8" fill-opacity="0.9"/>
<circle cx="136.35" cy="393.26" r="0.45" fill="#98a4d8" fill-opacity="0.9"/>
<circle cx="135.75" cy="393.49" r="0.45" fill="#98a4d8" fill-opacity="0.9"/>
<circle cx="127.81" cy="391.16" r="0.45" fill="#98a4d8" fill-opacity="0.9"/>
<circle cx="144.27" cy="388.2" r="0.45" fill="#98a4d8" fill-opacity="0.9"/>
<circle cx="140.04" cy="389.55" r="0.45" fill="#98a4d8" fill-opacity="0.9"/>
<circle cx="138.86" cy="387.15" r="0.45" fill="#98a4d8" fill-opacity="0.9"/>
<circle cx="141.96" cy="387.17" r="0.45" fill="#98a4d8" fill-opacity="0.9"/>
<circle cx="142.7" cy="388.19" r="0.45" fill="#98a4d8" fill-opacity="0.9"/>
<circle cx="125.52" cy="393.43" r="0.45" fill="#98a4d8" fill-opacity="0.9"/>
<circle cx="143.27" cy="387.41" r="0.45" fill="#98a4d8" fill-opacity="0.9"/>
<circle cx="135.37" cy="392.07" r="0.45" fill="#98a4d8" fill-opacity="0.9"/>
<circle cx="134.53" cy="390.73" r="0.45" fill="#98a4d8" fill-opacity="0.9"/>
<circle cx="137.98" cy="390.59" r="0.45" fill="#98a4d8" fill-opacity="0.9"/>
<circle cx="145.53" cy="386.72" r="0.45" fill="#98a4d8" fill-opacity="0.9"/>
<circle cx="149.02" cy="388.94" r="0.45" fill="#98a4d8" fill-opacity="0.9"/>
<circle cx="147.5" cy="388.03" r="0.45" fill="#98a4d8" fill-opacity="0.9"/>
<circle cx="138.12" cy="390.51" r="0.45" fill="#98a4d8" fill-opacity="0.9"/>
<circle cx="135.89" cy="389.66" r="0.45" fill="#98a4d8" fill-opacity="0.9"/>
<circle cx="136.38" cy="389.62" r="0.45" fill="#98a4d8" fill-opacity="0.9"/>
<circle cx="146.62" cy="387.28" r="0.45" fill="#98a4d8" fill-opacity="0.9"/>
<circle cx="133.22" cy="388.32" r="0.45" fill="#98a4d8" fill-opacity="0.9"/>
<circle cx="136.65" cy="389.99" r="0.45" fill="#98a4d8" fill-opacity="0.9"/>
<circle cx="130.45" cy="391.39" r="0.45" fill="#98a4d8" fill-opacity="0.9"/>
<circle cx="125.64" cy="397.5" r="0.45" fill="#98a4d8" fill-opacity="0.9"/>
<circle cx="139.19" cy="395.42" r="0.45" fill="#98a4d8" fill-opacity="0.9"/>
<circle cx="137" cy="390.41" r="0.45" fill="#98a4d8" fill-opacity="0.9"/>
<circle cx="145.22" cy="387.07" r="0.45" fill="#98a4d8" fill-opacity="0.9"/>
<circle cx="137.88" cy="389.49" r="0.45" fill="#98a4d8" fill-opacity="0.9"/>
<circle cx="135.33" cy="394.88" r="0.45" fill="#98a4d8" fill-opacity="0.9"/>
<circle cx="144.2" cy="391.08" r="0.45" fill="#98a4d8" fill-opacity="0.9"/>
<circle cx="135.44" cy="391.57" r="0.45" fill="#98a4d8" fill-opacity="0.9"/>
<circle cx="133.38" cy="394.64" r="0.45" fill="#98a4d8" fill-opacity="0.9"/>
<circle cx="130.26" cy="395.25" r="0.45" fill="#98a4d8" fill-opacity="0.9"/>
<circle cx="144.45" cy="390.28" r="0.45" fill="#98a4d8" fill-opacity="0.9"/>
<circle cx="133.17" cy="395.02" r="0.45" fill="#98a4d8" fill-opacity="0.9"/>
<circle cx="132.79" cy="391.1" r="0.45" fill="#98a4d8" fill-opacity="0.9"/>
<circle cx="131.16" cy="396.13" r="0.45" fill="#98a4d8" fill-opacity="0.9"/>
<circle cx="145.69" cy="385.23" r="0.45" fill="#98a4d8" fill-opacity="0.9"/>
<circle cx="132.9" cy="391.97" r="0.45" fill="#98a4d8" fill-opacity="0.9"/>
<circle cx="151.72" cy="385.87" r="0.45" fill="#98a4d8" fill-opacity="0.9"/>
<circle cx="132.81" cy="388.78" r="0.45" fill="#98a4d8" fill-opacity="0.9"/>
<circle cx="134.7" cy="394.49" r="0.45" fill="#98a4d8" fill-opacity="0.9"/>
<circle cx="147.16" cy="385.25" r="0.45" fill="#98a4d8" fill-opacity="0.9"/>
<circle cx="133.12" cy="391.49" r="0.45" fill="#98a4d8" fill-opacity="0.9"/>
<circle cx="127.9" cy="397.16" r="0.45" fill="#98a4d8" fill-opacity="0.9"/>
<circle cx="132.36" cy="395.35" r="0.45" fill="#98a4d8" fill-opacity="0.9"/>
<circle cx="126.97" cy="392.77" r="0.45" fill="#98a4d8" fill-opacity="0.9"/>
<circle cx="138.19" cy="388.47" r="0.45" fill="#98a4d8" fill-opacity="0.9"/>
<circle cx="141.53" cy="388.58" r="0.45" fill="#98a4d8" fill-opacity="0.9"/>
<circle cx="131.49" cy="394.79" r="0.45" fill="#98a4d8" fill-opacity="0.9"/>
<circle cx="140.18" cy="384.96" r="0.45" fill="#98a4d8" fill-opacity="0.9"/>
<circle cx="147.6" cy="386.73" r="0.45" fill="#98a4d8" fill-opacity="0.9"/>
<circle cx="139.79" cy="385.27" r="0.45" fill="#98a4d8" fill-opacity="0.9"/>
<circle cx="133.11" cy="391.85" r="0.45" fill="#98a4d8" fill-opacity="0.9"/>
<circle cx="141.85" cy="385.16" r="0.45" fill="#98a4d8" fill-opacity="0.9"/>
<circle cx="130.76" cy="389.25" r="0.45" fill="#98a4d8" fill-opacity="0.9"/>
<circle cx="136.3" cy="391.85" r="0.45" fill="#98a4d8" fill-opacity="0.9"/>
<circle cx="127.68" cy="393.94" r="0.45" fill="#98a4d8" fill-opacity="0.9"/>
<circle cx="141.44" cy="392.12" r="0.45" fill="#98a4d8" fill-opacity="0.9"/>
<circle cx="140.62" cy="388.32" r="0.45" fill="#98a4d8" fill-opacity="0.9"/>
<circle cx="130.12" cy="391.99" r="0.45" fill="#98a4d8" fill-opacity="0.9"/>
<circle cx="133.84" cy="392.6" r="0.45" fill="#98a4d8" fill-opacity="0.9"/>
<g transform="translate(155.6,395.1) rotate(-40)" filter="url(#bl)"><ellipse cx="0" cy="0" rx="7.5" ry="2.2" fill="#6a7cd0" fill-opacity="0.7"/><ellipse cx="0" cy="0" rx="5.4" ry="1.58" fill="#7aac48" fill-opacity="0.95"/><ellipse cx="0" cy="0" rx="3.38" ry="0.99" fill="#9cc030" fill-opacity="1"/></g>
<path d="M144.5,400.1 L159.6,387.2 L164.4,391.5 L149.3,404.4 Z" stroke="#3c3c3c" stroke-width="0.7" fill="none" />
<text x="147" y="384" font-size="6.9" fill="#b8385a" textLength="19.2" lengthAdjust="spacingAndGlyphs" stroke="#b8385a" stroke-width="0.2">89.0%</text>
<line x1="196.4" y1="368.6" x2="243.4" y2="368.6" stroke="#c4c4c4" stroke-width="0.9" />
<line x1="243.4" y1="368.6" x2="243.4" y2="412.4" stroke="#c4c4c4" stroke-width="0.9" />
<line x1="196.4" y1="368.2" x2="196.4" y2="412.8" stroke="#1a1a1a" stroke-width="0.9" />
<line x1="196" y1="412.4" x2="243.4" y2="412.4" stroke="#1a1a1a" stroke-width="0.9" />
<line x1="194.4" y1="372.3" x2="196.4" y2="372.3" stroke="#1a1a1a" stroke-width="0.8" />
<text x="182" y="373.3" font-size="6.3" textLength="7.2" lengthAdjust="spacingAndGlyphs" stroke="#2a2a2a" stroke-width="0.2">10</text>
<text x="189.5" y="370.4" font-size="4.5" stroke="#2a2a2a" stroke-width="0.2">5</text>
<line x1="194.4" y1="382.2" x2="196.4" y2="382.2" stroke="#1a1a1a" stroke-width="0.8" />
<text x="182" y="383.2" font-size="6.3" textLength="7.2" lengthAdjust="spacingAndGlyphs" stroke="#2a2a2a" stroke-width="0.2">10</text>
<text x="189.5" y="380.3" font-size="4.5" stroke="#2a2a2a" stroke-width="0.2">4</text>
<line x1="194.4" y1="393.6" x2="196.4" y2="393.6" stroke="#1a1a1a" stroke-width="0.8" />
<text x="182" y="394.6" font-size="6.3" textLength="7.2" lengthAdjust="spacingAndGlyphs" stroke="#2a2a2a" stroke-width="0.2">10</text>
<text x="189.5" y="391.7" font-size="4.5" stroke="#2a2a2a" stroke-width="0.2">3</text>
<line x1="194.4" y1="400.8" x2="196.4" y2="400.8" stroke="#1a1a1a" stroke-width="0.8" />
<text x="191.6" y="401.4" font-size="6.3" text-anchor="end" stroke="#2a2a2a" stroke-width="0.2">0</text>
<line x1="195.2" y1="375.1" x2="196.4" y2="375.1" stroke="#1a1a1a" stroke-width="0.5" />
<line x1="195.2" y1="377.1" x2="196.4" y2="377.1" stroke="#1a1a1a" stroke-width="0.5" />
<line x1="195.2" y1="379.1" x2="196.4" y2="379.1" stroke="#1a1a1a" stroke-width="0.5" />
<line x1="195.2" y1="385.1" x2="196.4" y2="385.1" stroke="#1a1a1a" stroke-width="0.5" />
<line x1="195.2" y1="387.6" x2="196.4" y2="387.6" stroke="#1a1a1a" stroke-width="0.5" />
<line x1="195.2" y1="390.1" x2="196.4" y2="390.1" stroke="#1a1a1a" stroke-width="0.5" />
<line x1="195.2" y1="397.1" x2="196.4" y2="397.1" stroke="#1a1a1a" stroke-width="0.5" />
<line x1="195.2" y1="404.6" x2="196.4" y2="404.6" stroke="#1a1a1a" stroke-width="0.5" />
<line x1="195.2" y1="408.1" x2="196.4" y2="408.1" stroke="#1a1a1a" stroke-width="0.5" />
<line x1="195.8" y1="399.4" x2="195.8" y2="402.2" stroke="#1a1a1a" stroke-width="1.8" />
<line x1="206.4" y1="412.4" x2="206.4" y2="414.4" stroke="#1a1a1a" stroke-width="0.8" />
<line x1="214.6" y1="412.4" x2="214.6" y2="414.4" stroke="#1a1a1a" stroke-width="0.8" />
<line x1="228" y1="412.4" x2="228" y2="414.4" stroke="#1a1a1a" stroke-width="0.8" />
<line x1="239.4" y1="412.4" x2="239.4" y2="414.4" stroke="#1a1a1a" stroke-width="0.8" />
<line x1="200.4" y1="412.4" x2="200.4" y2="413.6" stroke="#1a1a1a" stroke-width="0.5" />
<line x1="202.4" y1="412.4" x2="202.4" y2="413.6" stroke="#1a1a1a" stroke-width="0.5" />
<line x1="204.4" y1="412.4" x2="204.4" y2="413.6" stroke="#1a1a1a" stroke-width="0.5" />
<line x1="209.4" y1="412.4" x2="209.4" y2="413.6" stroke="#1a1a1a" stroke-width="0.5" />
<line x1="211.4" y1="412.4" x2="211.4" y2="413.6" stroke="#1a1a1a" stroke-width="0.5" />
<line x1="218.4" y1="412.4" x2="218.4" y2="413.6" stroke="#1a1a1a" stroke-width="0.5" />
<line x1="221.4" y1="412.4" x2="221.4" y2="413.6" stroke="#1a1a1a" stroke-width="0.5" />
<line x1="224.4" y1="412.4" x2="224.4" y2="413.6" stroke="#1a1a1a" stroke-width="0.5" />
<line x1="231.4" y1="412.4" x2="231.4" y2="413.6" stroke="#1a1a1a" stroke-width="0.5" />
<line x1="234.4" y1="412.4" x2="234.4" y2="413.6" stroke="#1a1a1a" stroke-width="0.5" />
<line x1="236.4" y1="412.4" x2="236.4" y2="413.6" stroke="#1a1a1a" stroke-width="0.5" />
<ellipse cx="207.2" cy="413.3" rx="1.5" ry="0.9" fill="#1a1a1a"/>
<text x="206.4" y="422.2" font-size="6.3" text-anchor="middle" stroke="#2a2a2a" stroke-width="0.2">0</text>
<text x="210.7" y="422.2" font-size="6.3" textLength="7.1" lengthAdjust="spacingAndGlyphs" stroke="#2a2a2a" stroke-width="0.2">10</text>
<text x="218" y="419" font-size="4.5" stroke="#2a2a2a" stroke-width="0.2">3</text>
<text x="224.1" y="422.2" font-size="6.3" textLength="7.1" lengthAdjust="spacingAndGlyphs" stroke="#2a2a2a" stroke-width="0.2">10</text>
<text x="231.4" y="419" font-size="4.5" stroke="#2a2a2a" stroke-width="0.2">4</text>
<text x="235.5" y="422.2" font-size="6.3" textLength="7.1" lengthAdjust="spacingAndGlyphs" stroke="#2a2a2a" stroke-width="0.2">10</text>
<text x="242.8" y="419" font-size="4.5" stroke="#2a2a2a" stroke-width="0.2">5</text>
<circle cx="213.2" cy="399.27" r="0.45" fill="#b0b8e0" fill-opacity="0.85"/>
<circle cx="214.55" cy="388.31" r="0.45" fill="#b0b8e0" fill-opacity="0.85"/>
<circle cx="219.58" cy="396.4" r="0.45" fill="#b0b8e0" fill-opacity="0.85"/>
<circle cx="213.8" cy="389.72" r="0.45" fill="#b0b8e0" fill-opacity="0.85"/>
<circle cx="205.92" cy="388.51" r="0.45" fill="#b0b8e0" fill-opacity="0.85"/>
<circle cx="217.05" cy="389.39" r="0.45" fill="#b0b8e0" fill-opacity="0.85"/>
<circle cx="208.12" cy="393.38" r="0.45" fill="#b0b8e0" fill-opacity="0.85"/>
<circle cx="214.38" cy="395.03" r="0.45" fill="#b0b8e0" fill-opacity="0.85"/>
<circle cx="216.02" cy="398.24" r="0.45" fill="#b0b8e0" fill-opacity="0.85"/>
<circle cx="210.04" cy="396.51" r="0.45" fill="#b0b8e0" fill-opacity="0.85"/>
<circle cx="209.45" cy="395.38" r="0.45" fill="#b0b8e0" fill-opacity="0.85"/>
<circle cx="214.12" cy="393.57" r="0.45" fill="#b0b8e0" fill-opacity="0.85"/>
<circle cx="217.27" cy="392.53" r="0.45" fill="#b0b8e0" fill-opacity="0.85"/>
<circle cx="217.85" cy="396.1" r="0.45" fill="#b0b8e0" fill-opacity="0.85"/>
<circle cx="213.94" cy="390.33" r="0.45" fill="#b0b8e0" fill-opacity="0.85"/>
<circle cx="210.39" cy="390.49" r="0.45" fill="#b0b8e0" fill-opacity="0.85"/>
<circle cx="212.59" cy="392.5" r="0.45" fill="#b0b8e0" fill-opacity="0.85"/>
<circle cx="225.32" cy="395.15" r="0.45" fill="#b0b8e0" fill-opacity="0.85"/>
<circle cx="216.48" cy="389.16" r="0.45" fill="#b0b8e0" fill-opacity="0.85"/>
<circle cx="210.56" cy="391.32" r="0.45" fill="#b0b8e0" fill-opacity="0.85"/>
<circle cx="214.17" cy="388.46" r="0.45" fill="#b0b8e0" fill-opacity="0.85"/>
<circle cx="219.85" cy="390.35" r="0.45" fill="#b0b8e0" fill-opacity="0.85"/>
<circle cx="217.71" cy="383.26" r="0.45" fill="#b0b8e0" fill-opacity="0.85"/>
<circle cx="213.37" cy="393.71" r="0.45" fill="#b0b8e0" fill-opacity="0.85"/>
<circle cx="214.17" cy="395.01" r="0.45" fill="#b0b8e0" fill-opacity="0.85"/>
<circle cx="214.52" cy="393.25" r="0.45" fill="#b0b8e0" fill-opacity="0.85"/>
<circle cx="205.83" cy="389.75" r="0.45" fill="#b0b8e0" fill-opacity="0.85"/>
<circle cx="204.03" cy="395.11" r="0.45" fill="#b0b8e0" fill-opacity="0.85"/>
<circle cx="214.63" cy="391.82" r="0.45" fill="#b0b8e0" fill-opacity="0.85"/>
<circle cx="210.11" cy="390.27" r="0.45" fill="#b0b8e0" fill-opacity="0.85"/>
<circle cx="220.78" cy="399.52" r="0.45" fill="#b0b8e0" fill-opacity="0.85"/>
<circle cx="213.17" cy="397.75" r="0.45" fill="#b0b8e0" fill-opacity="0.85"/>
<circle cx="207.05" cy="384.86" r="0.45" fill="#b0b8e0" fill-opacity="0.85"/>
<circle cx="211.47" cy="389.1" r="0.45" fill="#b0b8e0" fill-opacity="0.85"/>
<circle cx="211.16" cy="393.35" r="0.45" fill="#b0b8e0" fill-opacity="0.85"/>
<circle cx="225.5" cy="389.96" r="0.45" fill="#b0b8e0" fill-opacity="0.85"/>
<circle cx="213.6" cy="393.71" r="0.45" fill="#b0b8e0" fill-opacity="0.85"/>
<circle cx="213.26" cy="396.32" r="0.45" fill="#b0b8e0" fill-opacity="0.85"/>
<circle cx="220.5" cy="387.63" r="0.45" fill="#b0b8e0" fill-opacity="0.85"/>
<circle cx="214.05" cy="391.54" r="0.45" fill="#b0b8e0" fill-opacity="0.85"/>
<circle cx="214.83" cy="386.47" r="0.45" fill="#b0b8e0" fill-opacity="0.85"/>
<circle cx="206.37" cy="383.33" r="0.45" fill="#b0b8e0" fill-opacity="0.85"/>
<circle cx="215.5" cy="393.37" r="0.45" fill="#b0b8e0" fill-opacity="0.85"/>
<circle cx="213.69" cy="383.13" r="0.45" fill="#b0b8e0" fill-opacity="0.85"/>
<circle cx="211.91" cy="389.58" r="0.45" fill="#b0b8e0" fill-opacity="0.85"/>
<circle cx="207.75" cy="388.94" r="0.45" fill="#b0b8e0" fill-opacity="0.85"/>
<circle cx="216.19" cy="394.78" r="0.45" fill="#b0b8e0" fill-opacity="0.85"/>
<circle cx="213.31" cy="394.66" r="0.45" fill="#b0b8e0" fill-opacity="0.85"/>
<circle cx="210.99" cy="392.88" r="0.45" fill="#b0b8e0" fill-opacity="0.85"/>
<circle cx="213.56" cy="394.82" r="0.45" fill="#b0b8e0" fill-opacity="0.85"/>
<circle cx="213.12" cy="392.03" r="0.45" fill="#b0b8e0" fill-opacity="0.85"/>
<circle cx="212.86" cy="390.02" r="0.45" fill="#b0b8e0" fill-opacity="0.85"/>
<circle cx="222.33" cy="394.66" r="0.45" fill="#b0b8e0" fill-opacity="0.85"/>
<circle cx="215.12" cy="401.77" r="0.45" fill="#b0b8e0" fill-opacity="0.85"/>
<circle cx="219.01" cy="386.37" r="0.45" fill="#b0b8e0" fill-opacity="0.85"/>
<circle cx="216.18" cy="395.95" r="0.45" fill="#b0b8e0" fill-opacity="0.85"/>
<circle cx="220.94" cy="397.86" r="0.45" fill="#b0b8e0" fill-opacity="0.85"/>
<circle cx="216.48" cy="387.89" r="0.45" fill="#b0b8e0" fill-opacity="0.85"/>
<circle cx="209.92" cy="393.68" r="0.45" fill="#b0b8e0" fill-opacity="0.85"/>
<circle cx="215.42" cy="388.51" r="0.45" fill="#b0b8e0" fill-opacity="0.85"/>
<circle cx="211.86" cy="391" r="0.45" fill="#b0b8e0" fill-opacity="0.85"/>
<circle cx="213.64" cy="393.95" r="0.45" fill="#b0b8e0" fill-opacity="0.85"/>
<circle cx="212.25" cy="387.65" r="0.45" fill="#b0b8e0" fill-opacity="0.85"/>
<circle cx="218.37" cy="398.98" r="0.45" fill="#b0b8e0" fill-opacity="0.85"/>
<circle cx="212.98" cy="396.7" r="0.45" fill="#b0b8e0" fill-opacity="0.85"/>
<circle cx="215.18" cy="395.24" r="0.45" fill="#b0b8e0" fill-opacity="0.85"/>
<circle cx="215.33" cy="389.55" r="0.45" fill="#b0b8e0" fill-opacity="0.85"/>
<circle cx="215.7" cy="396.64" r="0.45" fill="#b0b8e0" fill-opacity="0.85"/>
<circle cx="209.81" cy="400.47" r="0.45" fill="#b0b8e0" fill-opacity="0.85"/>
<circle cx="221.76" cy="399.89" r="0.45" fill="#b0b8e0" fill-opacity="0.85"/>
<circle cx="221.36" cy="395.57" r="0.45" fill="#b0b8e0" fill-opacity="0.85"/>
<circle cx="212.05" cy="390.2" r="0.45" fill="#b0b8e0" fill-opacity="0.85"/>
<circle cx="210.15" cy="393.06" r="0.45" fill="#b0b8e0" fill-opacity="0.85"/>
<circle cx="213.27" cy="395.28" r="0.45" fill="#b0b8e0" fill-opacity="0.85"/>
<circle cx="205.32" cy="401.85" r="0.45" fill="#b0b8e0" fill-opacity="0.85"/>
<circle cx="222.51" cy="392.49" r="0.45" fill="#b0b8e0" fill-opacity="0.85"/>
<circle cx="216.1" cy="394.5" r="0.45" fill="#b0b8e0" fill-opacity="0.85"/>
<circle cx="214.49" cy="391.76" r="0.45" fill="#b0b8e0" fill-opacity="0.85"/>
<circle cx="212.91" cy="389.3" r="0.45" fill="#b0b8e0" fill-opacity="0.85"/>
<circle cx="214.11" cy="392.5" r="0.45" fill="#b0b8e0" fill-opacity="0.85"/>
<circle cx="214.68" cy="389.18" r="0.45" fill="#b0b8e0" fill-opacity="0.85"/>
<circle cx="213.56" cy="392.79" r="0.45" fill="#b0b8e0" fill-opacity="0.85"/>
<circle cx="215.82" cy="388.35" r="0.45" fill="#b0b8e0" fill-opacity="0.85"/>
<circle cx="215.08" cy="396.53" r="0.45" fill="#b0b8e0" fill-opacity="0.85"/>
<circle cx="215.79" cy="391.13" r="0.45" fill="#b0b8e0" fill-opacity="0.85"/>
<circle cx="211.43" cy="391.65" r="0.45" fill="#b0b8e0" fill-opacity="0.85"/>
<circle cx="216.32" cy="398.81" r="0.45" fill="#b0b8e0" fill-opacity="0.85"/>
<circle cx="212.77" cy="390.03" r="0.45" fill="#b0b8e0" fill-opacity="0.85"/>
<circle cx="214.9" cy="393.42" r="0.45" fill="#b0b8e0" fill-opacity="0.85"/>
<circle cx="209.77" cy="389.65" r="0.45" fill="#b0b8e0" fill-opacity="0.85"/>
<g transform="translate(230.9,380.6) rotate(0)" filter="url(#bl)"><ellipse cx="0" cy="0" rx="2" ry="5.5" fill="#a0acd8" fill-opacity="0.6"/></g>
<circle cx="231.27" cy="383.96" r="0.5" fill="#7080b8"/>
<circle cx="229.85" cy="375.51" r="0.5" fill="#7080b8"/>
<circle cx="232.05" cy="374.48" r="0.5" fill="#7080b8"/>
<circle cx="231.54" cy="382.36" r="0.5" fill="#7080b8"/>
<circle cx="231.26" cy="375.51" r="0.5" fill="#7080b8"/>
<circle cx="231.32" cy="378.94" r="0.5" fill="#7080b8"/>
<circle cx="231.84" cy="376.41" r="0.5" fill="#7080b8"/>
<circle cx="232.82" cy="372.22" r="0.5" fill="#7080b8"/>
<circle cx="231.17" cy="380.64" r="0.5" fill="#7080b8"/>
<circle cx="232.65" cy="377.56" r="0.5" fill="#7080b8"/>
<circle cx="232.11" cy="377.77" r="0.5" fill="#7080b8"/>
<circle cx="232.36" cy="389.29" r="0.5" fill="#7080b8"/>
<circle cx="230.88" cy="382.81" r="0.5" fill="#7080b8"/>
<circle cx="230.19" cy="385.47" r="0.5" fill="#7080b8"/>
<circle cx="232.97" cy="380.78" r="0.5" fill="#7080b8"/>
<circle cx="229.92" cy="382.61" r="0.5" fill="#7080b8"/>
<circle cx="232.89" cy="386.05" r="0.5" fill="#7080b8"/>
<circle cx="232.46" cy="371.45" r="0.5" fill="#7080b8"/>
<circle cx="230.52" cy="387.71" r="0.5" fill="#7080b8"/>
<circle cx="229.81" cy="386.26" r="0.5" fill="#7080b8"/>
<circle cx="233.85" cy="384.41" r="0.5" fill="#7080b8"/>
<circle cx="232.86" cy="378.94" r="0.5" fill="#7080b8"/>
<circle cx="229.81" cy="380.09" r="0.5" fill="#7080b8"/>
<circle cx="231.14" cy="380.36" r="0.5" fill="#7080b8"/>
<circle cx="232.31" cy="379.88" r="0.5" fill="#7080b8"/>
<circle cx="231.65" cy="382.72" r="0.5" fill="#7080b8"/>
<circle cx="231.39" cy="389.82" r="0.5" fill="#7080b8"/>
<circle cx="231.98" cy="381.02" r="0.5" fill="#7080b8"/>
<circle cx="231.13" cy="377.47" r="0.5" fill="#7080b8"/>
<circle cx="233.15" cy="381.35" r="0.5" fill="#7080b8"/>
<circle cx="230" cy="377.79" r="0.5" fill="#7080b8"/>
<circle cx="231.22" cy="378.37" r="0.5" fill="#7080b8"/>
<circle cx="232.81" cy="374.79" r="0.5" fill="#7080b8"/>
<circle cx="232.04" cy="381.32" r="0.5" fill="#7080b8"/>
<circle cx="229.87" cy="380.84" r="0.5" fill="#7080b8"/>
<circle cx="231.28" cy="383.11" r="0.5" fill="#7080b8"/>
<circle cx="230.81" cy="382.12" r="0.5" fill="#7080b8"/>
<circle cx="229.24" cy="375.18" r="0.5" fill="#7080b8"/>
<circle cx="232.42" cy="385.81" r="0.5" fill="#7080b8"/>
<circle cx="231.38" cy="377.6" r="0.5" fill="#7080b8"/>
<g transform="translate(230.4,395.4) rotate(0)" filter="url(#bl)"><ellipse cx="0" cy="0" rx="2.8" ry="3.4" fill="#7ab0b0" fill-opacity="0.6"/><ellipse cx="0" cy="0" rx="1.68" ry="2.04" fill="#4a9a88" fill-opacity="0.9"/></g>
<g transform="translate(229.9,400.8) rotate(0)" filter="url(#bl)"><ellipse cx="0" cy="0" rx="5" ry="2.4" fill="#6a84d8" fill-opacity="0.75"/><ellipse cx="0" cy="0" rx="3" ry="1.44" fill="#9cb838" fill-opacity="1"/><ellipse cx="0" cy="0" rx="2" ry="0.96" fill="#d8c828" fill-opacity="1"/></g>
<rect x="226.3" y="371" width="11.1" height="20.2" fill="none" stroke="#3c3c3c" stroke-width="0.7" />
<text x="204.7" y="376.6" font-size="6.9" fill="#b8385a" textLength="19.3" lengthAdjust="spacingAndGlyphs" stroke="#b8385a" stroke-width="0.2">12.0%</text>
<line x1="270.9" y1="368.6" x2="318.2" y2="368.6" stroke="#c4c4c4" stroke-width="0.9" />
<line x1="318.2" y1="368.6" x2="318.2" y2="412.4" stroke="#c4c4c4" stroke-width="0.9" />
<line x1="270.9" y1="368.2" x2="270.9" y2="412.8" stroke="#1a1a1a" stroke-width="0.9" />
<line x1="270.5" y1="412.4" x2="318.2" y2="412.4" stroke="#1a1a1a" stroke-width="0.9" />
<line x1="268.9" y1="372.3" x2="270.9" y2="372.3" stroke="#1a1a1a" stroke-width="0.8" />
<text x="256.5" y="373.3" font-size="6.3" textLength="7.2" lengthAdjust="spacingAndGlyphs" stroke="#2a2a2a" stroke-width="0.2">10</text>
<text x="264" y="370.4" font-size="4.5" stroke="#2a2a2a" stroke-width="0.2">5</text>
<line x1="268.9" y1="382.2" x2="270.9" y2="382.2" stroke="#1a1a1a" stroke-width="0.8" />
<text x="256.5" y="383.2" font-size="6.3" textLength="7.2" lengthAdjust="spacingAndGlyphs" stroke="#2a2a2a" stroke-width="0.2">10</text>
<text x="264" y="380.3" font-size="4.5" stroke="#2a2a2a" stroke-width="0.2">4</text>
<line x1="268.9" y1="393.6" x2="270.9" y2="393.6" stroke="#1a1a1a" stroke-width="0.8" />
<text x="256.5" y="394.6" font-size="6.3" textLength="7.2" lengthAdjust="spacingAndGlyphs" stroke="#2a2a2a" stroke-width="0.2">10</text>
<text x="264" y="391.7" font-size="4.5" stroke="#2a2a2a" stroke-width="0.2">3</text>
<line x1="268.9" y1="400.8" x2="270.9" y2="400.8" stroke="#1a1a1a" stroke-width="0.8" />
<text x="266.1" y="401.4" font-size="6.3" text-anchor="end" stroke="#2a2a2a" stroke-width="0.2">0</text>
<line x1="269.7" y1="375.1" x2="270.9" y2="375.1" stroke="#1a1a1a" stroke-width="0.5" />
<line x1="269.7" y1="377.1" x2="270.9" y2="377.1" stroke="#1a1a1a" stroke-width="0.5" />
<line x1="269.7" y1="379.1" x2="270.9" y2="379.1" stroke="#1a1a1a" stroke-width="0.5" />
<line x1="269.7" y1="385.1" x2="270.9" y2="385.1" stroke="#1a1a1a" stroke-width="0.5" />
<line x1="269.7" y1="387.6" x2="270.9" y2="387.6" stroke="#1a1a1a" stroke-width="0.5" />
<line x1="269.7" y1="390.1" x2="270.9" y2="390.1" stroke="#1a1a1a" stroke-width="0.5" />
<line x1="269.7" y1="397.1" x2="270.9" y2="397.1" stroke="#1a1a1a" stroke-width="0.5" />
<line x1="269.7" y1="404.6" x2="270.9" y2="404.6" stroke="#1a1a1a" stroke-width="0.5" />
<line x1="269.7" y1="408.1" x2="270.9" y2="408.1" stroke="#1a1a1a" stroke-width="0.5" />
<line x1="270.3" y1="399.4" x2="270.3" y2="402.2" stroke="#1a1a1a" stroke-width="1.8" />
<line x1="280.9" y1="412.4" x2="280.9" y2="414.4" stroke="#1a1a1a" stroke-width="0.8" />
<line x1="289.1" y1="412.4" x2="289.1" y2="414.4" stroke="#1a1a1a" stroke-width="0.8" />
<line x1="302.5" y1="412.4" x2="302.5" y2="414.4" stroke="#1a1a1a" stroke-width="0.8" />
<line x1="313.9" y1="412.4" x2="313.9" y2="414.4" stroke="#1a1a1a" stroke-width="0.8" />
<line x1="274.9" y1="412.4" x2="274.9" y2="413.6" stroke="#1a1a1a" stroke-width="0.5" />
<line x1="276.9" y1="412.4" x2="276.9" y2="413.6" stroke="#1a1a1a" stroke-width="0.5" />
<line x1="278.9" y1="412.4" x2="278.9" y2="413.6" stroke="#1a1a1a" stroke-width="0.5" />
<line x1="283.9" y1="412.4" x2="283.9" y2="413.6" stroke="#1a1a1a" stroke-width="0.5" />
<line x1="285.9" y1="412.4" x2="285.9" y2="413.6" stroke="#1a1a1a" stroke-width="0.5" />
<line x1="292.9" y1="412.4" x2="292.9" y2="413.6" stroke="#1a1a1a" stroke-width="0.5" />
<line x1="295.9" y1="412.4" x2="295.9" y2="413.6" stroke="#1a1a1a" stroke-width="0.5" />
<line x1="298.9" y1="412.4" x2="298.9" y2="413.6" stroke="#1a1a1a" stroke-width="0.5" />
<line x1="305.9" y1="412.4" x2="305.9" y2="413.6" stroke="#1a1a1a" stroke-width="0.5" />
<line x1="308.9" y1="412.4" x2="308.9" y2="413.6" stroke="#1a1a1a" stroke-width="0.5" />
<line x1="310.9" y1="412.4" x2="310.9" y2="413.6" stroke="#1a1a1a" stroke-width="0.5" />
<ellipse cx="281.7" cy="413.3" rx="1.5" ry="0.9" fill="#1a1a1a"/>
<text x="280.9" y="422.2" font-size="6.3" text-anchor="middle" stroke="#2a2a2a" stroke-width="0.2">0</text>
<text x="285.2" y="422.2" font-size="6.3" textLength="7.1" lengthAdjust="spacingAndGlyphs" stroke="#2a2a2a" stroke-width="0.2">10</text>
<text x="292.5" y="419" font-size="4.5" stroke="#2a2a2a" stroke-width="0.2">3</text>
<text x="298.6" y="422.2" font-size="6.3" textLength="7.1" lengthAdjust="spacingAndGlyphs" stroke="#2a2a2a" stroke-width="0.2">10</text>
<text x="305.9" y="419" font-size="4.5" stroke="#2a2a2a" stroke-width="0.2">4</text>
<text x="310" y="422.2" font-size="6.3" textLength="7.1" lengthAdjust="spacingAndGlyphs" stroke="#2a2a2a" stroke-width="0.2">10</text>
<text x="317.3" y="419" font-size="4.5" stroke="#2a2a2a" stroke-width="0.2">5</text>
<g transform="translate(285.8,385.1) rotate(0)" filter="url(#bl)"><ellipse cx="0" cy="0" rx="4.2" ry="5.2" fill="#a0b8d8" fill-opacity="0.6"/><ellipse cx="0" cy="0" rx="3.15" ry="3.9" fill="#5a90a8" fill-opacity="0.8"/><ellipse cx="0" cy="0" rx="1.89" ry="2.34" fill="#3a7890" fill-opacity="0.9"/></g>
<circle cx="289.15" cy="375.23" r="0.42" fill="#3d7a96"/>
<circle cx="283.5" cy="386.29" r="0.42" fill="#3d7a96"/>
<circle cx="287.86" cy="379.47" r="0.42" fill="#3d7a96"/>
<circle cx="280.24" cy="389.41" r="0.42" fill="#3d7a96"/>
<circle cx="286.36" cy="380.02" r="0.42" fill="#3d7a96"/>
<circle cx="286.06" cy="387.21" r="0.42" fill="#3d7a96"/>
<circle cx="278.12" cy="388.04" r="0.42" fill="#3d7a96"/>
<circle cx="288.12" cy="375.28" r="0.42" fill="#3d7a96"/>
<circle cx="288.21" cy="376.48" r="0.42" fill="#3d7a96"/>
<circle cx="289.32" cy="385.19" r="0.42" fill="#3d7a96"/>
<circle cx="292.66" cy="381.16" r="0.42" fill="#3d7a96"/>
<circle cx="285.91" cy="387.79" r="0.42" fill="#3d7a96"/>
<circle cx="283.98" cy="380.78" r="0.42" fill="#3d7a96"/>
<circle cx="284.78" cy="383.31" r="0.42" fill="#3d7a96"/>
<circle cx="282.65" cy="385.54" r="0.42" fill="#3d7a96"/>
<circle cx="287.53" cy="383.89" r="0.42" fill="#3d7a96"/>
<circle cx="291" cy="382.29" r="0.42" fill="#3d7a96"/>
<circle cx="289.82" cy="381.41" r="0.42" fill="#3d7a96"/>
<circle cx="288.17" cy="375.86" r="0.42" fill="#3d7a96"/>
<circle cx="286.49" cy="382.9" r="0.42" fill="#3d7a96"/>
<circle cx="284.41" cy="381.16" r="0.42" fill="#3d7a96"/>
<circle cx="284.86" cy="380.72" r="0.42" fill="#3d7a96"/>
<circle cx="279.32" cy="381.21" r="0.42" fill="#3d7a96"/>
<circle cx="284.25" cy="381.5" r="0.42" fill="#3d7a96"/>
<circle cx="282.73" cy="383.06" r="0.42" fill="#3d7a96"/>
<circle cx="288.25" cy="382.6" r="0.42" fill="#3d7a96"/>
<circle cx="284.42" cy="389.03" r="0.42" fill="#3d7a96"/>
<circle cx="288.83" cy="387.29" r="0.42" fill="#3d7a96"/>
<circle cx="289.37" cy="382.29" r="0.42" fill="#3d7a96"/>
<circle cx="285.51" cy="388.05" r="0.42" fill="#3d7a96"/>
<circle cx="284.24" cy="383.12" r="0.42" fill="#3d7a96"/>
<circle cx="287.03" cy="385.09" r="0.42" fill="#3d7a96"/>
<circle cx="285.07" cy="387.53" r="0.42" fill="#3d7a96"/>
<circle cx="285.37" cy="386.5" r="0.42" fill="#3d7a96"/>
<circle cx="289.11" cy="386.24" r="0.42" fill="#3d7a96"/>
<circle cx="288.1" cy="378.96" r="0.42" fill="#3d7a96"/>
<circle cx="281.97" cy="381.13" r="0.42" fill="#3d7a96"/>
<circle cx="287.33" cy="389.6" r="0.42" fill="#3d7a96"/>
<circle cx="282.23" cy="384.83" r="0.42" fill="#3d7a96"/>
<circle cx="283.34" cy="380.67" r="0.42" fill="#3d7a96"/>
<circle cx="292.93" cy="389.68" r="0.4" fill="#b0bce4"/>
<circle cx="294.65" cy="391.14" r="0.4" fill="#b0bce4"/>
<circle cx="290.45" cy="390.27" r="0.4" fill="#b0bce4"/>
<circle cx="297.16" cy="387.81" r="0.4" fill="#b0bce4"/>
<circle cx="295.57" cy="385.91" r="0.4" fill="#b0bce4"/>
<circle cx="290.09" cy="386.38" r="0.4" fill="#b0bce4"/>
<circle cx="291.65" cy="396.27" r="0.4" fill="#b0bce4"/>
<circle cx="292.2" cy="392.55" r="0.4" fill="#b0bce4"/>
<circle cx="294.61" cy="388.54" r="0.4" fill="#b0bce4"/>
<circle cx="296.5" cy="385.26" r="0.4" fill="#b0bce4"/>
<circle cx="297.11" cy="388.73" r="0.4" fill="#b0bce4"/>
<circle cx="288.59" cy="389.4" r="0.4" fill="#b0bce4"/>
<circle cx="295.83" cy="388.96" r="0.4" fill="#b0bce4"/>
<circle cx="299.45" cy="386.36" r="0.4" fill="#b0bce4"/>
<circle cx="295.69" cy="389.85" r="0.4" fill="#b0bce4"/>
<circle cx="290.75" cy="391.2" r="0.4" fill="#b0bce4"/>
<circle cx="288.82" cy="383.7" r="0.4" fill="#b0bce4"/>
<circle cx="295.73" cy="384.33" r="0.4" fill="#b0bce4"/>
<circle cx="293.49" cy="382.67" r="0.4" fill="#b0bce4"/>
<circle cx="294.14" cy="384.2" r="0.4" fill="#b0bce4"/>
<circle cx="295.1" cy="383" r="0.4" fill="#b0bce4"/>
<circle cx="295.47" cy="386.8" r="0.4" fill="#b0bce4"/>
<circle cx="294.12" cy="387.4" r="0.4" fill="#b0bce4"/>
<circle cx="294.36" cy="383.64" r="0.4" fill="#b0bce4"/>
<circle cx="284.92" cy="387.7" r="0.4" fill="#b0bce4"/>
<circle cx="290.62" cy="386.24" r="0.4" fill="#b0bce4"/>
<circle cx="295.39" cy="381.64" r="0.4" fill="#b0bce4"/>
<circle cx="291.23" cy="385.77" r="0.4" fill="#b0bce4"/>
<circle cx="290.2" cy="388.58" r="0.4" fill="#b0bce4"/>
<circle cx="293.41" cy="385.14" r="0.4" fill="#b0bce4"/>
<circle cx="290.45" cy="390.02" r="0.4" fill="#b0bce4"/>
<circle cx="291.59" cy="389.36" r="0.4" fill="#b0bce4"/>
<circle cx="295.47" cy="381.92" r="0.4" fill="#b0bce4"/>
<circle cx="290.11" cy="387.61" r="0.4" fill="#b0bce4"/>
<circle cx="295.1" cy="389.94" r="0.4" fill="#b0bce4"/>
<g transform="translate(299.9,402) rotate(0)" filter="url(#bl)"><ellipse cx="0" cy="0" rx="5.6" ry="1.7" fill="#7080c8" fill-opacity="0.65"/><ellipse cx="0" cy="0" rx="3.64" ry="1.1" fill="#8cbc34" fill-opacity="1"/><ellipse cx="0" cy="0" rx="2.24" ry="0.68" fill="#b0c828" fill-opacity="1"/></g>
<rect x="280.4" y="372" width="10.4" height="19.2" fill="none" stroke="#3c3c3c" stroke-width="0.7" />
<rect x="292.8" y="398.5" width="17.9" height="7.7" fill="none" stroke="#3c3c3c" stroke-width="0.7" />
<text x="292.8" y="376.2" font-size="6.9" fill="#b8385a" textLength="18.9" lengthAdjust="spacingAndGlyphs" stroke="#b8385a" stroke-width="0.2">31.9%</text>
<text x="296.2" y="397" font-size="6.9" fill="#b8385a" textLength="19.3" lengthAdjust="spacingAndGlyphs" stroke="#b8385a" stroke-width="0.2">59.6%</text>
<line x1="28.6" y1="429.1" x2="28.6" y2="408.5" stroke="#111" stroke-width="1.15" />
<line x1="28" y1="428.5" x2="50.6" y2="428.5" stroke="#111" stroke-width="1.15" />
<path d="M28.6,405.3 l-1.8,4.3 h3.6 z" fill="#111"/>
<path d="M54.1,428.5 l-4.5,-1.9 v3.8 z" fill="#111"/>
<text font-size="8.6" font-weight="bold" transform="translate(25.7,417.5) rotate(-90) scale(0.6107,1)" x="-8.84" y="0"><tspan font-size="8.6" dy="0">SSC</tspan></text>
<text x="34.8" y="436.3" font-size="8.2" font-weight="bold" textLength="11.2" lengthAdjust="spacingAndGlyphs">CD3</text>
<line x1="107.5" y1="429.1" x2="107.5" y2="408.5" stroke="#111" stroke-width="1.15" />
<line x1="106.9" y1="428.5" x2="132.5" y2="428.5" stroke="#111" stroke-width="1.15" />
<path d="M107.5,405.3 l-1.8,4.3 h3.6 z" fill="#111"/>
<path d="M136,428.5 l-4.5,-1.9 v3.8 z" fill="#111"/>
<text font-size="8.6" font-weight="bold" transform="translate(103.4,414.6) rotate(-90) scale(0.7739,1)" x="-13.05" y="0"><tspan font-size="8.6" dy="0">TCR</tspan><tspan font-size="6.88" dy="0.43">&#945;&#946;</tspan></text>
<text x="116.9" y="436.3" font-size="8.2" font-weight="bold" textLength="11.2" lengthAdjust="spacingAndGlyphs">CD3</text>
<line x1="182.8" y1="429.1" x2="182.8" y2="408.5" stroke="#111" stroke-width="1.15" />
<line x1="182.2" y1="428.5" x2="207.3" y2="428.5" stroke="#111" stroke-width="1.15" />
<path d="M182.8,405.3 l-1.8,4.3 h3.6 z" fill="#111"/>
<path d="M210.8,428.5 l-4.5,-1.9 v3.8 z" fill="#111"/>
<text font-size="8.6" font-weight="bold" transform="translate(179.9,415.9) rotate(-90) scale(0.7167,1)" x="-12.84" y="0"><tspan font-size="8.6" dy="0">TCR</tspan><tspan font-size="6.88" dy="0.43">&#947;&#948;</tspan></text>
<text x="192" y="436.3" font-size="8.2" font-weight="bold" textLength="10.3" lengthAdjust="spacingAndGlyphs">CD3</text>
<line x1="258.6" y1="429.1" x2="258.6" y2="408.5" stroke="#111" stroke-width="1.15" />
<line x1="258" y1="428.5" x2="280.5" y2="428.5" stroke="#111" stroke-width="1.15" />
<path d="M258.6,405.3 l-1.8,4.3 h3.6 z" fill="#111"/>
<path d="M284,428.5 l-4.5,-1.9 v3.8 z" fill="#111"/>
<text font-size="8.6" font-weight="bold" transform="translate(256.2,416.4) rotate(-90) scale(0.6510,1)" x="-8.6" y="0"><tspan font-size="8.6" dy="0">CD8</tspan></text>
<text x="265.2" y="436.3" font-size="8.2" font-weight="bold" textLength="10.7" lengthAdjust="spacingAndGlyphs">CD4</text>
<text x="358.8" y="240.9" font-size="8.6" textLength="53.8" lengthAdjust="spacingAndGlyphs" stroke="#2a2a2a" stroke-width="0.1">Healthy donor</text>
<text x="361.5" y="311.1" font-size="8.6" font-style="italic" textLength="24.2" lengthAdjust="spacingAndGlyphs" stroke="#2a2a2a" stroke-width="0.1">RAG2</text>
<text x="386" y="306.6" font-size="5.2" textLength="6.6" lengthAdjust="spacingAndGlyphs" stroke="#2a2a2a" stroke-width="0.1">&#8722;/&#8722;</text>
<text x="395.4" y="311.1" font-size="8.6" textLength="14.2" lengthAdjust="spacingAndGlyphs" stroke="#2a2a2a" stroke-width="0.1">GT</text>
<g><polygon points="368,255.6 369.75,255.07 371.67,254.64 373.73,254.3 375.84,254.02 377.95,253.79 380,253.6 382.02,253.45 384.05,253.35 386.09,253.31 388.1,253.3 390.08,253.34 392,253.4 393.91,253.49 395.82,253.61 397.7,253.77 399.49,253.97 401.14,254.21 402.6,254.5 403.84,254.82 404.89,255.17 405.81,255.57 406.63,256.03 407.41,256.56 408.2,257.2 408.99,257.92 409.75,258.7 410.47,259.56 411.14,260.52 411.75,261.6 412.3,262.8 412.81,264.18 413.3,265.73 413.74,267.39 414.09,269.11 414.32,270.84 414.4,272.5 414.35,274.15 414.19,275.84 413.91,277.53 413.51,279.18 412.98,280.75 412.3,282.2 411.46,283.53 410.46,284.76 409.32,285.92 408.09,287 406.77,288.03 405.4,289 403.96,289.92 402.43,290.78 400.81,291.58 399.14,292.31 397.43,292.99 395.7,293.6 393.96,294.2 392.2,294.79 390.41,295.33 388.55,295.74 386.62,295.98 384.6,296 382.41,295.76 380.05,295.3 377.62,294.67 375.2,293.91 372.9,293.07 370.8,292.2 368.87,291.26 367.02,290.21 365.29,289.08 363.69,287.9 362.25,286.7 361,285.5 359.95,284.31 359.07,283.09 358.36,281.85 357.79,280.59 357.34,279.31 357,278 356.78,276.67 356.71,275.32 356.76,273.95 356.91,272.56 357.13,271.14 357.4,269.7 357.7,268.18 358.04,266.57 358.45,264.94 358.96,263.36 359.6,261.89 360.4,260.6 361.35,259.49 362.43,258.52 363.64,257.66 364.97,256.89 366.43,256.21" fill="#d8d2dc" stroke="#d8d2dc" stroke-width="0.5"/><circle cx="370.44" cy="276.54" r="2.2" fill="#c5a0de" stroke="#77728a" stroke-width="0.4" stroke-opacity="0.85"/><circle cx="409.55" cy="273.54" r="1.6" fill="#eba2b5" stroke="#77728a" stroke-width="0.4" stroke-opacity="0.85"/><circle cx="391.65" cy="292.11" r="2.6" fill="#a9d6a2" stroke="#77728a" stroke-width="0.4" stroke-opacity="0.85"/><circle cx="371.67" cy="263.31" r="2.6" fill="#edc38c" stroke="#77728a" stroke-width="0.4" stroke-opacity="0.85"/><circle cx="387.92" cy="276.77" r="2.4" fill="#adc5e8" stroke="#77728a" stroke-width="0.4" stroke-opacity="0.85"/><circle cx="393.58" cy="259.73" r="1.8" fill="#edb1c8" stroke="#77728a" stroke-width="0.4" stroke-opacity="0.85"/><circle cx="406.79" cy="275.64" r="1.4" fill="#edb1c8" stroke="#77728a" stroke-width="0.4" stroke-opacity="0.85"/><circle cx="395.44" cy="256.04" r="1.4" fill="#bcd69e" stroke="#77728a" stroke-width="0.4" stroke-opacity="0.85"/><circle cx="383.98" cy="283.99" r="2.4" fill="#edc38c" stroke="#77728a" stroke-width="0.4" stroke-opacity="0.85"/><circle cx="398.72" cy="277.94" r="1.8" fill="#c0a9de" stroke="#77728a" stroke-width="0.4" stroke-opacity="0.85"/><circle cx="385.26" cy="264.32" r="2.4" fill="#c5a0de" stroke="#77728a" stroke-width="0.4" stroke-opacity="0.85"/><circle cx="385.97" cy="269.78" r="2.2" fill="#c5a0de" stroke="#77728a" stroke-width="0.4" stroke-opacity="0.85"/><circle cx="408.87" cy="282.42" r="1.4" fill="#adc5e8" stroke="#77728a" stroke-width="0.4" stroke-opacity="0.85"/><circle cx="397.01" cy="267.24" r="2.9" fill="#c5a0de" stroke="#77728a" stroke-width="0.4" stroke-opacity="0.85"/><circle cx="408.9" cy="277.6" r="1.9" fill="#9ebce6" stroke="#77728a" stroke-width="0.4" stroke-opacity="0.85"/><circle cx="373.15" cy="256.01" r="2.6" fill="#edb1c8" stroke="#77728a" stroke-width="0.4" stroke-opacity="0.85"/><circle cx="401.06" cy="290.57" r="1.4" fill="#bcd69e" stroke="#77728a" stroke-width="0.4" stroke-opacity="0.85"/><circle cx="391.61" cy="285.82" r="2.4" fill="#99cfc6" stroke="#77728a" stroke-width="0.4" stroke-opacity="0.85"/><circle cx="378.45" cy="290.44" r="2.4" fill="#c0a9de" stroke="#77728a" stroke-width="0.4" stroke-opacity="0.85"/><circle cx="393.86" cy="278.74" r="2.9" fill="#c5a0de" stroke="#77728a" stroke-width="0.4" stroke-opacity="0.85"/><circle cx="372.36" cy="280.39" r="1.9" fill="#adc5e8" stroke="#77728a" stroke-width="0.4" stroke-opacity="0.85"/><circle cx="360.18" cy="280.09" r="2.6" fill="#c5a0de" stroke="#77728a" stroke-width="0.4" stroke-opacity="0.85"/><circle cx="371.2" cy="272.79" r="2.2" fill="#c5a0de" stroke="#77728a" stroke-width="0.4" stroke-opacity="0.85"/><circle cx="366.95" cy="261.21" r="2.2" fill="#99cfc6" stroke="#77728a" stroke-width="0.4" stroke-opacity="0.85"/><circle cx="405.39" cy="264.58" r="2.4" fill="#edb1c8" stroke="#77728a" stroke-width="0.4" stroke-opacity="0.85"/><circle cx="382" cy="289.83" r="1.8" fill="#a9d6a2" stroke="#77728a" stroke-width="0.4" stroke-opacity="0.85"/><circle cx="374.89" cy="289.01" r="1.8" fill="#eba2b5" stroke="#77728a" stroke-width="0.4" stroke-opacity="0.85"/><circle cx="406.54" cy="267.83" r="1.6" fill="#edc38c" stroke="#77728a" stroke-width="0.4" stroke-opacity="0.85"/><circle cx="403.22" cy="268.05" r="1.8" fill="#bcd69e" stroke="#77728a" stroke-width="0.4" stroke-opacity="0.85"/><circle cx="381.01" cy="275.44" r="2" fill="#c6de99" stroke="#77728a" stroke-width="0.4" stroke-opacity="0.85"/><circle cx="380.93" cy="270.79" r="2.4" fill="#efaf9d" stroke="#77728a" stroke-width="0.4" stroke-opacity="0.85"/><circle cx="381.77" cy="293.87" r="1.9" fill="#99cfc6" stroke="#77728a" stroke-width="0.4" stroke-opacity="0.85"/><circle cx="358.58" cy="272.8" r="2.9" fill="#99cfc6" stroke="#77728a" stroke-width="0.4" stroke-opacity="0.85"/><circle cx="412.29" cy="276.52" r="1.9" fill="#c5a0de" stroke="#77728a" stroke-width="0.4" stroke-opacity="0.85"/><circle cx="363.63" cy="263.74" r="1.4" fill="#c0a9de" stroke="#77728a" stroke-width="0.4" stroke-opacity="0.85"/><circle cx="369.45" cy="258.52" r="1.6" fill="#99cfc6" stroke="#77728a" stroke-width="0.4" stroke-opacity="0.85"/><circle cx="366.59" cy="287.11" r="1.8" fill="#edb1c8" stroke="#77728a" stroke-width="0.4" stroke-opacity="0.85"/><circle cx="406.15" cy="286.4" r="1.4" fill="#efaf9d" stroke="#77728a" stroke-width="0.4" stroke-opacity="0.85"/><circle cx="384.98" cy="260.01" r="1.6" fill="#e2a5cc" stroke="#77728a" stroke-width="0.4" stroke-opacity="0.85"/><circle cx="376.98" cy="280.92" r="2" fill="#adc5e8" stroke="#77728a" stroke-width="0.4" stroke-opacity="0.85"/><circle cx="377.53" cy="261.46" r="2.2" fill="#e6d78f" stroke="#77728a" stroke-width="0.4" stroke-opacity="0.85"/><circle cx="381.44" cy="258.75" r="1.4" fill="#bcd69e" stroke="#77728a" stroke-width="0.4" stroke-opacity="0.85"/><circle cx="389.41" cy="255.14" r="2.6" fill="#adc5e8" stroke="#77728a" stroke-width="0.4" stroke-opacity="0.85"/><circle cx="410.74" cy="269.28" r="2.9" fill="#9ebce6" stroke="#77728a" stroke-width="0.4" stroke-opacity="0.85"/><circle cx="402.43" cy="281.81" r="2.2" fill="#edc38c" stroke="#77728a" stroke-width="0.4" stroke-opacity="0.85"/><circle cx="397.97" cy="257.86" r="1.6" fill="#ababe8" stroke="#77728a" stroke-width="0.4" stroke-opacity="0.85"/><circle cx="406.87" cy="261.01" r="1.6" fill="#efaf9d" stroke="#77728a" stroke-width="0.4" stroke-opacity="0.85"/><circle cx="396.56" cy="285.59" r="2.9" fill="#efaf9d" stroke="#77728a" stroke-width="0.4" stroke-opacity="0.85"/><circle cx="390.49" cy="266.75" r="1.9" fill="#c5a0de" stroke="#77728a" stroke-width="0.4" stroke-opacity="0.85"/><circle cx="395.44" cy="289.82" r="2" fill="#edc38c" stroke="#77728a" stroke-width="0.4" stroke-opacity="0.85"/><circle cx="401.37" cy="259.44" r="2.6" fill="#e2a5cc" stroke="#77728a" stroke-width="0.4" stroke-opacity="0.85"/><circle cx="406.13" cy="270.39" r="1.4" fill="#ebe2a2" stroke="#77728a" stroke-width="0.4" stroke-opacity="0.85"/><circle cx="367.51" cy="283.39" r="1.4" fill="#c5a0de" stroke="#77728a" stroke-width="0.4" stroke-opacity="0.85"/><circle cx="408.62" cy="264.19" r="1.4" fill="#edb1c8" stroke="#77728a" stroke-width="0.4" stroke-opacity="0.85"/><circle cx="374.79" cy="271.38" r="1.6" fill="#9ebce6" stroke="#77728a" stroke-width="0.4" stroke-opacity="0.85"/><circle cx="378.61" cy="256.63" r="2.6" fill="#ababe8" stroke="#77728a" stroke-width="0.4" stroke-opacity="0.85"/><circle cx="395.18" cy="275.02" r="1.4" fill="#e2a5cc" stroke="#77728a" stroke-width="0.4" stroke-opacity="0.85"/><circle cx="377.14" cy="267.52" r="2.4" fill="#e2a5cc" stroke="#77728a" stroke-width="0.4" stroke-opacity="0.85"/><circle cx="365.46" cy="278.5" r="1.6" fill="#bcd69e" stroke="#77728a" stroke-width="0.4" stroke-opacity="0.85"/><circle cx="402.76" cy="276.56" r="1.8" fill="#c0a9de" stroke="#77728a" stroke-width="0.4" stroke-opacity="0.85"/><circle cx="389.5" cy="261.93" r="2" fill="#ababe8" stroke="#77728a" stroke-width="0.4" stroke-opacity="0.85"/><circle cx="362.91" cy="285.58" r="1.9" fill="#c0a9de" stroke="#77728a" stroke-width="0.4" stroke-opacity="0.85"/><circle cx="366.56" cy="270.54" r="1.8" fill="#eba2b5" stroke="#77728a" stroke-width="0.4" stroke-opacity="0.85"/><circle cx="382.25" cy="261.19" r="1.4" fill="#adc5e8" stroke="#77728a" stroke-width="0.4" stroke-opacity="0.85"/><circle cx="383.68" cy="279.88" r="1.4" fill="#edb1c8" stroke="#77728a" stroke-width="0.4" stroke-opacity="0.85"/><circle cx="406.26" cy="257.63" r="2" fill="#adc5e8" stroke="#77728a" stroke-width="0.4" stroke-opacity="0.85"/><circle cx="379.95" cy="281.53" r="1.6" fill="#e6d78f" stroke="#77728a" stroke-width="0.4" stroke-opacity="0.85"/><circle cx="369.07" cy="268.27" r="1.4" fill="#c5a0de" stroke="#77728a" stroke-width="0.4" stroke-opacity="0.85"/><circle cx="404.91" cy="279.07" r="1.6" fill="#ebe2a2" stroke="#77728a" stroke-width="0.4" stroke-opacity="0.85"/><circle cx="380.84" cy="264.42" r="1.4" fill="#edb1c8" stroke="#77728a" stroke-width="0.4" stroke-opacity="0.85"/><circle cx="386.06" cy="288.78" r="2.9" fill="#c6de99" stroke="#77728a" stroke-width="0.4" stroke-opacity="0.85"/><circle cx="401.37" cy="272.27" r="2" fill="#adc5e8" stroke="#77728a" stroke-width="0.4" stroke-opacity="0.85"/><circle cx="374.95" cy="264.87" r="1.4" fill="#9ebce6" stroke="#77728a" stroke-width="0.4" stroke-opacity="0.85"/><circle cx="385.28" cy="294.16" r="1.6" fill="#edc38c" stroke="#77728a" stroke-width="0.4" stroke-opacity="0.85"/><circle cx="366.79" cy="274.08" r="1.8" fill="#a9d6a2" stroke="#77728a" stroke-width="0.4" stroke-opacity="0.85"/><circle cx="364.03" cy="268.35" r="1.6" fill="#9ebce6" stroke="#77728a" stroke-width="0.4" stroke-opacity="0.85"/><circle cx="391.23" cy="271.43" r="1.8" fill="#bcd69e" stroke="#77728a" stroke-width="0.4" stroke-opacity="0.85"/><circle cx="376.26" cy="284.57" r="2.2" fill="#edc38c" stroke="#77728a" stroke-width="0.4" stroke-opacity="0.85"/><circle cx="362.92" cy="275.85" r="2" fill="#adc5e8" stroke="#77728a" stroke-width="0.4" stroke-opacity="0.85"/><circle cx="371.98" cy="286.62" r="1.9" fill="#c5a0de" stroke="#77728a" stroke-width="0.4" stroke-opacity="0.85"/><circle cx="371.9" cy="283.23" r="1.4" fill="#a9d6a2" stroke="#77728a" stroke-width="0.4" stroke-opacity="0.85"/><circle cx="395.16" cy="263.71" r="1.6" fill="#ababe8" stroke="#77728a" stroke-width="0.4" stroke-opacity="0.85"/><circle cx="401.63" cy="287.54" r="2" fill="#99cfc6" stroke="#77728a" stroke-width="0.4" stroke-opacity="0.85"/><circle cx="392.81" cy="257.09" r="1.4" fill="#adc5e8" stroke="#77728a" stroke-width="0.4" stroke-opacity="0.85"/><circle cx="371.43" cy="291.03" r="2.2" fill="#c5a0de" stroke="#77728a" stroke-width="0.4" stroke-opacity="0.85"/><circle cx="409.5" cy="261.6" r="1.6" fill="#e6d78f" stroke="#77728a" stroke-width="0.4" stroke-opacity="0.85"/><circle cx="406.32" cy="283.28" r="1.4" fill="#edb1c8" stroke="#77728a" stroke-width="0.4" stroke-opacity="0.85"/><circle cx="360.81" cy="264.11" r="1.6" fill="#eba2b5" stroke="#77728a" stroke-width="0.4" stroke-opacity="0.85"/><circle cx="384.96" cy="275.04" r="1.6" fill="#edb1c8" stroke="#77728a" stroke-width="0.4" stroke-opacity="0.85"/><circle cx="362.77" cy="260.89" r="1.8" fill="#c6de99" stroke="#77728a" stroke-width="0.4" stroke-opacity="0.85"/><circle cx="368.05" cy="280.42" r="2.2" fill="#bcd69e" stroke="#77728a" stroke-width="0.4" stroke-opacity="0.85"/><circle cx="388.77" cy="282.16" r="2.6" fill="#e6d78f" stroke="#77728a" stroke-width="0.4" stroke-opacity="0.85"/><circle cx="410.37" cy="280.28" r="1.6" fill="#edb1c8" stroke="#77728a" stroke-width="0.4" stroke-opacity="0.85"/><circle cx="397.04" cy="292.19" r="1.4" fill="#e6d78f" stroke="#77728a" stroke-width="0.4" stroke-opacity="0.85"/><circle cx="399.9" cy="264.37" r="1.6" fill="#efaf9d" stroke="#77728a" stroke-width="0.4" stroke-opacity="0.85"/><circle cx="360.83" cy="266.97" r="1.6" fill="#eba2b5" stroke="#77728a" stroke-width="0.4" stroke-opacity="0.85"/><circle cx="381.75" cy="254.35" r="1.4" fill="#c0a9de" stroke="#77728a" stroke-width="0.4" stroke-opacity="0.85"/><circle cx="397.29" cy="261.12" r="1.4" fill="#c6de99" stroke="#77728a" stroke-width="0.4" stroke-opacity="0.85"/><circle cx="393.06" cy="268.63" r="1.6" fill="#ebe2a2" stroke="#77728a" stroke-width="0.4" stroke-opacity="0.85"/><circle cx="364.96" cy="258.51" r="1.6" fill="#e6d78f" stroke="#77728a" stroke-width="0.4" stroke-opacity="0.85"/><circle cx="384.87" cy="256.44" r="2.4" fill="#c6de99" stroke="#77728a" stroke-width="0.4" stroke-opacity="0.85"/><circle cx="373.92" cy="276.78" r="1.8" fill="#adc5e8" stroke="#77728a" stroke-width="0.4" stroke-opacity="0.85"/><circle cx="357.89" cy="276.67" r="1.6" fill="#ababe8" stroke="#77728a" stroke-width="0.4" stroke-opacity="0.85"/><circle cx="412.94" cy="273.48" r="1.8" fill="#9ebce6" stroke="#77728a" stroke-width="0.4" stroke-opacity="0.85"/><circle cx="377.23" cy="275.75" r="1.4" fill="#bcd69e" stroke="#77728a" stroke-width="0.4" stroke-opacity="0.85"/><circle cx="395.49" cy="272.81" r="1.4" fill="#e2a5cc" stroke="#77728a" stroke-width="0.4" stroke-opacity="0.85"/><circle cx="403.45" cy="284.86" r="1.4" fill="#a9d6a2" stroke="#77728a" stroke-width="0.4" stroke-opacity="0.85"/><circle cx="397.68" cy="271.23" r="1.6" fill="#adc5e8" stroke="#77728a" stroke-width="0.4" stroke-opacity="0.85"/><circle cx="396.5" cy="281.76" r="1.4" fill="#e6d78f" stroke="#77728a" stroke-width="0.4" stroke-opacity="0.85"/><circle cx="377.55" cy="272.1" r="1.4" fill="#c0a9de" stroke="#77728a" stroke-width="0.4" stroke-opacity="0.85"/><circle cx="402.21" cy="255.74" r="1.4" fill="#ebe2a2" stroke="#77728a" stroke-width="0.4" stroke-opacity="0.85"/><circle cx="364.38" cy="280.69" r="1.4" fill="#a9d6a2" stroke="#77728a" stroke-width="0.4" stroke-opacity="0.85"/><circle cx="363.02" cy="272.29" r="1.9" fill="#bcd69e" stroke="#77728a" stroke-width="0.4" stroke-opacity="0.85"/><circle cx="397.4" cy="275.13" r="1.4" fill="#e2a5cc" stroke="#77728a" stroke-width="0.4" stroke-opacity="0.85"/><circle cx="392.11" cy="275.07" r="1.6" fill="#e6d78f" stroke="#77728a" stroke-width="0.4" stroke-opacity="0.85"/><circle cx="377.49" cy="278.16" r="1.4" fill="#ababe8" stroke="#77728a" stroke-width="0.4" stroke-opacity="0.85"/><circle cx="371.98" cy="268.61" r="1.9" fill="#99cfc6" stroke="#77728a" stroke-width="0.4" stroke-opacity="0.85"/><circle cx="379.62" cy="286.59" r="1.6" fill="#99cfc6" stroke="#77728a" stroke-width="0.4" stroke-opacity="0.85"/><circle cx="367.6" cy="265.35" r="1.8" fill="#9ebce6" stroke="#77728a" stroke-width="0.4" stroke-opacity="0.85"/><circle cx="386.07" cy="279.72" r="1.4" fill="#99cfc6" stroke="#77728a" stroke-width="0.4" stroke-opacity="0.85"/><circle cx="382.35" cy="267.17" r="1.6" fill="#edb1c8" stroke="#77728a" stroke-width="0.4" stroke-opacity="0.85"/><circle cx="404.32" cy="272.49" r="1.4" fill="#efaf9d" stroke="#77728a" stroke-width="0.4" stroke-opacity="0.85"/><circle cx="388.74" cy="273.17" r="1.8" fill="#eba2b5" stroke="#77728a" stroke-width="0.4" stroke-opacity="0.85"/><circle cx="373.63" cy="259.48" r="1.4" fill="#edb1c8" stroke="#77728a" stroke-width="0.4" stroke-opacity="0.85"/><circle cx="409.02" cy="284.72" r="1.4" fill="#edc38c" stroke="#77728a" stroke-width="0.4" stroke-opacity="0.85"/><circle cx="406.48" cy="273.28" r="1.4" fill="#c6de99" stroke="#77728a" stroke-width="0.4" stroke-opacity="0.85"/><circle cx="375.26" cy="292.04" r="1.4" fill="#c5a0de" stroke="#77728a" stroke-width="0.4" stroke-opacity="0.85"/><circle cx="387.5" cy="292.63" r="1.4" fill="#c0a9de" stroke="#77728a" stroke-width="0.4" stroke-opacity="0.85"/><circle cx="360.63" cy="269.72" r="1.4" fill="#a9d6a2" stroke="#77728a" stroke-width="0.4" stroke-opacity="0.85"/><circle cx="412.09" cy="265.21" r="1.4" fill="#bcd69e" stroke="#77728a" stroke-width="0.4" stroke-opacity="0.85"/><circle cx="358.56" cy="268.3" r="1.4" fill="#adc5e8" stroke="#77728a" stroke-width="0.4" stroke-opacity="0.85"/><circle cx="407.46" cy="280.45" r="1.6" fill="#efaf9d" stroke="#77728a" stroke-width="0.4" stroke-opacity="0.85"/><circle cx="398.38" cy="289.9" r="1.4" fill="#c0a9de" stroke="#77728a" stroke-width="0.4" stroke-opacity="0.85"/><circle cx="369.5" cy="288.18" r="1.6" fill="#c0a9de" stroke="#77728a" stroke-width="0.4" stroke-opacity="0.85"/><circle cx="383.71" cy="272.73" r="1.4" fill="#e2a5cc" stroke="#77728a" stroke-width="0.4" stroke-opacity="0.85"/><circle cx="397.86" cy="255.17" r="1.6" fill="#c0a9de" stroke="#77728a" stroke-width="0.4" stroke-opacity="0.85"/><circle cx="374.95" cy="274.06" r="1.4" fill="#9ebce6" stroke="#77728a" stroke-width="0.4" stroke-opacity="0.85"/><circle cx="364.22" cy="283.11" r="1.4" fill="#ababe8" stroke="#77728a" stroke-width="0.4" stroke-opacity="0.85"/><circle cx="392.46" cy="264.37" r="1.4" fill="#e2a5cc" stroke="#77728a" stroke-width="0.4" stroke-opacity="0.85"/><circle cx="380.78" cy="278.63" r="1.6" fill="#e2a5cc" stroke="#77728a" stroke-width="0.4" stroke-opacity="0.85"/><circle cx="378.38" cy="293.89" r="1.4" fill="#a9d6a2" stroke="#77728a" stroke-width="0.4" stroke-opacity="0.85"/><circle cx="399.11" cy="280.95" r="1.8" fill="#c5a0de" stroke="#77728a" stroke-width="0.4" stroke-opacity="0.85"/><circle cx="392.62" cy="282.65" r="1.4" fill="#e2a5cc" stroke="#77728a" stroke-width="0.4" stroke-opacity="0.85"/><circle cx="408.96" cy="259.16" r="1.4" fill="#ababe8" stroke="#77728a" stroke-width="0.4" stroke-opacity="0.85"/><circle cx="387.44" cy="267.15" r="1.4" fill="#9ebce6" stroke="#77728a" stroke-width="0.4" stroke-opacity="0.85"/><circle cx="390.9" cy="258.78" r="1.6" fill="#bcd69e" stroke="#77728a" stroke-width="0.4" stroke-opacity="0.85"/><circle cx="400.23" cy="284.96" r="1.4" fill="#99cfc6" stroke="#77728a" stroke-width="0.4" stroke-opacity="0.85"/><circle cx="384.1" cy="277.66" r="1.4" fill="#bcd69e" stroke="#77728a" stroke-width="0.4" stroke-opacity="0.85"/><circle cx="400.29" cy="275.69" r="1.4" fill="#bcd69e" stroke="#77728a" stroke-width="0.4" stroke-opacity="0.85"/><circle cx="399.81" cy="269.76" r="1.4" fill="#c6de99" stroke="#77728a" stroke-width="0.4" stroke-opacity="0.85"/><circle cx="388.9" cy="269.1" r="1.4" fill="#ebe2a2" stroke="#77728a" stroke-width="0.4" stroke-opacity="0.85"/><circle cx="360.63" cy="283.76" r="1.4" fill="#e2a5cc" stroke="#77728a" stroke-width="0.4" stroke-opacity="0.85"/><circle cx="367.14" cy="257.36" r="1.4" fill="#e2a5cc" stroke="#77728a" stroke-width="0.4" stroke-opacity="0.85"/><circle cx="387.55" cy="258.73" r="1.4" fill="#99cfc6" stroke="#77728a" stroke-width="0.4" stroke-opacity="0.85"/><circle cx="369.67" cy="284.59" r="1.6" fill="#adc5e8" stroke="#77728a" stroke-width="0.4" stroke-opacity="0.85"/><circle cx="393.61" cy="254.44" r="1.4" fill="#c6de99" stroke="#77728a" stroke-width="0.4" stroke-opacity="0.85"/><circle cx="383.78" cy="291.97" r="1.4" fill="#efaf9d" stroke="#77728a" stroke-width="0.4" stroke-opacity="0.85"/><circle cx="386.03" cy="272.78" r="1.4" fill="#a9d6a2" stroke="#77728a" stroke-width="0.4" stroke-opacity="0.85"/><circle cx="379.93" cy="284.18" r="1.4" fill="#eba2b5" stroke="#77728a" stroke-width="0.4" stroke-opacity="0.85"/><circle cx="401.84" cy="262.81" r="1.4" fill="#c0a9de" stroke="#77728a" stroke-width="0.4" stroke-opacity="0.85"/><circle cx="382.36" cy="287.17" r="1.4" fill="#e6d78f" stroke="#77728a" stroke-width="0.4" stroke-opacity="0.85"/><circle cx="393.86" cy="270.91" r="1.4" fill="#edc38c" stroke="#77728a" stroke-width="0.4" stroke-opacity="0.85"/><circle cx="397.64" cy="263.53" r="1.4" fill="#e6d78f" stroke="#77728a" stroke-width="0.4" stroke-opacity="0.85"/><circle cx="393.89" cy="254.63" r="0.45" fill="#fbfbfb" fill-opacity="0.85"/><circle cx="397.06" cy="265.6" r="0.45" fill="#fbfbfb" fill-opacity="0.85"/><circle cx="374.12" cy="291.59" r="0.45" fill="#fbfbfb" fill-opacity="0.85"/><circle cx="389.21" cy="293.55" r="0.45" fill="#fbfbfb" fill-opacity="0.85"/><circle cx="397.4" cy="265.96" r="0.45" fill="#fbfbfb" fill-opacity="0.85"/><circle cx="408.93" cy="283.2" r="0.45" fill="#fbfbfb" fill-opacity="0.85"/><circle cx="359.51" cy="274.04" r="0.45" fill="#fbfbfb" fill-opacity="0.85"/><circle cx="392.51" cy="274.71" r="0.45" fill="#fbfbfb" fill-opacity="0.85"/><circle cx="404.62" cy="259.09" r="0.45" fill="#fbfbfb" fill-opacity="0.85"/><circle cx="397.1" cy="260.42" r="0.45" fill="#fbfbfb" fill-opacity="0.85"/><circle cx="395.43" cy="269.57" r="0.45" fill="#fbfbfb" fill-opacity="0.85"/><circle cx="391" cy="271.41" r="0.45" fill="#fbfbfb" fill-opacity="0.85"/><circle cx="389.28" cy="293.28" r="0.45" fill="#fbfbfb" fill-opacity="0.85"/><circle cx="372.22" cy="270.17" r="0.45" fill="#fbfbfb" fill-opacity="0.85"/><circle cx="389.59" cy="287.99" r="0.45" fill="#fbfbfb" fill-opacity="0.85"/><circle cx="392.38" cy="290.58" r="0.45" fill="#fbfbfb" fill-opacity="0.85"/><circle cx="361.49" cy="277.35" r="0.45" fill="#fbfbfb" fill-opacity="0.85"/><circle cx="398.15" cy="273.63" r="0.45" fill="#fbfbfb" fill-opacity="0.85"/><circle cx="385.4" cy="262.9" r="0.45" fill="#fbfbfb" fill-opacity="0.85"/><circle cx="367.68" cy="283.73" r="0.45" fill="#fbfbfb" fill-opacity="0.85"/><circle cx="379.51" cy="291.69" r="0.45" fill="#fbfbfb" fill-opacity="0.85"/><circle cx="364.22" cy="278.28" r="0.45" fill="#fbfbfb" fill-opacity="0.85"/><circle cx="359.69" cy="265.19" r="0.45" fill="#fbfbfb" fill-opacity="0.85"/><circle cx="396.17" cy="271.75" r="0.45" fill="#fbfbfb" fill-opacity="0.85"/><circle cx="405.62" cy="260.44" r="0.45" fill="#fbfbfb" fill-opacity="0.85"/><circle cx="405.65" cy="266.9" r="0.45" fill="#fbfbfb" fill-opacity="0.85"/><circle cx="383.52" cy="257.39" r="0.45" fill="#fbfbfb" fill-opacity="0.85"/><circle cx="389.63" cy="265.51" r="0.45" fill="#fbfbfb" fill-opacity="0.85"/><circle cx="393.42" cy="256.66" r="0.45" fill="#fbfbfb" fill-opacity="0.85"/><circle cx="368.44" cy="261.54" r="0.45" fill="#fbfbfb" fill-opacity="0.85"/><circle cx="381.72" cy="268.15" r="0.45" fill="#fbfbfb" fill-opacity="0.85"/><circle cx="371.11" cy="279.61" r="0.45" fill="#fbfbfb" fill-opacity="0.85"/><circle cx="367.38" cy="271.3" r="0.45" fill="#fbfbfb" fill-opacity="0.85"/><circle cx="394.09" cy="289.84" r="0.45" fill="#fbfbfb" fill-opacity="0.85"/><circle cx="390.94" cy="287.27" r="0.45" fill="#fbfbfb" fill-opacity="0.85"/><circle cx="379.92" cy="266.87" r="0.45" fill="#fbfbfb" fill-opacity="0.85"/><circle cx="389.17" cy="258.81" r="0.45" fill="#fbfbfb" fill-opacity="0.85"/><circle cx="385.44" cy="268.69" r="0.45" fill="#fbfbfb" fill-opacity="0.85"/><circle cx="362.27" cy="277.96" r="0.45" fill="#fbfbfb" fill-opacity="0.85"/><circle cx="361.9" cy="275.7" r="0.45" fill="#fbfbfb" fill-opacity="0.85"/><circle cx="384.55" cy="266.95" r="0.45" fill="#fbfbfb" fill-opacity="0.85"/><circle cx="390.33" cy="290.5" r="0.45" fill="#fbfbfb" fill-opacity="0.85"/><circle cx="386.89" cy="265.76" r="0.45" fill="#fbfbfb" fill-opacity="0.85"/><circle cx="385.51" cy="270.66" r="0.45" fill="#fbfbfb" fill-opacity="0.85"/></g>
<circle cx="380.3" cy="249.6" r="3.7" fill="#c2dc9c" stroke="#8aa070" stroke-width="0.4" />
<circle cx="389.8" cy="251.8" r="2.2" fill="#e4b4aa" stroke="#a08080" stroke-width="0.3" />
<g><polygon points="373.5,317.6 374.87,317.27 376.42,316.99 378.08,316.74 379.8,316.54 381.53,316.39 383.2,316.3 384.85,316.26 386.52,316.25 388.19,316.3 389.85,316.41 391.46,316.61 393,316.9 394.47,317.3 395.9,317.8 397.27,318.39 398.61,319.03 399.92,319.71 401.2,320.4 402.46,321.12 403.7,321.87 404.91,322.67 406.07,323.49 407.17,324.34 408.2,325.2 409.17,326.07 410.09,326.96 410.95,327.87 411.73,328.81 412.42,329.78 413,330.8 413.46,331.86 413.82,332.95 414.09,334.08 414.27,335.25 414.37,336.45 414.4,337.7 414.37,339.03 414.27,340.46 414.09,341.93 413.82,343.38 413.46,344.76 413,346 412.41,347.09 411.68,348.07 410.86,348.98 409.99,349.84 409.09,350.7 408.2,351.6 407.33,352.54 406.44,353.49 405.53,354.44 404.59,355.37 403.62,356.27 402.6,357.1 401.54,357.89 400.45,358.64 399.32,359.36 398.15,360.03 396.95,360.65 395.7,361.2 394.41,361.7 393.09,362.15 391.72,362.55 390.32,362.88 388.88,363.14 387.4,363.3 385.83,363.38 384.17,363.4 382.46,363.34 380.78,363.19 379.17,362.95 377.7,362.6 376.39,362.13 375.19,361.54 374.07,360.86 373,360.1 371.92,359.31 370.8,358.5 369.63,357.65 368.45,356.74 367.27,355.79 366.1,354.81 364.97,353.84 363.9,352.9 362.85,352.01 361.81,351.16 360.8,350.32 359.86,349.44 359.02,348.48 358.3,347.4 357.7,346.18 357.19,344.84 356.77,343.43 356.46,341.97 356.27,340.52 356.2,339.1 356.28,337.69 356.51,336.23 356.86,334.78 357.29,333.37 357.78,332.03 358.3,330.8 358.86,329.7 359.5,328.7 360.19,327.78 360.93,326.91 361.7,326.06 362.5,325.2 363.34,324.33 364.24,323.47 365.17,322.62 366.12,321.82 367.07,321.07 368,320.4 368.87,319.8 369.68,319.26 370.49,318.78 371.36,318.35 372.34,317.96" fill="#d8d2dc" stroke="#d8d2dc" stroke-width="0.5"/><circle cx="392.45" cy="351.23" r="2.9" fill="#a4d7c2" stroke="#77728a" stroke-width="0.4" stroke-opacity="0.85"/><circle cx="357.89" cy="338.21" r="1.9" fill="#eed796" stroke="#77728a" stroke-width="0.4" stroke-opacity="0.85"/><circle cx="393.97" cy="358.73" r="1.6" fill="#f1c1a4" stroke="#77728a" stroke-width="0.4" stroke-opacity="0.85"/><circle cx="377.84" cy="357.2" r="2.4" fill="#bab6ee" stroke="#77728a" stroke-width="0.4" stroke-opacity="0.85"/><circle cx="387.85" cy="343.31" r="1.4" fill="#eed796" stroke="#77728a" stroke-width="0.4" stroke-opacity="0.85"/><circle cx="398.75" cy="335.5" r="1.8" fill="#bab6ee" stroke="#77728a" stroke-width="0.4" stroke-opacity="0.85"/><circle cx="368.39" cy="326.41" r="1.8" fill="#a4d7c2" stroke="#77728a" stroke-width="0.4" stroke-opacity="0.85"/><circle cx="406.97" cy="329.89" r="1.9" fill="#d0abe7" stroke="#77728a" stroke-width="0.4" stroke-opacity="0.85"/><circle cx="387.58" cy="348.21" r="1.9" fill="#b3bdee" stroke="#77728a" stroke-width="0.4" stroke-opacity="0.85"/><circle cx="371.55" cy="331.9" r="1.4" fill="#e6e696" stroke="#77728a" stroke-width="0.4" stroke-opacity="0.85"/><circle cx="396.73" cy="324.96" r="2.6" fill="#eeb2c9" stroke="#77728a" stroke-width="0.4" stroke-opacity="0.85"/><circle cx="411.44" cy="333.11" r="2.4" fill="#a4d7c2" stroke="#77728a" stroke-width="0.4" stroke-opacity="0.85"/><circle cx="363.13" cy="327.85" r="2.6" fill="#eeb2c9" stroke="#77728a" stroke-width="0.4" stroke-opacity="0.85"/><circle cx="376.24" cy="332.98" r="2.9" fill="#eed796" stroke="#77728a" stroke-width="0.4" stroke-opacity="0.85"/><circle cx="370.8" cy="338.07" r="2.2" fill="#eeb2c9" stroke="#77728a" stroke-width="0.4" stroke-opacity="0.85"/><circle cx="361.56" cy="348.59" r="2" fill="#c9e29f" stroke="#77728a" stroke-width="0.4" stroke-opacity="0.85"/><circle cx="398.17" cy="330.83" r="2.6" fill="#c1dfa4" stroke="#77728a" stroke-width="0.4" stroke-opacity="0.85"/><circle cx="404.29" cy="337.74" r="2.4" fill="#e6e696" stroke="#77728a" stroke-width="0.4" stroke-opacity="0.85"/><circle cx="402.86" cy="332.01" r="1.9" fill="#bab6ee" stroke="#77728a" stroke-width="0.4" stroke-opacity="0.85"/><circle cx="366.03" cy="333.84" r="1.4" fill="#f1c1a4" stroke="#77728a" stroke-width="0.4" stroke-opacity="0.85"/><circle cx="409.86" cy="345.5" r="1.8" fill="#e6e696" stroke="#77728a" stroke-width="0.4" stroke-opacity="0.85"/><circle cx="372.05" cy="353.12" r="2.9" fill="#d0abe7" stroke="#77728a" stroke-width="0.4" stroke-opacity="0.85"/><circle cx="396.63" cy="347.56" r="2" fill="#bab6ee" stroke="#77728a" stroke-width="0.4" stroke-opacity="0.85"/><circle cx="377.35" cy="349.47" r="2" fill="#d0abe7" stroke="#77728a" stroke-width="0.4" stroke-opacity="0.85"/><circle cx="383.14" cy="354.76" r="2.2" fill="#a4d7c2" stroke="#77728a" stroke-width="0.4" stroke-opacity="0.85"/><circle cx="372.66" cy="319.97" r="2.4" fill="#b3dba4" stroke="#77728a" stroke-width="0.4" stroke-opacity="0.85"/><circle cx="401.29" cy="346.28" r="1.4" fill="#abc8ee" stroke="#77728a" stroke-width="0.4" stroke-opacity="0.85"/><circle cx="367.58" cy="343.9" r="1.8" fill="#c1dfa4" stroke="#77728a" stroke-width="0.4" stroke-opacity="0.85"/><circle cx="368.95" cy="348.59" r="1.4" fill="#bab6ee" stroke="#77728a" stroke-width="0.4" stroke-opacity="0.85"/><circle cx="412.54" cy="339.01" r="2.9" fill="#dfb2df" stroke="#77728a" stroke-width="0.4" stroke-opacity="0.85"/><circle cx="394.76" cy="319.65" r="1.9" fill="#b3dba4" stroke="#77728a" stroke-width="0.4" stroke-opacity="0.85"/><circle cx="406.62" cy="348.73" r="2.9" fill="#c1dfa4" stroke="#77728a" stroke-width="0.4" stroke-opacity="0.85"/><circle cx="377.96" cy="317.95" r="2" fill="#c1dfa4" stroke="#77728a" stroke-width="0.4" stroke-opacity="0.85"/><circle cx="361.72" cy="341.96" r="2.2" fill="#a4d7c2" stroke="#77728a" stroke-width="0.4" stroke-opacity="0.85"/><circle cx="377.7" cy="322.95" r="2.4" fill="#abc8ee" stroke="#77728a" stroke-width="0.4" stroke-opacity="0.85"/><circle cx="389.02" cy="361.38" r="1.8" fill="#eed796" stroke="#77728a" stroke-width="0.4" stroke-opacity="0.85"/><circle cx="391.62" cy="332.81" r="1.4" fill="#e6e696" stroke="#77728a" stroke-width="0.4" stroke-opacity="0.85"/><circle cx="364.39" cy="345.93" r="2.4" fill="#c1dfa4" stroke="#77728a" stroke-width="0.4" stroke-opacity="0.85"/><circle cx="390.88" cy="328.5" r="2" fill="#dfb2df" stroke="#77728a" stroke-width="0.4" stroke-opacity="0.85"/><circle cx="385.08" cy="335.84" r="2.2" fill="#f1c1a4" stroke="#77728a" stroke-width="0.4" stroke-opacity="0.85"/><circle cx="401.71" cy="327.83" r="2" fill="#eeb2c9" stroke="#77728a" stroke-width="0.4" stroke-opacity="0.85"/><circle cx="373.26" cy="344.92" r="2.6" fill="#dfb2df" stroke="#77728a" stroke-width="0.4" stroke-opacity="0.85"/><circle cx="386.36" cy="356.96" r="1.6" fill="#f1c1a4" stroke="#77728a" stroke-width="0.4" stroke-opacity="0.85"/><circle cx="387.25" cy="332.1" r="2" fill="#d0abe7" stroke="#77728a" stroke-width="0.4" stroke-opacity="0.85"/><circle cx="408.52" cy="338.18" r="1.6" fill="#f1c1a4" stroke="#77728a" stroke-width="0.4" stroke-opacity="0.85"/><circle cx="391.97" cy="355.12" r="1.6" fill="#eed796" stroke="#77728a" stroke-width="0.4" stroke-opacity="0.85"/><circle cx="391.74" cy="335.77" r="1.8" fill="#b3dba4" stroke="#77728a" stroke-width="0.4" stroke-opacity="0.85"/><circle cx="362.5" cy="334.13" r="1.6" fill="#dfb2df" stroke="#77728a" stroke-width="0.4" stroke-opacity="0.85"/><circle cx="399.4" cy="357.67" r="1.8" fill="#c9e29f" stroke="#77728a" stroke-width="0.4" stroke-opacity="0.85"/><circle cx="384.69" cy="360.5" r="2.2" fill="#bab6ee" stroke="#77728a" stroke-width="0.4" stroke-opacity="0.85"/><circle cx="386.29" cy="322.56" r="1.9" fill="#bab6ee" stroke="#77728a" stroke-width="0.4" stroke-opacity="0.85"/><circle cx="376.82" cy="327.33" r="2.2" fill="#eedf90" stroke="#77728a" stroke-width="0.4" stroke-opacity="0.85"/><circle cx="390.69" cy="343.28" r="1.8" fill="#d0abe7" stroke="#77728a" stroke-width="0.4" stroke-opacity="0.85"/><circle cx="375.01" cy="338.03" r="1.9" fill="#b3dba4" stroke="#77728a" stroke-width="0.4" stroke-opacity="0.85"/><circle cx="393.7" cy="339.7" r="1.4" fill="#c1dfa4" stroke="#77728a" stroke-width="0.4" stroke-opacity="0.85"/><circle cx="361.11" cy="331.05" r="1.6" fill="#e6e696" stroke="#77728a" stroke-width="0.4" stroke-opacity="0.85"/><circle cx="384.52" cy="343.19" r="2.4" fill="#d0abe7" stroke="#77728a" stroke-width="0.4" stroke-opacity="0.85"/><circle cx="383.65" cy="349.12" r="2.4" fill="#c1dfa4" stroke="#77728a" stroke-width="0.4" stroke-opacity="0.85"/><circle cx="397.15" cy="353.79" r="2.2" fill="#f1c1a4" stroke="#77728a" stroke-width="0.4" stroke-opacity="0.85"/><circle cx="378.31" cy="352.52" r="1.4" fill="#e6e696" stroke="#77728a" stroke-width="0.4" stroke-opacity="0.85"/><circle cx="402.55" cy="351.85" r="2.6" fill="#abc8ee" stroke="#77728a" stroke-width="0.4" stroke-opacity="0.85"/><circle cx="395.94" cy="356.95" r="1.6" fill="#dfb2df" stroke="#77728a" stroke-width="0.4" stroke-opacity="0.85"/><circle cx="368.24" cy="329.75" r="1.4" fill="#e6e696" stroke="#77728a" stroke-width="0.4" stroke-opacity="0.85"/><circle cx="368.35" cy="340.61" r="1.6" fill="#dfb2df" stroke="#77728a" stroke-width="0.4" stroke-opacity="0.85"/><circle cx="381.45" cy="331.62" r="1.6" fill="#abc8ee" stroke="#77728a" stroke-width="0.4" stroke-opacity="0.85"/><circle cx="403.81" cy="322.89" r="1.4" fill="#eeb2c9" stroke="#77728a" stroke-width="0.4" stroke-opacity="0.85"/><circle cx="367.48" cy="354.13" r="1.4" fill="#c9e29f" stroke="#77728a" stroke-width="0.4" stroke-opacity="0.85"/><circle cx="383.66" cy="320.28" r="2" fill="#eedf90" stroke="#77728a" stroke-width="0.4" stroke-opacity="0.85"/><circle cx="401.06" cy="339.83" r="1.4" fill="#abc8ee" stroke="#77728a" stroke-width="0.4" stroke-opacity="0.85"/><circle cx="389.19" cy="318.24" r="1.6" fill="#eed796" stroke="#77728a" stroke-width="0.4" stroke-opacity="0.85"/><circle cx="378.82" cy="345.9" r="1.9" fill="#bab6ee" stroke="#77728a" stroke-width="0.4" stroke-opacity="0.85"/><circle cx="398.06" cy="344.15" r="1.4" fill="#d0abe7" stroke="#77728a" stroke-width="0.4" stroke-opacity="0.85"/><circle cx="405.34" cy="343.71" r="1.4" fill="#abc8ee" stroke="#77728a" stroke-width="0.4" stroke-opacity="0.85"/><circle cx="379.87" cy="338.02" r="1.6" fill="#eeb2c9" stroke="#77728a" stroke-width="0.4" stroke-opacity="0.85"/><circle cx="371.09" cy="324.08" r="2" fill="#c1dfa4" stroke="#77728a" stroke-width="0.4" stroke-opacity="0.85"/><circle cx="382.11" cy="327.28" r="1.9" fill="#b3dba4" stroke="#77728a" stroke-width="0.4" stroke-opacity="0.85"/><circle cx="365.47" cy="339.57" r="1.4" fill="#bab6ee" stroke="#77728a" stroke-width="0.4" stroke-opacity="0.85"/><circle cx="408.1" cy="341.27" r="1.4" fill="#a4d7c2" stroke="#77728a" stroke-width="0.4" stroke-opacity="0.85"/><circle cx="379.09" cy="342.6" r="1.4" fill="#dfb2df" stroke="#77728a" stroke-width="0.4" stroke-opacity="0.85"/><circle cx="390.82" cy="358.19" r="2" fill="#d0abe7" stroke="#77728a" stroke-width="0.4" stroke-opacity="0.85"/><circle cx="386.81" cy="340.45" r="1.6" fill="#bab6ee" stroke="#77728a" stroke-width="0.4" stroke-opacity="0.85"/><circle cx="394.87" cy="343.8" r="2" fill="#abc8ee" stroke="#77728a" stroke-width="0.4" stroke-opacity="0.85"/><circle cx="389.14" cy="353.28" r="1.4" fill="#b3bdee" stroke="#77728a" stroke-width="0.4" stroke-opacity="0.85"/><circle cx="380.26" cy="361.52" r="2.6" fill="#eedf90" stroke="#77728a" stroke-width="0.4" stroke-opacity="0.85"/><circle cx="362.89" cy="338.34" r="1.6" fill="#a4d7c2" stroke="#77728a" stroke-width="0.4" stroke-opacity="0.85"/><circle cx="404.86" cy="326.62" r="1.8" fill="#b3dba4" stroke="#77728a" stroke-width="0.4" stroke-opacity="0.85"/><circle cx="372.93" cy="358.17" r="2.4" fill="#b3bdee" stroke="#77728a" stroke-width="0.4" stroke-opacity="0.85"/><circle cx="400.44" cy="343.37" r="1.6" fill="#bab6ee" stroke="#77728a" stroke-width="0.4" stroke-opacity="0.85"/><circle cx="392.9" cy="322.57" r="1.4" fill="#b3bdee" stroke="#77728a" stroke-width="0.4" stroke-opacity="0.85"/><circle cx="399.24" cy="348.81" r="1.4" fill="#a4d7c2" stroke="#77728a" stroke-width="0.4" stroke-opacity="0.85"/><circle cx="373.13" cy="328.26" r="1.8" fill="#eed796" stroke="#77728a" stroke-width="0.4" stroke-opacity="0.85"/><circle cx="368.47" cy="334.99" r="1.6" fill="#b3bdee" stroke="#77728a" stroke-width="0.4" stroke-opacity="0.85"/><circle cx="387.17" cy="326.58" r="2.2" fill="#c1dfa4" stroke="#77728a" stroke-width="0.4" stroke-opacity="0.85"/><circle cx="365.3" cy="336.44" r="1.9" fill="#b3dba4" stroke="#77728a" stroke-width="0.4" stroke-opacity="0.85"/><circle cx="367.59" cy="323.37" r="1.8" fill="#eedf90" stroke="#77728a" stroke-width="0.4" stroke-opacity="0.85"/><circle cx="398.83" cy="321.28" r="2" fill="#f1c1a4" stroke="#77728a" stroke-width="0.4" stroke-opacity="0.85"/><circle cx="372.51" cy="334.97" r="1.4" fill="#bab6ee" stroke="#77728a" stroke-width="0.4" stroke-opacity="0.85"/><circle cx="358.28" cy="333.47" r="1.6" fill="#dfb2df" stroke="#77728a" stroke-width="0.4" stroke-opacity="0.85"/><circle cx="388.95" cy="334.71" r="1.4" fill="#dfb2df" stroke="#77728a" stroke-width="0.4" stroke-opacity="0.85"/><circle cx="396.87" cy="338.74" r="1.9" fill="#bab6ee" stroke="#77728a" stroke-width="0.4" stroke-opacity="0.85"/><circle cx="367.21" cy="350.67" r="1.6" fill="#bab6ee" stroke="#77728a" stroke-width="0.4" stroke-opacity="0.85"/><circle cx="384.36" cy="330.38" r="1.6" fill="#a4d7c2" stroke="#77728a" stroke-width="0.4" stroke-opacity="0.85"/><circle cx="392.04" cy="346.53" r="2" fill="#f1c1a4" stroke="#77728a" stroke-width="0.4" stroke-opacity="0.85"/><circle cx="402.99" cy="344.88" r="1.4" fill="#b3dba4" stroke="#77728a" stroke-width="0.4" stroke-opacity="0.85"/><circle cx="410.06" cy="328.88" r="1.6" fill="#e6e696" stroke="#77728a" stroke-width="0.4" stroke-opacity="0.85"/><circle cx="390.69" cy="324.17" r="1.4" fill="#eedf90" stroke="#77728a" stroke-width="0.4" stroke-opacity="0.85"/><circle cx="383.05" cy="338.07" r="1.4" fill="#c9e29f" stroke="#77728a" stroke-width="0.4" stroke-opacity="0.85"/><circle cx="391.16" cy="338.4" r="1.4" fill="#e6e696" stroke="#77728a" stroke-width="0.4" stroke-opacity="0.85"/><circle cx="373.2" cy="341.07" r="1.4" fill="#eedf90" stroke="#77728a" stroke-width="0.4" stroke-opacity="0.85"/><circle cx="377.57" cy="336.61" r="1.4" fill="#a4d7c2" stroke="#77728a" stroke-width="0.4" stroke-opacity="0.85"/><circle cx="382.16" cy="334.82" r="1.4" fill="#f1c1a4" stroke="#77728a" stroke-width="0.4" stroke-opacity="0.85"/><circle cx="379.16" cy="330.46" r="1.4" fill="#bab6ee" stroke="#77728a" stroke-width="0.4" stroke-opacity="0.85"/><circle cx="396.52" cy="359.46" r="1.4" fill="#eeb2c9" stroke="#77728a" stroke-width="0.4" stroke-opacity="0.85"/><circle cx="406.12" cy="333.31" r="1.6" fill="#eed796" stroke="#77728a" stroke-width="0.4" stroke-opacity="0.85"/><circle cx="395.45" cy="335.84" r="1.4" fill="#d0abe7" stroke="#77728a" stroke-width="0.4" stroke-opacity="0.85"/><circle cx="394.03" cy="332.1" r="1.6" fill="#f1c1a4" stroke="#77728a" stroke-width="0.4" stroke-opacity="0.85"/><circle cx="386.71" cy="318.53" r="1.4" fill="#a4d7c2" stroke="#77728a" stroke-width="0.4" stroke-opacity="0.85"/><circle cx="380.22" cy="325.3" r="1.4" fill="#eeb2c9" stroke="#77728a" stroke-width="0.4" stroke-opacity="0.85"/><circle cx="380.49" cy="320.81" r="1.6" fill="#f1c1a4" stroke="#77728a" stroke-width="0.4" stroke-opacity="0.85"/><circle cx="400.27" cy="323.86" r="1.4" fill="#eed796" stroke="#77728a" stroke-width="0.4" stroke-opacity="0.85"/><circle cx="358.53" cy="345.78" r="1.6" fill="#eed796" stroke="#77728a" stroke-width="0.4" stroke-opacity="0.85"/><circle cx="392.32" cy="317.87" r="1.6" fill="#c9e29f" stroke="#77728a" stroke-width="0.4" stroke-opacity="0.85"/><circle cx="357.86" cy="342.38" r="2.2" fill="#c9e29f" stroke="#77728a" stroke-width="0.4" stroke-opacity="0.85"/><circle cx="387.12" cy="351.37" r="1.6" fill="#abc8ee" stroke="#77728a" stroke-width="0.4" stroke-opacity="0.85"/><circle cx="403.07" cy="342.15" r="1.4" fill="#eeb2c9" stroke="#77728a" stroke-width="0.4" stroke-opacity="0.85"/><circle cx="391.43" cy="320.36" r="1.6" fill="#d0abe7" stroke="#77728a" stroke-width="0.4" stroke-opacity="0.85"/><circle cx="388.78" cy="338.51" r="1.4" fill="#bab6ee" stroke="#77728a" stroke-width="0.4" stroke-opacity="0.85"/><circle cx="381.99" cy="358.14" r="1.4" fill="#c9e29f" stroke="#77728a" stroke-width="0.4" stroke-opacity="0.85"/><circle cx="374.33" cy="348.94" r="1.4" fill="#bab6ee" stroke="#77728a" stroke-width="0.4" stroke-opacity="0.85"/><circle cx="394.25" cy="328.58" r="1.6" fill="#c9e29f" stroke="#77728a" stroke-width="0.4" stroke-opacity="0.85"/><circle cx="381.19" cy="340.73" r="1.9" fill="#abc8ee" stroke="#77728a" stroke-width="0.4" stroke-opacity="0.85"/><circle cx="397.21" cy="342.04" r="1.4" fill="#eeb2c9" stroke="#77728a" stroke-width="0.4" stroke-opacity="0.85"/><circle cx="376.26" cy="342.32" r="1.6" fill="#c9e29f" stroke="#77728a" stroke-width="0.4" stroke-opacity="0.85"/><circle cx="412.64" cy="344.13" r="1.4" fill="#eedf90" stroke="#77728a" stroke-width="0.4" stroke-opacity="0.85"/><circle cx="383.6" cy="324.47" r="1.8" fill="#abc8ee" stroke="#77728a" stroke-width="0.4" stroke-opacity="0.85"/><circle cx="367.22" cy="331.83" r="1.4" fill="#b3bdee" stroke="#77728a" stroke-width="0.4" stroke-opacity="0.85"/><circle cx="405.87" cy="340.79" r="1.4" fill="#eed796" stroke="#77728a" stroke-width="0.4" stroke-opacity="0.85"/><circle cx="401.62" cy="356.17" r="1.4" fill="#b3bdee" stroke="#77728a" stroke-width="0.4" stroke-opacity="0.85"/><circle cx="387.38" cy="354.64" r="1.4" fill="#eed796" stroke="#77728a" stroke-width="0.4" stroke-opacity="0.85"/><circle cx="407.66" cy="326.69" r="1.4" fill="#bab6ee" stroke="#77728a" stroke-width="0.4" stroke-opacity="0.85"/><circle cx="383.65" cy="332.81" r="1.4" fill="#f1c1a4" stroke="#77728a" stroke-width="0.4" stroke-opacity="0.85"/><circle cx="410" cy="342.39" r="1.4" fill="#b3bdee" stroke="#77728a" stroke-width="0.4" stroke-opacity="0.85"/><circle cx="374.72" cy="324.73" r="1.4" fill="#eed796" stroke="#77728a" stroke-width="0.4" stroke-opacity="0.85"/><circle cx="381.76" cy="345.72" r="1.4" fill="#b3bdee" stroke="#77728a" stroke-width="0.4" stroke-opacity="0.85"/><circle cx="375.85" cy="353.68" r="1.4" fill="#d0abe7" stroke="#77728a" stroke-width="0.4" stroke-opacity="0.85"/><circle cx="364.85" cy="331.14" r="1.4" fill="#b3bdee" stroke="#77728a" stroke-width="0.4" stroke-opacity="0.85"/><circle cx="399.05" cy="340.78" r="1.4" fill="#d0abe7" stroke="#77728a" stroke-width="0.4" stroke-opacity="0.85"/><circle cx="376.22" cy="361.19" r="1.4" fill="#e6e696" stroke="#77728a" stroke-width="0.4" stroke-opacity="0.85"/><circle cx="369.88" cy="356.43" r="1.4" fill="#dfb2df" stroke="#77728a" stroke-width="0.4" stroke-opacity="0.85"/><circle cx="363.98" cy="351.67" r="1.6" fill="#eedf90" stroke="#77728a" stroke-width="0.4" stroke-opacity="0.85"/><circle cx="401.22" cy="334.43" r="1.4" fill="#c1dfa4" stroke="#77728a" stroke-width="0.4" stroke-opacity="0.85"/><circle cx="401.71" cy="348.5" r="1.4" fill="#f1c1a4" stroke="#77728a" stroke-width="0.4" stroke-opacity="0.85"/><circle cx="371.73" cy="348.58" r="1.6" fill="#c1dfa4" stroke="#77728a" stroke-width="0.4" stroke-opacity="0.85"/><circle cx="381.97" cy="317.72" r="1.6" fill="#c1dfa4" stroke="#77728a" stroke-width="0.4" stroke-opacity="0.85"/><circle cx="381.27" cy="343.56" r="1.4" fill="#c9e29f" stroke="#77728a" stroke-width="0.4" stroke-opacity="0.85"/><circle cx="389.23" cy="321.76" r="1.6" fill="#f1c1a4" stroke="#77728a" stroke-width="0.4" stroke-opacity="0.85"/><circle cx="379.89" cy="354.42" r="1.4" fill="#eed796" stroke="#77728a" stroke-width="0.4" stroke-opacity="0.85"/><circle cx="379.66" cy="335.55" r="1.4" fill="#a4d7c2" stroke="#77728a" stroke-width="0.4" stroke-opacity="0.85"/><circle cx="380.28" cy="350.7" r="1.4" fill="#dfb2df" stroke="#77728a" stroke-width="0.4" stroke-opacity="0.85"/><circle cx="377.47" cy="340.2" r="1.4" fill="#e6e696" stroke="#77728a" stroke-width="0.4" stroke-opacity="0.85"/><circle cx="390.01" cy="331.31" r="1.4" fill="#c9e29f" stroke="#77728a" stroke-width="0.4" stroke-opacity="0.85"/><circle cx="370.11" cy="346.67" r="1.4" fill="#eedf90" stroke="#77728a" stroke-width="0.4" stroke-opacity="0.85"/><circle cx="359.91" cy="336.3" r="1.4" fill="#abc8ee" stroke="#77728a" stroke-width="0.4" stroke-opacity="0.85"/><circle cx="408.7" cy="335.72" r="1.4" fill="#a4d7c2" stroke="#77728a" stroke-width="0.4" stroke-opacity="0.85"/><circle cx="365.81" cy="341.85" r="1.4" fill="#eed796" stroke="#77728a" stroke-width="0.4" stroke-opacity="0.85"/><circle cx="398.91" cy="351.09" r="1.4" fill="#a4d7c2" stroke="#77728a" stroke-width="0.4" stroke-opacity="0.85"/><circle cx="410.47" cy="348.1" r="1.4" fill="#e6e696" stroke="#77728a" stroke-width="0.4" stroke-opacity="0.85"/><circle cx="400.57" cy="337.48" r="1.4" fill="#bab6ee" stroke="#77728a" stroke-width="0.4" stroke-opacity="0.85"/><circle cx="364.94" cy="324.76" r="1.4" fill="#a4d7c2" stroke="#77728a" stroke-width="0.4" stroke-opacity="0.85"/><circle cx="389.05" cy="345.39" r="1.4" fill="#c9e29f" stroke="#77728a" stroke-width="0.4" stroke-opacity="0.85"/><circle cx="392.91" cy="361.15" r="1.6" fill="#b3bdee" stroke="#77728a" stroke-width="0.4" stroke-opacity="0.85"/><circle cx="392.7" cy="325.2" r="1.4" fill="#a4d7c2" stroke="#77728a" stroke-width="0.4" stroke-opacity="0.85"/><circle cx="375.35" cy="323.12" r="0.45" fill="#fbfbfb" fill-opacity="0.85"/><circle cx="367.83" cy="347.22" r="0.45" fill="#fbfbfb" fill-opacity="0.85"/><circle cx="387.14" cy="325.2" r="0.45" fill="#fbfbfb" fill-opacity="0.85"/><circle cx="377.88" cy="358.2" r="0.45" fill="#fbfbfb" fill-opacity="0.85"/><circle cx="377.17" cy="359.32" r="0.45" fill="#fbfbfb" fill-opacity="0.85"/><circle cx="385.24" cy="330.66" r="0.45" fill="#fbfbfb" fill-opacity="0.85"/><circle cx="380.11" cy="354.47" r="0.45" fill="#fbfbfb" fill-opacity="0.85"/><circle cx="376.76" cy="344.61" r="0.45" fill="#fbfbfb" fill-opacity="0.85"/><circle cx="406.31" cy="347.6" r="0.45" fill="#fbfbfb" fill-opacity="0.85"/><circle cx="380.16" cy="345.38" r="0.45" fill="#fbfbfb" fill-opacity="0.85"/><circle cx="375.65" cy="356.31" r="0.45" fill="#fbfbfb" fill-opacity="0.85"/><circle cx="393.64" cy="345.97" r="0.45" fill="#fbfbfb" fill-opacity="0.85"/><circle cx="396.5" cy="351.09" r="0.45" fill="#fbfbfb" fill-opacity="0.85"/><circle cx="369.12" cy="322.26" r="0.45" fill="#fbfbfb" fill-opacity="0.85"/><circle cx="382.48" cy="354.8" r="0.45" fill="#fbfbfb" fill-opacity="0.85"/><circle cx="377.17" cy="332.19" r="0.45" fill="#fbfbfb" fill-opacity="0.85"/><circle cx="358.76" cy="337.81" r="0.45" fill="#fbfbfb" fill-opacity="0.85"/><circle cx="408.76" cy="337.35" r="0.45" fill="#fbfbfb" fill-opacity="0.85"/><circle cx="399.14" cy="331.41" r="0.45" fill="#fbfbfb" fill-opacity="0.85"/><circle cx="390.49" cy="336.84" r="0.45" fill="#fbfbfb" fill-opacity="0.85"/><circle cx="376.84" cy="351.34" r="0.45" fill="#fbfbfb" fill-opacity="0.85"/><circle cx="409.91" cy="342.14" r="0.45" fill="#fbfbfb" fill-opacity="0.85"/><circle cx="378.67" cy="335.87" r="0.45" fill="#fbfbfb" fill-opacity="0.85"/><circle cx="378.13" cy="355.03" r="0.45" fill="#fbfbfb" fill-opacity="0.85"/><circle cx="374.94" cy="352.65" r="0.45" fill="#fbfbfb" fill-opacity="0.85"/><circle cx="401.64" cy="347.65" r="0.45" fill="#fbfbfb" fill-opacity="0.85"/><circle cx="380.48" cy="345.82" r="0.45" fill="#fbfbfb" fill-opacity="0.85"/><circle cx="357.81" cy="341.61" r="0.45" fill="#fbfbfb" fill-opacity="0.85"/><circle cx="402.41" cy="338.86" r="0.45" fill="#fbfbfb" fill-opacity="0.85"/><circle cx="380.84" cy="329.06" r="0.45" fill="#fbfbfb" fill-opacity="0.85"/><circle cx="401.63" cy="351.94" r="0.45" fill="#fbfbfb" fill-opacity="0.85"/><circle cx="381.56" cy="317.93" r="0.45" fill="#fbfbfb" fill-opacity="0.85"/><circle cx="402.34" cy="346.39" r="0.45" fill="#fbfbfb" fill-opacity="0.85"/><circle cx="378.69" cy="341.49" r="0.45" fill="#fbfbfb" fill-opacity="0.85"/><circle cx="382.22" cy="360.31" r="0.45" fill="#fbfbfb" fill-opacity="0.85"/><circle cx="373.56" cy="352.45" r="0.45" fill="#fbfbfb" fill-opacity="0.85"/><circle cx="399.88" cy="342.36" r="0.45" fill="#fbfbfb" fill-opacity="0.85"/><circle cx="376.17" cy="329.92" r="0.45" fill="#fbfbfb" fill-opacity="0.85"/><circle cx="384.87" cy="328.57" r="0.45" fill="#fbfbfb" fill-opacity="0.85"/><circle cx="369.05" cy="345.94" r="0.45" fill="#fbfbfb" fill-opacity="0.85"/><circle cx="380.44" cy="357.42" r="0.45" fill="#fbfbfb" fill-opacity="0.85"/><circle cx="372.4" cy="335.44" r="0.45" fill="#fbfbfb" fill-opacity="0.85"/><circle cx="374.32" cy="352.25" r="0.45" fill="#fbfbfb" fill-opacity="0.85"/><circle cx="405.72" cy="341.42" r="0.45" fill="#fbfbfb" fill-opacity="0.85"/><circle cx="375.84" cy="348.27" r="0.45" fill="#fbfbfb" fill-opacity="0.85"/><circle cx="386.23" cy="343.24" r="0.45" fill="#fbfbfb" fill-opacity="0.85"/><circle cx="392.78" cy="355.94" r="0.45" fill="#fbfbfb" fill-opacity="0.85"/><circle cx="361.03" cy="341.74" r="0.45" fill="#fbfbfb" fill-opacity="0.85"/><circle cx="379.29" cy="337.15" r="0.45" fill="#fbfbfb" fill-opacity="0.85"/><circle cx="401.07" cy="333.96" r="0.45" fill="#fbfbfb" fill-opacity="0.85"/><circle cx="373.17" cy="345.26" r="0.45" fill="#fbfbfb" fill-opacity="0.85"/><circle cx="408.69" cy="336.57" r="0.45" fill="#fbfbfb" fill-opacity="0.85"/><circle cx="386.85" cy="340.7" r="0.45" fill="#fbfbfb" fill-opacity="0.85"/><circle cx="373.76" cy="333.15" r="0.45" fill="#fbfbfb" fill-opacity="0.85"/><circle cx="390.53" cy="343.92" r="0.45" fill="#fbfbfb" fill-opacity="0.85"/><circle cx="386.93" cy="332.56" r="0.45" fill="#fbfbfb" fill-opacity="0.85"/><circle cx="385.33" cy="338.74" r="0.45" fill="#fbfbfb" fill-opacity="0.85"/><circle cx="391.58" cy="340.72" r="0.45" fill="#fbfbfb" fill-opacity="0.85"/></g>
<rect x="461.3" y="236.3" width="7" height="4.7" fill="#c9c9ce" />
<rect x="461.3" y="246.2" width="7" height="4.8" fill="#47526a" />
<text x="472.1" y="241" font-size="6.3" textLength="39.8" lengthAdjust="spacingAndGlyphs" stroke="#2a2a2a" stroke-width="0.1">Healthy donor</text>
<text x="472.1" y="251.1" font-size="6.3" font-style="italic" textLength="17.3" lengthAdjust="spacingAndGlyphs" stroke="#2a2a2a" stroke-width="0.1">RAG2</text>
<text x="489.8" y="247.6" font-size="4" textLength="4.6" lengthAdjust="spacingAndGlyphs" stroke="#2a2a2a" stroke-width="0.1">&#8722;/&#8722;</text>
<text x="498.8" y="251.1" font-size="6.3" textLength="7.5" lengthAdjust="spacingAndGlyphs" stroke="#2a2a2a" stroke-width="0.1">GT</text>
<rect x="469.1" y="294.7" width="13.5" height="56.3" fill="#c9c9ce" />
<rect x="491.5" y="281.2" width="13.3" height="69.8" fill="#47526a" />
<line x1="461.2" y1="260.2" x2="461.2" y2="351.6" stroke="#222" stroke-width="1" />
<line x1="460.7" y1="351.1" x2="512.6" y2="351.1" stroke="#222" stroke-width="1" />
<line x1="458.3" y1="263.4" x2="461.2" y2="263.4" stroke="#222" stroke-width="0.9" />
<text x="452.6" y="265.6" font-size="6.3" text-anchor="middle" stroke="#2a2a2a" stroke-width="0.1">8</text>
<line x1="458.3" y1="285.3" x2="461.2" y2="285.3" stroke="#222" stroke-width="0.9" />
<text x="452.6" y="287.5" font-size="6.3" text-anchor="middle" stroke="#2a2a2a" stroke-width="0.1">6</text>
<line x1="458.3" y1="307.4" x2="461.2" y2="307.4" stroke="#222" stroke-width="0.9" />
<text x="452.6" y="309.6" font-size="6.3" text-anchor="middle" stroke="#2a2a2a" stroke-width="0.1">4</text>
<line x1="458.3" y1="329.3" x2="461.2" y2="329.3" stroke="#222" stroke-width="0.9" />
<text x="452.6" y="331.5" font-size="6.3" text-anchor="middle" stroke="#2a2a2a" stroke-width="0.1">2</text>
<line x1="458.3" y1="351.1" x2="461.2" y2="351.1" stroke="#222" stroke-width="0.9" />
<text x="452.6" y="353.3" font-size="6.3" text-anchor="middle" stroke="#2a2a2a" stroke-width="0.1">0</text>
<line x1="475.8" y1="351.1" x2="475.8" y2="354" stroke="#222" stroke-width="0.8" />
<line x1="498.2" y1="351.1" x2="498.2" y2="354" stroke="#222" stroke-width="0.8" />
<text font-size="8.3" stroke="#2a2a2a" stroke-width="0.13" transform="translate(447.1,305.8) rotate(-90) scale(0.7209,1)" x="-43.14" y="0"><tspan font-size="8.3" dy="0">Shannon H index score</tspan></text>
</svg>
</body></html>
